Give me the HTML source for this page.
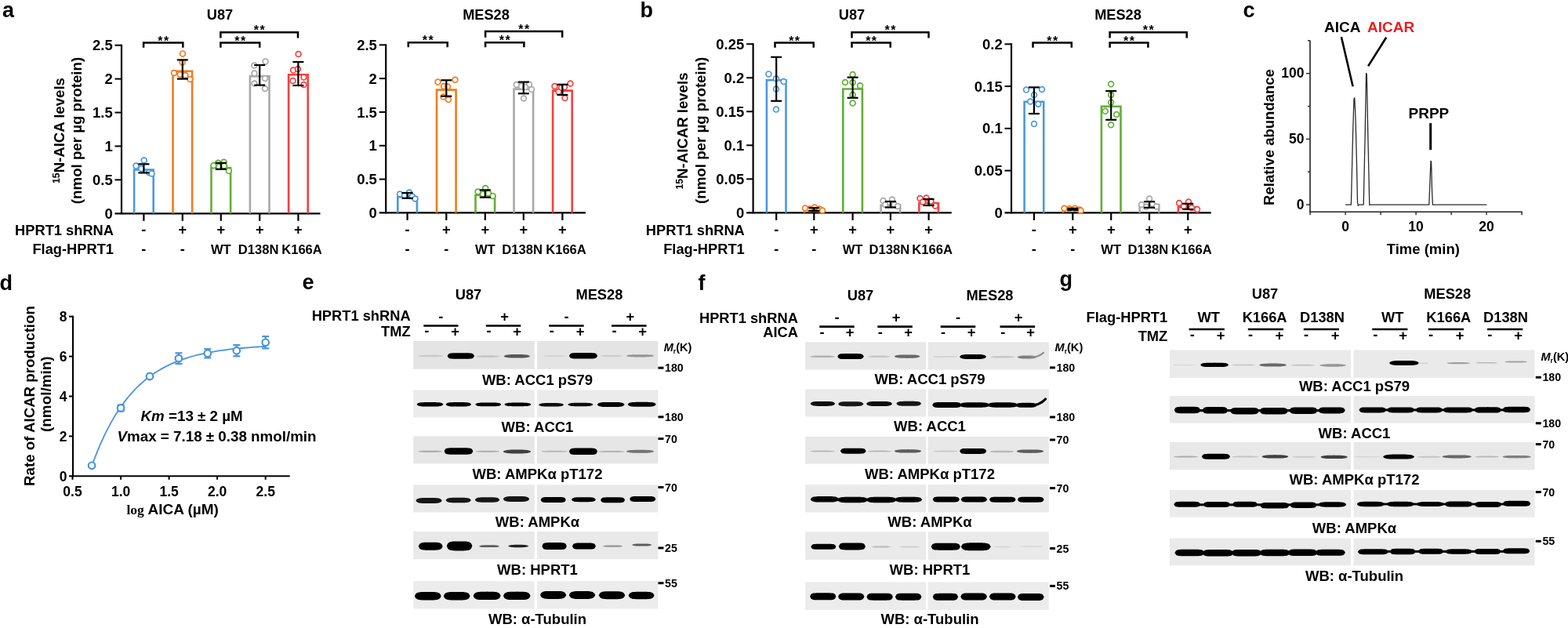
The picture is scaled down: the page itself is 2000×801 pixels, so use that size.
<!DOCTYPE html>
<html><head><meta charset="utf-8"><title>Figure</title>
<style>
html,body{margin:0;padding:0;background:#fff;width:2000px;height:801px;overflow:hidden}
svg{display:block}
text{font-family:"Liberation Sans", Arial, sans-serif;}
</style></head>
<body><svg width="2000" height="801" viewBox="0 0 2000 801">
<rect width="2000" height="801" fill="#fff"/>
<text x="3.0" y="22.0" font-size="27" text-anchor="start" font-weight="bold" fill="#000" >a</text>
<text x="816.5" y="22.3" font-size="27" text-anchor="start" font-weight="bold" fill="#000" >b</text>
<text x="1585.5" y="22.0" font-size="27" text-anchor="start" font-weight="bold" fill="#000" >c</text>
<text x="-0.5" y="370.3" font-size="27" text-anchor="start" font-weight="bold" fill="#000" >d</text>
<text x="385.5" y="368.9" font-size="27" text-anchor="start" font-weight="bold" fill="#000" >e</text>
<text x="890.5" y="369.5" font-size="27" text-anchor="start" font-weight="bold" fill="#000" >f</text>
<text x="1351.5" y="364.6" font-size="27" text-anchor="start" font-weight="bold" fill="#000" >g</text>
<line x1="155.00" y1="56.70" x2="155.00" y2="273.30" stroke="#000" stroke-width="2.2" stroke-linecap="butt"/>
<line x1="146.50" y1="272.30" x2="408.50" y2="272.30" stroke="#000" stroke-width="2.2" stroke-linecap="butt"/>
<text x="143.7" y="278.9" font-size="18.5" text-anchor="end" font-weight="bold" fill="#000" >0</text>
<line x1="146.50" y1="229.38" x2="155.00" y2="229.38" stroke="#000" stroke-width="2.0" stroke-linecap="butt"/>
<text x="143.7" y="236.0" font-size="18.5" text-anchor="end" font-weight="bold" fill="#000" >0.5</text>
<line x1="146.50" y1="186.46" x2="155.00" y2="186.46" stroke="#000" stroke-width="2.0" stroke-linecap="butt"/>
<text x="143.7" y="193.1" font-size="18.5" text-anchor="end" font-weight="bold" fill="#000" >1</text>
<line x1="146.50" y1="143.54" x2="155.00" y2="143.54" stroke="#000" stroke-width="2.0" stroke-linecap="butt"/>
<text x="143.7" y="150.1" font-size="18.5" text-anchor="end" font-weight="bold" fill="#000" >1.5</text>
<line x1="146.50" y1="100.62" x2="155.00" y2="100.62" stroke="#000" stroke-width="2.0" stroke-linecap="butt"/>
<text x="143.7" y="107.2" font-size="18.5" text-anchor="end" font-weight="bold" fill="#000" >2</text>
<line x1="146.50" y1="57.70" x2="155.00" y2="57.70" stroke="#000" stroke-width="2.0" stroke-linecap="butt"/>
<text x="143.7" y="64.3" font-size="18.5" text-anchor="end" font-weight="bold" fill="#000" >2.5</text>
<line x1="183.40" y1="272.30" x2="183.40" y2="281.80" stroke="#000" stroke-width="2.2" stroke-linecap="butt"/>
<line x1="232.80" y1="272.30" x2="232.80" y2="281.80" stroke="#000" stroke-width="2.2" stroke-linecap="butt"/>
<line x1="281.80" y1="272.30" x2="281.80" y2="281.80" stroke="#000" stroke-width="2.2" stroke-linecap="butt"/>
<line x1="331.20" y1="272.30" x2="331.20" y2="281.80" stroke="#000" stroke-width="2.2" stroke-linecap="butt"/>
<line x1="380.40" y1="272.30" x2="380.40" y2="281.80" stroke="#000" stroke-width="2.2" stroke-linecap="butt"/>
<path d="M171.10,272.30 V216.50 H195.70 V272.30" fill="none" stroke="#4c98dd" stroke-width="2.6"/>
<path d="M220.50,272.30 V90.80 H245.10 V272.30" fill="none" stroke="#f27b21" stroke-width="2.6"/>
<path d="M269.50,272.30 V214.00 H294.10 V272.30" fill="none" stroke="#62ae38" stroke-width="2.6"/>
<path d="M318.90,272.30 V97.30 H343.50 V272.30" fill="none" stroke="#a8a8a8" stroke-width="2.6"/>
<path d="M368.10,272.30 V95.20 H392.70 V272.30" fill="none" stroke="#f6403f" stroke-width="2.6"/>
<circle cx="173.5" cy="211.6" r="3.4" fill="#fff" stroke="#4c98dd" stroke-width="1.7"/>
<circle cx="183.7" cy="204.6" r="3.4" fill="#fff" stroke="#4c98dd" stroke-width="1.7"/>
<circle cx="180.2" cy="215.1" r="3.4" fill="#fff" stroke="#4c98dd" stroke-width="1.7"/>
<circle cx="190.0" cy="220.0" r="3.4" fill="#fff" stroke="#4c98dd" stroke-width="1.7"/>
<circle cx="193.6" cy="221.4" r="3.4" fill="#fff" stroke="#4c98dd" stroke-width="1.7"/>
<circle cx="233.0" cy="68.4" r="3.4" fill="#fff" stroke="#f27b21" stroke-width="1.7"/>
<circle cx="232.6" cy="79.6" r="3.4" fill="#fff" stroke="#f27b21" stroke-width="1.7"/>
<circle cx="222.0" cy="93.0" r="3.4" fill="#fff" stroke="#f27b21" stroke-width="1.7"/>
<circle cx="229.6" cy="95.0" r="3.4" fill="#fff" stroke="#f27b21" stroke-width="1.7"/>
<circle cx="236.4" cy="96.0" r="3.4" fill="#fff" stroke="#f27b21" stroke-width="1.7"/>
<circle cx="242.4" cy="101.0" r="3.4" fill="#fff" stroke="#f27b21" stroke-width="1.7"/>
<circle cx="272.4" cy="211.0" r="3.4" fill="#fff" stroke="#62ae38" stroke-width="1.7"/>
<circle cx="278.2" cy="207.8" r="3.4" fill="#fff" stroke="#62ae38" stroke-width="1.7"/>
<circle cx="285.6" cy="206.7" r="3.4" fill="#fff" stroke="#62ae38" stroke-width="1.7"/>
<circle cx="291.9" cy="217.9" r="3.4" fill="#fff" stroke="#62ae38" stroke-width="1.7"/>
<circle cx="279.3" cy="212.6" r="3.4" fill="#fff" stroke="#62ae38" stroke-width="1.7"/>
<circle cx="286.0" cy="211.5" r="3.4" fill="#fff" stroke="#62ae38" stroke-width="1.7"/>
<circle cx="324.4" cy="83.6" r="3.4" fill="#fff" stroke="#a8a8a8" stroke-width="1.7"/>
<circle cx="338.6" cy="78.6" r="3.4" fill="#fff" stroke="#a8a8a8" stroke-width="1.7"/>
<circle cx="324.6" cy="93.6" r="3.4" fill="#fff" stroke="#a8a8a8" stroke-width="1.7"/>
<circle cx="338.0" cy="100.0" r="3.4" fill="#fff" stroke="#a8a8a8" stroke-width="1.7"/>
<circle cx="324.6" cy="106.6" r="3.4" fill="#fff" stroke="#a8a8a8" stroke-width="1.7"/>
<circle cx="338.0" cy="113.0" r="3.4" fill="#fff" stroke="#a8a8a8" stroke-width="1.7"/>
<circle cx="380.6" cy="69.0" r="3.4" fill="#fff" stroke="#f6403f" stroke-width="1.7"/>
<circle cx="374.0" cy="89.6" r="3.4" fill="#fff" stroke="#f6403f" stroke-width="1.7"/>
<circle cx="380.0" cy="88.0" r="3.4" fill="#fff" stroke="#f6403f" stroke-width="1.7"/>
<circle cx="373.6" cy="103.0" r="3.4" fill="#fff" stroke="#f6403f" stroke-width="1.7"/>
<circle cx="387.4" cy="98.6" r="3.4" fill="#fff" stroke="#f6403f" stroke-width="1.7"/>
<circle cx="387.4" cy="108.0" r="3.4" fill="#fff" stroke="#f6403f" stroke-width="1.7"/>
<line x1="183.40" y1="209.30" x2="183.40" y2="220.40" stroke="#000" stroke-width="2.2" stroke-linecap="butt"/>
<line x1="176.40" y1="209.30" x2="190.40" y2="209.30" stroke="#000" stroke-width="2.2" stroke-linecap="butt"/>
<line x1="176.40" y1="220.40" x2="190.40" y2="220.40" stroke="#000" stroke-width="2.2" stroke-linecap="butt"/>
<line x1="232.80" y1="76.40" x2="232.80" y2="100.60" stroke="#000" stroke-width="2.2" stroke-linecap="butt"/>
<line x1="225.80" y1="76.40" x2="239.80" y2="76.40" stroke="#000" stroke-width="2.2" stroke-linecap="butt"/>
<line x1="225.80" y1="100.60" x2="239.80" y2="100.60" stroke="#000" stroke-width="2.2" stroke-linecap="butt"/>
<line x1="281.80" y1="207.80" x2="281.80" y2="215.80" stroke="#000" stroke-width="2.2" stroke-linecap="butt"/>
<line x1="274.80" y1="207.80" x2="288.80" y2="207.80" stroke="#000" stroke-width="2.2" stroke-linecap="butt"/>
<line x1="274.80" y1="215.80" x2="288.80" y2="215.80" stroke="#000" stroke-width="2.2" stroke-linecap="butt"/>
<line x1="331.20" y1="83.00" x2="331.20" y2="108.60" stroke="#000" stroke-width="2.2" stroke-linecap="butt"/>
<line x1="324.20" y1="83.00" x2="338.20" y2="83.00" stroke="#000" stroke-width="2.2" stroke-linecap="butt"/>
<line x1="324.20" y1="108.60" x2="338.20" y2="108.60" stroke="#000" stroke-width="2.2" stroke-linecap="butt"/>
<line x1="380.40" y1="79.00" x2="380.40" y2="109.00" stroke="#000" stroke-width="2.2" stroke-linecap="butt"/>
<line x1="373.40" y1="79.00" x2="387.40" y2="79.00" stroke="#000" stroke-width="2.2" stroke-linecap="butt"/>
<line x1="373.40" y1="109.00" x2="387.40" y2="109.00" stroke="#000" stroke-width="2.2" stroke-linecap="butt"/>
<path d="M183.1,60.8 V54.6 H233.3 V60.8" fill="none" stroke="#000" stroke-width="2.5"/>
<text x="208.9" y="57.6" font-size="16" text-anchor="middle" font-weight="bold" fill="#000" letter-spacing="1.4">**</text>
<path d="M281.4,48.4 V41.2 H380.0 V48.4" fill="none" stroke="#000" stroke-width="2.5"/>
<text x="331.4" y="44.2" font-size="16" text-anchor="middle" font-weight="bold" fill="#000" letter-spacing="1.4">**</text>
<path d="M281.4,60.8 V54.6 H331.2 V60.8" fill="none" stroke="#000" stroke-width="2.5"/>
<text x="307.0" y="57.6" font-size="16" text-anchor="middle" font-weight="bold" fill="#000" letter-spacing="1.4">**</text>
<text x="280.5" y="24.7" font-size="18.2" text-anchor="middle" font-weight="bold" fill="#000" >U87</text>
<text x="183.4" y="298.8" font-size="18.2" text-anchor="middle" font-weight="bold" fill="#000" >-</text>
<text x="232.8" y="298.8" font-size="18.2" text-anchor="middle" font-weight="bold" fill="#000" >+</text>
<text x="281.8" y="298.8" font-size="18.2" text-anchor="middle" font-weight="bold" fill="#000" >+</text>
<text x="331.2" y="298.8" font-size="18.2" text-anchor="middle" font-weight="bold" fill="#000" >+</text>
<text x="380.4" y="298.8" font-size="18.2" text-anchor="middle" font-weight="bold" fill="#000" >+</text>
<text x="183.4" y="324.0" font-size="18.2" text-anchor="middle" font-weight="bold" fill="#000" >-</text>
<text x="232.8" y="324.0" font-size="18.2" text-anchor="middle" font-weight="bold" fill="#000" >-</text>
<text x="281.8" y="324.0" font-size="16.6" text-anchor="middle" font-weight="bold" fill="#000" >WT</text>
<text x="329.6" y="324.0" font-size="16.6" text-anchor="middle" font-weight="bold" fill="#000" >D138N</text>
<text x="385.0" y="324.0" font-size="16.6" text-anchor="middle" font-weight="bold" fill="#000" >K166A</text>
<text x="145.0" y="299.6" font-size="18.3" text-anchor="end" font-weight="bold" fill="#000" >HPRT1 shRNA</text>
<text x="145.0" y="324.2" font-size="18.3" text-anchor="end" font-weight="bold" fill="#000" >Flag-HPRT1</text>
<line x1="492.20" y1="56.30" x2="492.20" y2="272.40" stroke="#000" stroke-width="2.2" stroke-linecap="butt"/>
<line x1="483.70" y1="271.40" x2="747.00" y2="271.40" stroke="#000" stroke-width="2.2" stroke-linecap="butt"/>
<text x="480.9" y="278.0" font-size="18.5" text-anchor="end" font-weight="bold" fill="#000" >0</text>
<line x1="483.70" y1="228.58" x2="492.20" y2="228.58" stroke="#000" stroke-width="2.0" stroke-linecap="butt"/>
<text x="480.9" y="235.2" font-size="18.5" text-anchor="end" font-weight="bold" fill="#000" >0.5</text>
<line x1="483.70" y1="185.76" x2="492.20" y2="185.76" stroke="#000" stroke-width="2.0" stroke-linecap="butt"/>
<text x="480.9" y="192.4" font-size="18.5" text-anchor="end" font-weight="bold" fill="#000" >1</text>
<line x1="483.70" y1="142.94" x2="492.20" y2="142.94" stroke="#000" stroke-width="2.0" stroke-linecap="butt"/>
<text x="480.9" y="149.5" font-size="18.5" text-anchor="end" font-weight="bold" fill="#000" >1.5</text>
<line x1="483.70" y1="100.12" x2="492.20" y2="100.12" stroke="#000" stroke-width="2.0" stroke-linecap="butt"/>
<text x="480.9" y="106.7" font-size="18.5" text-anchor="end" font-weight="bold" fill="#000" >2</text>
<line x1="483.70" y1="57.30" x2="492.20" y2="57.30" stroke="#000" stroke-width="2.0" stroke-linecap="butt"/>
<text x="480.9" y="63.9" font-size="18.5" text-anchor="end" font-weight="bold" fill="#000" >2.5</text>
<line x1="519.60" y1="271.40" x2="519.60" y2="280.90" stroke="#000" stroke-width="2.2" stroke-linecap="butt"/>
<line x1="569.30" y1="271.40" x2="569.30" y2="280.90" stroke="#000" stroke-width="2.2" stroke-linecap="butt"/>
<line x1="618.80" y1="271.40" x2="618.80" y2="280.90" stroke="#000" stroke-width="2.2" stroke-linecap="butt"/>
<line x1="667.80" y1="271.40" x2="667.80" y2="280.90" stroke="#000" stroke-width="2.2" stroke-linecap="butt"/>
<line x1="717.40" y1="271.40" x2="717.40" y2="280.90" stroke="#000" stroke-width="2.2" stroke-linecap="butt"/>
<path d="M507.30,271.40 V251.20 H531.90 V271.40" fill="none" stroke="#4c98dd" stroke-width="2.6"/>
<path d="M557.00,271.40 V114.60 H581.60 V271.40" fill="none" stroke="#f27b21" stroke-width="2.6"/>
<path d="M606.50,271.40 V249.00 H631.10 V271.40" fill="none" stroke="#62ae38" stroke-width="2.6"/>
<path d="M655.50,271.40 V113.60 H680.10 V271.40" fill="none" stroke="#a8a8a8" stroke-width="2.6"/>
<path d="M705.10,271.40 V115.60 H729.70 V271.40" fill="none" stroke="#f6403f" stroke-width="2.6"/>
<circle cx="510.0" cy="247.5" r="3.4" fill="#fff" stroke="#4c98dd" stroke-width="1.7"/>
<circle cx="522.0" cy="245.5" r="3.4" fill="#fff" stroke="#4c98dd" stroke-width="1.7"/>
<circle cx="516.0" cy="249.5" r="3.4" fill="#fff" stroke="#4c98dd" stroke-width="1.7"/>
<circle cx="526.0" cy="250.5" r="3.4" fill="#fff" stroke="#4c98dd" stroke-width="1.7"/>
<circle cx="529.5" cy="253.5" r="3.4" fill="#fff" stroke="#4c98dd" stroke-width="1.7"/>
<circle cx="558.5" cy="104.5" r="3.4" fill="#fff" stroke="#f27b21" stroke-width="1.7"/>
<circle cx="580.5" cy="101.8" r="3.4" fill="#fff" stroke="#f27b21" stroke-width="1.7"/>
<circle cx="566.0" cy="110.0" r="3.4" fill="#fff" stroke="#f27b21" stroke-width="1.7"/>
<circle cx="571.0" cy="110.5" r="3.4" fill="#fff" stroke="#f27b21" stroke-width="1.7"/>
<circle cx="565.5" cy="123.5" r="3.4" fill="#fff" stroke="#f27b21" stroke-width="1.7"/>
<circle cx="572.0" cy="127.0" r="3.4" fill="#fff" stroke="#f27b21" stroke-width="1.7"/>
<circle cx="609.5" cy="244.5" r="3.4" fill="#fff" stroke="#62ae38" stroke-width="1.7"/>
<circle cx="619.2" cy="240.0" r="3.4" fill="#fff" stroke="#62ae38" stroke-width="1.7"/>
<circle cx="616.0" cy="247.5" r="3.4" fill="#fff" stroke="#62ae38" stroke-width="1.7"/>
<circle cx="623.0" cy="246.5" r="3.4" fill="#fff" stroke="#62ae38" stroke-width="1.7"/>
<circle cx="628.5" cy="250.0" r="3.4" fill="#fff" stroke="#62ae38" stroke-width="1.7"/>
<circle cx="658.8" cy="108.0" r="3.4" fill="#fff" stroke="#a8a8a8" stroke-width="1.7"/>
<circle cx="675.0" cy="107.8" r="3.4" fill="#fff" stroke="#a8a8a8" stroke-width="1.7"/>
<circle cx="665.0" cy="110.0" r="3.4" fill="#fff" stroke="#a8a8a8" stroke-width="1.7"/>
<circle cx="670.0" cy="111.0" r="3.4" fill="#fff" stroke="#a8a8a8" stroke-width="1.7"/>
<circle cx="678.0" cy="114.0" r="3.4" fill="#fff" stroke="#a8a8a8" stroke-width="1.7"/>
<circle cx="668.0" cy="125.5" r="3.4" fill="#fff" stroke="#a8a8a8" stroke-width="1.7"/>
<circle cx="707.5" cy="110.0" r="3.4" fill="#fff" stroke="#f6403f" stroke-width="1.7"/>
<circle cx="727.5" cy="106.5" r="3.4" fill="#fff" stroke="#f6403f" stroke-width="1.7"/>
<circle cx="716.0" cy="112.0" r="3.4" fill="#fff" stroke="#f6403f" stroke-width="1.7"/>
<circle cx="720.0" cy="111.0" r="3.4" fill="#fff" stroke="#f6403f" stroke-width="1.7"/>
<circle cx="712.5" cy="117.0" r="3.4" fill="#fff" stroke="#f6403f" stroke-width="1.7"/>
<circle cx="720.5" cy="125.0" r="3.4" fill="#fff" stroke="#f6403f" stroke-width="1.7"/>
<line x1="519.60" y1="246.00" x2="519.60" y2="252.80" stroke="#000" stroke-width="2.2" stroke-linecap="butt"/>
<line x1="512.60" y1="246.00" x2="526.60" y2="246.00" stroke="#000" stroke-width="2.2" stroke-linecap="butt"/>
<line x1="512.60" y1="252.80" x2="526.60" y2="252.80" stroke="#000" stroke-width="2.2" stroke-linecap="butt"/>
<line x1="569.30" y1="102.30" x2="569.30" y2="122.70" stroke="#000" stroke-width="2.2" stroke-linecap="butt"/>
<line x1="562.30" y1="102.30" x2="576.30" y2="102.30" stroke="#000" stroke-width="2.2" stroke-linecap="butt"/>
<line x1="562.30" y1="122.70" x2="576.30" y2="122.70" stroke="#000" stroke-width="2.2" stroke-linecap="butt"/>
<line x1="618.80" y1="242.40" x2="618.80" y2="251.70" stroke="#000" stroke-width="2.2" stroke-linecap="butt"/>
<line x1="611.80" y1="242.40" x2="625.80" y2="242.40" stroke="#000" stroke-width="2.2" stroke-linecap="butt"/>
<line x1="611.80" y1="251.70" x2="625.80" y2="251.70" stroke="#000" stroke-width="2.2" stroke-linecap="butt"/>
<line x1="667.80" y1="104.60" x2="667.80" y2="119.30" stroke="#000" stroke-width="2.2" stroke-linecap="butt"/>
<line x1="660.80" y1="104.60" x2="674.80" y2="104.60" stroke="#000" stroke-width="2.2" stroke-linecap="butt"/>
<line x1="660.80" y1="119.30" x2="674.80" y2="119.30" stroke="#000" stroke-width="2.2" stroke-linecap="butt"/>
<line x1="717.40" y1="107.80" x2="717.40" y2="121.00" stroke="#000" stroke-width="2.2" stroke-linecap="butt"/>
<line x1="710.40" y1="107.80" x2="724.40" y2="107.80" stroke="#000" stroke-width="2.2" stroke-linecap="butt"/>
<line x1="710.40" y1="121.00" x2="724.40" y2="121.00" stroke="#000" stroke-width="2.2" stroke-linecap="butt"/>
<path d="M520.8,60.2 V54.2 H570.7 V60.2" fill="none" stroke="#000" stroke-width="2.5"/>
<text x="546.5" y="57.2" font-size="16" text-anchor="middle" font-weight="bold" fill="#000" letter-spacing="1.4">**</text>
<path d="M619.1,47.8 V40.0 H717.2 V47.8" fill="none" stroke="#000" stroke-width="2.5"/>
<text x="668.9" y="43.0" font-size="16" text-anchor="middle" font-weight="bold" fill="#000" letter-spacing="1.4">**</text>
<path d="M619.1,60.2 V54.2 H668.4 V60.2" fill="none" stroke="#000" stroke-width="2.5"/>
<text x="644.5" y="57.2" font-size="16" text-anchor="middle" font-weight="bold" fill="#000" letter-spacing="1.4">**</text>
<text x="620.0" y="24.7" font-size="18.2" text-anchor="middle" font-weight="bold" fill="#000" >MES28</text>
<text x="519.6" y="298.8" font-size="18.2" text-anchor="middle" font-weight="bold" fill="#000" >-</text>
<text x="569.3" y="298.8" font-size="18.2" text-anchor="middle" font-weight="bold" fill="#000" >+</text>
<text x="618.8" y="298.8" font-size="18.2" text-anchor="middle" font-weight="bold" fill="#000" >+</text>
<text x="667.8" y="298.8" font-size="18.2" text-anchor="middle" font-weight="bold" fill="#000" >+</text>
<text x="717.4" y="298.8" font-size="18.2" text-anchor="middle" font-weight="bold" fill="#000" >+</text>
<text x="519.6" y="324.0" font-size="18.2" text-anchor="middle" font-weight="bold" fill="#000" >-</text>
<text x="569.3" y="324.0" font-size="18.2" text-anchor="middle" font-weight="bold" fill="#000" >-</text>
<text x="618.8" y="324.0" font-size="16.6" text-anchor="middle" font-weight="bold" fill="#000" >WT</text>
<text x="666.2" y="324.0" font-size="16.6" text-anchor="middle" font-weight="bold" fill="#000" >D138N</text>
<text x="722.0" y="324.0" font-size="16.6" text-anchor="middle" font-weight="bold" fill="#000" >K166A</text>
<line x1="960.60" y1="55.20" x2="960.60" y2="272.40" stroke="#000" stroke-width="2.2" stroke-linecap="butt"/>
<line x1="952.10" y1="271.40" x2="1213.80" y2="271.40" stroke="#000" stroke-width="2.2" stroke-linecap="butt"/>
<text x="949.3" y="278.0" font-size="18.5" text-anchor="end" font-weight="bold" fill="#000" >0</text>
<line x1="952.10" y1="228.36" x2="960.60" y2="228.36" stroke="#000" stroke-width="2.0" stroke-linecap="butt"/>
<text x="949.3" y="235.0" font-size="18.5" text-anchor="end" font-weight="bold" fill="#000" >0.05</text>
<line x1="952.10" y1="185.32" x2="960.60" y2="185.32" stroke="#000" stroke-width="2.0" stroke-linecap="butt"/>
<text x="949.3" y="191.9" font-size="18.5" text-anchor="end" font-weight="bold" fill="#000" >0.1</text>
<line x1="952.10" y1="142.28" x2="960.60" y2="142.28" stroke="#000" stroke-width="2.0" stroke-linecap="butt"/>
<text x="949.3" y="148.9" font-size="18.5" text-anchor="end" font-weight="bold" fill="#000" >0.15</text>
<line x1="952.10" y1="99.24" x2="960.60" y2="99.24" stroke="#000" stroke-width="2.0" stroke-linecap="butt"/>
<text x="949.3" y="105.8" font-size="18.5" text-anchor="end" font-weight="bold" fill="#000" >0.2</text>
<line x1="952.10" y1="56.20" x2="960.60" y2="56.20" stroke="#000" stroke-width="2.0" stroke-linecap="butt"/>
<text x="949.3" y="62.8" font-size="18.5" text-anchor="end" font-weight="bold" fill="#000" >0.25</text>
<line x1="990.20" y1="271.40" x2="990.20" y2="280.90" stroke="#000" stroke-width="2.2" stroke-linecap="butt"/>
<line x1="1038.30" y1="271.40" x2="1038.30" y2="280.90" stroke="#000" stroke-width="2.2" stroke-linecap="butt"/>
<line x1="1087.60" y1="271.40" x2="1087.60" y2="280.90" stroke="#000" stroke-width="2.2" stroke-linecap="butt"/>
<line x1="1135.90" y1="271.40" x2="1135.90" y2="280.90" stroke="#000" stroke-width="2.2" stroke-linecap="butt"/>
<line x1="1184.60" y1="271.40" x2="1184.60" y2="280.90" stroke="#000" stroke-width="2.2" stroke-linecap="butt"/>
<path d="M977.90,271.40 V102.20 H1002.50 V271.40" fill="none" stroke="#4c98dd" stroke-width="2.6"/>
<path d="M1026.00,271.40 V267.20 H1050.60 V271.40" fill="none" stroke="#f27b21" stroke-width="2.6"/>
<path d="M1075.30,271.40 V113.50 H1099.90 V271.40" fill="none" stroke="#62ae38" stroke-width="2.6"/>
<path d="M1123.60,271.40 V261.80 H1148.20 V271.40" fill="none" stroke="#a8a8a8" stroke-width="2.6"/>
<path d="M1172.30,271.40 V259.00 H1196.90 V271.40" fill="none" stroke="#f6403f" stroke-width="2.6"/>
<circle cx="980.4" cy="94.4" r="3.4" fill="#fff" stroke="#4c98dd" stroke-width="1.7"/>
<circle cx="990.0" cy="100.2" r="3.4" fill="#fff" stroke="#4c98dd" stroke-width="1.7"/>
<circle cx="999.5" cy="104.0" r="3.4" fill="#fff" stroke="#4c98dd" stroke-width="1.7"/>
<circle cx="990.0" cy="113.5" r="3.4" fill="#fff" stroke="#4c98dd" stroke-width="1.7"/>
<circle cx="990.0" cy="139.6" r="3.4" fill="#fff" stroke="#4c98dd" stroke-width="1.7"/>
<circle cx="1027.0" cy="265.5" r="3.4" fill="#fff" stroke="#f27b21" stroke-width="1.7"/>
<circle cx="1033.0" cy="266.5" r="3.4" fill="#fff" stroke="#f27b21" stroke-width="1.7"/>
<circle cx="1039.0" cy="264.5" r="3.4" fill="#fff" stroke="#f27b21" stroke-width="1.7"/>
<circle cx="1045.0" cy="266.5" r="3.4" fill="#fff" stroke="#f27b21" stroke-width="1.7"/>
<circle cx="1049.0" cy="268.5" r="3.4" fill="#fff" stroke="#f27b21" stroke-width="1.7"/>
<circle cx="1087.6" cy="95.0" r="3.4" fill="#fff" stroke="#62ae38" stroke-width="1.7"/>
<circle cx="1078.0" cy="105.0" r="3.4" fill="#fff" stroke="#62ae38" stroke-width="1.7"/>
<circle cx="1087.6" cy="105.0" r="3.4" fill="#fff" stroke="#62ae38" stroke-width="1.7"/>
<circle cx="1097.1" cy="109.3" r="3.4" fill="#fff" stroke="#62ae38" stroke-width="1.7"/>
<circle cx="1087.6" cy="121.0" r="3.4" fill="#fff" stroke="#62ae38" stroke-width="1.7"/>
<circle cx="1087.6" cy="131.6" r="3.4" fill="#fff" stroke="#62ae38" stroke-width="1.7"/>
<circle cx="1126.5" cy="256.0" r="3.4" fill="#fff" stroke="#a8a8a8" stroke-width="1.7"/>
<circle cx="1138.0" cy="254.5" r="3.4" fill="#fff" stroke="#a8a8a8" stroke-width="1.7"/>
<circle cx="1129.0" cy="261.0" r="3.4" fill="#fff" stroke="#a8a8a8" stroke-width="1.7"/>
<circle cx="1141.0" cy="261.0" r="3.4" fill="#fff" stroke="#a8a8a8" stroke-width="1.7"/>
<circle cx="1145.0" cy="263.0" r="3.4" fill="#fff" stroke="#a8a8a8" stroke-width="1.7"/>
<circle cx="1173.5" cy="253.0" r="3.4" fill="#fff" stroke="#f6403f" stroke-width="1.7"/>
<circle cx="1181.5" cy="252.5" r="3.4" fill="#fff" stroke="#f6403f" stroke-width="1.7"/>
<circle cx="1187.5" cy="256.5" r="3.4" fill="#fff" stroke="#f6403f" stroke-width="1.7"/>
<circle cx="1193.0" cy="262.5" r="3.4" fill="#fff" stroke="#f6403f" stroke-width="1.7"/>
<circle cx="1177.0" cy="257.5" r="3.4" fill="#fff" stroke="#f6403f" stroke-width="1.7"/>
<line x1="990.20" y1="72.80" x2="990.20" y2="128.80" stroke="#000" stroke-width="2.2" stroke-linecap="butt"/>
<line x1="983.20" y1="72.80" x2="997.20" y2="72.80" stroke="#000" stroke-width="2.2" stroke-linecap="butt"/>
<line x1="983.20" y1="128.80" x2="997.20" y2="128.80" stroke="#000" stroke-width="2.2" stroke-linecap="butt"/>
<line x1="1038.30" y1="265.20" x2="1038.30" y2="268.80" stroke="#000" stroke-width="2.2" stroke-linecap="butt"/>
<line x1="1031.30" y1="265.20" x2="1045.30" y2="265.20" stroke="#000" stroke-width="2.2" stroke-linecap="butt"/>
<line x1="1031.30" y1="268.80" x2="1045.30" y2="268.80" stroke="#000" stroke-width="2.2" stroke-linecap="butt"/>
<line x1="1087.60" y1="98.70" x2="1087.60" y2="124.80" stroke="#000" stroke-width="2.2" stroke-linecap="butt"/>
<line x1="1080.60" y1="98.70" x2="1094.60" y2="98.70" stroke="#000" stroke-width="2.2" stroke-linecap="butt"/>
<line x1="1080.60" y1="124.80" x2="1094.60" y2="124.80" stroke="#000" stroke-width="2.2" stroke-linecap="butt"/>
<line x1="1135.90" y1="257.00" x2="1135.90" y2="264.50" stroke="#000" stroke-width="2.2" stroke-linecap="butt"/>
<line x1="1128.90" y1="257.00" x2="1142.90" y2="257.00" stroke="#000" stroke-width="2.2" stroke-linecap="butt"/>
<line x1="1128.90" y1="264.50" x2="1142.90" y2="264.50" stroke="#000" stroke-width="2.2" stroke-linecap="butt"/>
<line x1="1184.60" y1="254.00" x2="1184.60" y2="262.00" stroke="#000" stroke-width="2.2" stroke-linecap="butt"/>
<line x1="1177.60" y1="254.00" x2="1191.60" y2="254.00" stroke="#000" stroke-width="2.2" stroke-linecap="butt"/>
<line x1="1177.60" y1="262.00" x2="1191.60" y2="262.00" stroke="#000" stroke-width="2.2" stroke-linecap="butt"/>
<path d="M988.5,60.8 V54.6 H1037.7 V60.8" fill="none" stroke="#000" stroke-width="2.5"/>
<text x="1013.8" y="57.6" font-size="16" text-anchor="middle" font-weight="bold" fill="#000" letter-spacing="1.4">**</text>
<path d="M1086.5,48.4 V41.2 H1184.5 V48.4" fill="none" stroke="#000" stroke-width="2.5"/>
<text x="1136.2" y="44.2" font-size="16" text-anchor="middle" font-weight="bold" fill="#000" letter-spacing="1.4">**</text>
<path d="M1086.5,60.8 V54.6 H1135.7 V60.8" fill="none" stroke="#000" stroke-width="2.5"/>
<text x="1111.8" y="57.6" font-size="16" text-anchor="middle" font-weight="bold" fill="#000" letter-spacing="1.4">**</text>
<text x="1086.5" y="24.7" font-size="18.2" text-anchor="middle" font-weight="bold" fill="#000" >U87</text>
<text x="990.2" y="298.8" font-size="18.2" text-anchor="middle" font-weight="bold" fill="#000" >-</text>
<text x="1038.3" y="298.8" font-size="18.2" text-anchor="middle" font-weight="bold" fill="#000" >+</text>
<text x="1087.6" y="298.8" font-size="18.2" text-anchor="middle" font-weight="bold" fill="#000" >+</text>
<text x="1135.9" y="298.8" font-size="18.2" text-anchor="middle" font-weight="bold" fill="#000" >+</text>
<text x="1184.6" y="298.8" font-size="18.2" text-anchor="middle" font-weight="bold" fill="#000" >+</text>
<text x="990.2" y="324.0" font-size="18.2" text-anchor="middle" font-weight="bold" fill="#000" >-</text>
<text x="1038.3" y="324.0" font-size="18.2" text-anchor="middle" font-weight="bold" fill="#000" >-</text>
<text x="1087.6" y="324.0" font-size="16.6" text-anchor="middle" font-weight="bold" fill="#000" >WT</text>
<text x="1134.3" y="324.0" font-size="16.6" text-anchor="middle" font-weight="bold" fill="#000" >D138N</text>
<text x="1189.2" y="324.0" font-size="16.6" text-anchor="middle" font-weight="bold" fill="#000" >K166A</text>
<text x="949.8" y="299.6" font-size="18.3" text-anchor="end" font-weight="bold" fill="#000" >HPRT1 shRNA</text>
<text x="949.8" y="324.2" font-size="18.3" text-anchor="end" font-weight="bold" fill="#000" >Flag-HPRT1</text>
<line x1="1290.00" y1="55.30" x2="1290.00" y2="272.40" stroke="#000" stroke-width="2.2" stroke-linecap="butt"/>
<line x1="1281.50" y1="271.40" x2="1544.70" y2="271.40" stroke="#000" stroke-width="2.2" stroke-linecap="butt"/>
<text x="1278.7" y="278.0" font-size="18.5" text-anchor="end" font-weight="bold" fill="#000" >0</text>
<line x1="1281.50" y1="217.62" x2="1290.00" y2="217.62" stroke="#000" stroke-width="2.0" stroke-linecap="butt"/>
<text x="1278.7" y="224.2" font-size="18.5" text-anchor="end" font-weight="bold" fill="#000" >0.05</text>
<line x1="1281.50" y1="163.85" x2="1290.00" y2="163.85" stroke="#000" stroke-width="2.0" stroke-linecap="butt"/>
<text x="1278.7" y="170.4" font-size="18.5" text-anchor="end" font-weight="bold" fill="#000" >0.1</text>
<line x1="1281.50" y1="110.08" x2="1290.00" y2="110.08" stroke="#000" stroke-width="2.0" stroke-linecap="butt"/>
<text x="1278.7" y="116.7" font-size="18.5" text-anchor="end" font-weight="bold" fill="#000" >0.15</text>
<line x1="1281.50" y1="56.30" x2="1290.00" y2="56.30" stroke="#000" stroke-width="2.0" stroke-linecap="butt"/>
<text x="1278.7" y="62.9" font-size="18.5" text-anchor="end" font-weight="bold" fill="#000" >0.2</text>
<line x1="1318.90" y1="271.40" x2="1318.90" y2="280.90" stroke="#000" stroke-width="2.2" stroke-linecap="butt"/>
<line x1="1368.30" y1="271.40" x2="1368.30" y2="280.90" stroke="#000" stroke-width="2.2" stroke-linecap="butt"/>
<line x1="1417.20" y1="271.40" x2="1417.20" y2="280.90" stroke="#000" stroke-width="2.2" stroke-linecap="butt"/>
<line x1="1466.00" y1="271.40" x2="1466.00" y2="280.90" stroke="#000" stroke-width="2.2" stroke-linecap="butt"/>
<line x1="1515.20" y1="271.40" x2="1515.20" y2="280.90" stroke="#000" stroke-width="2.2" stroke-linecap="butt"/>
<path d="M1306.60,271.40 V129.80 H1331.20 V271.40" fill="none" stroke="#4c98dd" stroke-width="2.6"/>
<path d="M1356.00,271.40 V267.40 H1380.60 V271.40" fill="none" stroke="#f27b21" stroke-width="2.6"/>
<path d="M1404.90,271.40 V135.80 H1429.50 V271.40" fill="none" stroke="#62ae38" stroke-width="2.6"/>
<path d="M1453.70,271.40 V261.00 H1478.30 V271.40" fill="none" stroke="#a8a8a8" stroke-width="2.6"/>
<path d="M1502.90,271.40 V264.40 H1527.50 V271.40" fill="none" stroke="#f6403f" stroke-width="2.6"/>
<circle cx="1309.0" cy="114.6" r="3.4" fill="#fff" stroke="#4c98dd" stroke-width="1.7"/>
<circle cx="1329.0" cy="114.0" r="3.4" fill="#fff" stroke="#4c98dd" stroke-width="1.7"/>
<circle cx="1319.0" cy="121.0" r="3.4" fill="#fff" stroke="#4c98dd" stroke-width="1.7"/>
<circle cx="1314.2" cy="129.5" r="3.4" fill="#fff" stroke="#4c98dd" stroke-width="1.7"/>
<circle cx="1324.3" cy="132.7" r="3.4" fill="#fff" stroke="#4c98dd" stroke-width="1.7"/>
<circle cx="1319.0" cy="158.0" r="3.4" fill="#fff" stroke="#4c98dd" stroke-width="1.7"/>
<circle cx="1357.5" cy="265.8" r="3.4" fill="#fff" stroke="#f27b21" stroke-width="1.7"/>
<circle cx="1364.0" cy="266.3" r="3.4" fill="#fff" stroke="#f27b21" stroke-width="1.7"/>
<circle cx="1371.0" cy="265.7" r="3.4" fill="#fff" stroke="#f27b21" stroke-width="1.7"/>
<circle cx="1377.0" cy="267.5" r="3.4" fill="#fff" stroke="#f27b21" stroke-width="1.7"/>
<circle cx="1378.5" cy="268.5" r="3.4" fill="#fff" stroke="#f27b21" stroke-width="1.7"/>
<circle cx="1417.1" cy="107.2" r="3.4" fill="#fff" stroke="#62ae38" stroke-width="1.7"/>
<circle cx="1417.1" cy="121.0" r="3.4" fill="#fff" stroke="#62ae38" stroke-width="1.7"/>
<circle cx="1417.1" cy="130.5" r="3.4" fill="#fff" stroke="#62ae38" stroke-width="1.7"/>
<circle cx="1409.7" cy="141.8" r="3.4" fill="#fff" stroke="#62ae38" stroke-width="1.7"/>
<circle cx="1424.1" cy="146.0" r="3.4" fill="#fff" stroke="#62ae38" stroke-width="1.7"/>
<circle cx="1417.1" cy="159.2" r="3.4" fill="#fff" stroke="#62ae38" stroke-width="1.7"/>
<circle cx="1456.0" cy="261.0" r="3.4" fill="#fff" stroke="#a8a8a8" stroke-width="1.7"/>
<circle cx="1466.0" cy="253.5" r="3.4" fill="#fff" stroke="#a8a8a8" stroke-width="1.7"/>
<circle cx="1470.0" cy="260.0" r="3.4" fill="#fff" stroke="#a8a8a8" stroke-width="1.7"/>
<circle cx="1475.0" cy="263.5" r="3.4" fill="#fff" stroke="#a8a8a8" stroke-width="1.7"/>
<circle cx="1462.0" cy="264.0" r="3.4" fill="#fff" stroke="#a8a8a8" stroke-width="1.7"/>
<circle cx="1504.0" cy="259.0" r="3.4" fill="#fff" stroke="#f6403f" stroke-width="1.7"/>
<circle cx="1516.0" cy="257.5" r="3.4" fill="#fff" stroke="#f6403f" stroke-width="1.7"/>
<circle cx="1510.0" cy="263.0" r="3.4" fill="#fff" stroke="#f6403f" stroke-width="1.7"/>
<circle cx="1520.0" cy="265.0" r="3.4" fill="#fff" stroke="#f6403f" stroke-width="1.7"/>
<circle cx="1527.0" cy="267.0" r="3.4" fill="#fff" stroke="#f6403f" stroke-width="1.7"/>
<line x1="1318.90" y1="111.40" x2="1318.90" y2="145.00" stroke="#000" stroke-width="2.2" stroke-linecap="butt"/>
<line x1="1311.90" y1="111.40" x2="1325.90" y2="111.40" stroke="#000" stroke-width="2.2" stroke-linecap="butt"/>
<line x1="1311.90" y1="145.00" x2="1325.90" y2="145.00" stroke="#000" stroke-width="2.2" stroke-linecap="butt"/>
<line x1="1368.30" y1="265.80" x2="1368.30" y2="267.80" stroke="#000" stroke-width="2.2" stroke-linecap="butt"/>
<line x1="1361.30" y1="265.80" x2="1375.30" y2="265.80" stroke="#000" stroke-width="2.2" stroke-linecap="butt"/>
<line x1="1361.30" y1="267.80" x2="1375.30" y2="267.80" stroke="#000" stroke-width="2.2" stroke-linecap="butt"/>
<line x1="1417.20" y1="116.10" x2="1417.20" y2="152.80" stroke="#000" stroke-width="2.2" stroke-linecap="butt"/>
<line x1="1410.20" y1="116.10" x2="1424.20" y2="116.10" stroke="#000" stroke-width="2.2" stroke-linecap="butt"/>
<line x1="1410.20" y1="152.80" x2="1424.20" y2="152.80" stroke="#000" stroke-width="2.2" stroke-linecap="butt"/>
<line x1="1466.00" y1="257.20" x2="1466.00" y2="264.80" stroke="#000" stroke-width="2.2" stroke-linecap="butt"/>
<line x1="1459.00" y1="257.20" x2="1473.00" y2="257.20" stroke="#000" stroke-width="2.2" stroke-linecap="butt"/>
<line x1="1459.00" y1="264.80" x2="1473.00" y2="264.80" stroke="#000" stroke-width="2.2" stroke-linecap="butt"/>
<line x1="1515.20" y1="259.80" x2="1515.20" y2="267.00" stroke="#000" stroke-width="2.2" stroke-linecap="butt"/>
<line x1="1508.20" y1="259.80" x2="1522.20" y2="259.80" stroke="#000" stroke-width="2.2" stroke-linecap="butt"/>
<line x1="1508.20" y1="267.00" x2="1522.20" y2="267.00" stroke="#000" stroke-width="2.2" stroke-linecap="butt"/>
<path d="M1317.5,60.8 V54.6 H1366.8 V60.8" fill="none" stroke="#000" stroke-width="2.5"/>
<text x="1342.9" y="57.6" font-size="16" text-anchor="middle" font-weight="bold" fill="#000" letter-spacing="1.4">**</text>
<path d="M1415.6,48.4 V41.2 H1513.7 V48.4" fill="none" stroke="#000" stroke-width="2.5"/>
<text x="1465.4" y="44.2" font-size="16" text-anchor="middle" font-weight="bold" fill="#000" letter-spacing="1.4">**</text>
<path d="M1415.6,60.8 V54.6 H1464.4 V60.8" fill="none" stroke="#000" stroke-width="2.5"/>
<text x="1440.7" y="57.6" font-size="16" text-anchor="middle" font-weight="bold" fill="#000" letter-spacing="1.4">**</text>
<text x="1426.0" y="24.7" font-size="18.2" text-anchor="middle" font-weight="bold" fill="#000" >MES28</text>
<text x="1318.9" y="298.8" font-size="18.2" text-anchor="middle" font-weight="bold" fill="#000" >-</text>
<text x="1368.3" y="298.8" font-size="18.2" text-anchor="middle" font-weight="bold" fill="#000" >+</text>
<text x="1417.2" y="298.8" font-size="18.2" text-anchor="middle" font-weight="bold" fill="#000" >+</text>
<text x="1466.0" y="298.8" font-size="18.2" text-anchor="middle" font-weight="bold" fill="#000" >+</text>
<text x="1515.2" y="298.8" font-size="18.2" text-anchor="middle" font-weight="bold" fill="#000" >+</text>
<text x="1318.9" y="324.0" font-size="18.2" text-anchor="middle" font-weight="bold" fill="#000" >-</text>
<text x="1368.3" y="324.0" font-size="18.2" text-anchor="middle" font-weight="bold" fill="#000" >-</text>
<text x="1417.2" y="324.0" font-size="16.6" text-anchor="middle" font-weight="bold" fill="#000" >WT</text>
<text x="1464.4" y="324.0" font-size="16.6" text-anchor="middle" font-weight="bold" fill="#000" >D138N</text>
<text x="1519.8" y="324.0" font-size="16.6" text-anchor="middle" font-weight="bold" fill="#000" >K166A</text>
<text transform="translate(82.0,166.5) rotate(-90)" font-size="18.6" text-anchor="middle" font-weight="bold"><tspan font-size="12.2" dy="-6">15</tspan><tspan dy="6">N-AICA levels</tspan></text>
<text transform="translate(104.0,166.5) rotate(-90)" font-size="18.7" text-anchor="middle" font-weight="bold">(nmol per µg protein)</text>
<text transform="translate(877.0,167.0) rotate(-90)" font-size="18.6" text-anchor="middle" font-weight="bold"><tspan font-size="12.2" dy="-6">15</tspan><tspan dy="6">N-AICAR levels</tspan></text>
<text transform="translate(899.5,166.3) rotate(-90)" font-size="18.7" text-anchor="middle" font-weight="bold">(nmol per µg protein)</text>
<line x1="1671.0" y1="51.5" x2="1671.0" y2="271.0" stroke="#222" stroke-width="1.6"/>
<line x1="1670.3" y1="270.3" x2="1941.8" y2="270.3" stroke="#222" stroke-width="1.6"/>
<line x1="1666.0" y1="261.1" x2="1671.0" y2="261.1" stroke="#222" stroke-width="1.4"/>
<line x1="1668.0" y1="219.2" x2="1671.0" y2="219.2" stroke="#222" stroke-width="1.4"/>
<line x1="1666.0" y1="177.4" x2="1671.0" y2="177.4" stroke="#222" stroke-width="1.4"/>
<line x1="1668.0" y1="135.6" x2="1671.0" y2="135.6" stroke="#222" stroke-width="1.4"/>
<line x1="1666.0" y1="93.7" x2="1671.0" y2="93.7" stroke="#222" stroke-width="1.4"/>
<line x1="1668.0" y1="51.8" x2="1671.0" y2="51.8" stroke="#222" stroke-width="1.4"/>
<line x1="1671.1" y1="270.3" x2="1671.1" y2="274.3" stroke="#222" stroke-width="1.4"/>
<line x1="1716.1" y1="270.3" x2="1716.1" y2="274.3" stroke="#222" stroke-width="1.4"/>
<line x1="1761.1" y1="270.3" x2="1761.1" y2="274.3" stroke="#222" stroke-width="1.4"/>
<line x1="1806.1" y1="270.3" x2="1806.1" y2="274.3" stroke="#222" stroke-width="1.4"/>
<line x1="1851.1" y1="270.3" x2="1851.1" y2="274.3" stroke="#222" stroke-width="1.4"/>
<line x1="1896.1" y1="270.3" x2="1896.1" y2="274.3" stroke="#222" stroke-width="1.4"/>
<line x1="1941.1" y1="270.3" x2="1941.1" y2="274.3" stroke="#222" stroke-width="1.4"/>
<text x="1663.5" y="266.7" font-size="17.5" text-anchor="end" font-weight="bold">0</text>
<text x="1663.5" y="183.0" font-size="17.5" text-anchor="end" font-weight="bold">50</text>
<text x="1663.5" y="99.3" font-size="17.5" text-anchor="end" font-weight="bold">100</text>
<text x="1716.1" y="294.8" font-size="17.5" text-anchor="middle" font-weight="bold">0</text>
<text x="1806.1" y="294.8" font-size="17.5" text-anchor="middle" font-weight="bold">10</text>
<text x="1896.1" y="294.8" font-size="17.5" text-anchor="middle" font-weight="bold">20</text>
<text x="1815.3" y="324.2" font-size="18.5" text-anchor="middle" font-weight="bold">Time (min)</text>
<text transform="translate(1625,175) rotate(-90)" font-size="18.5" text-anchor="middle" font-weight="bold">Relative abundance</text>
<text x="1689" y="40.7" font-size="19" font-weight="bold">AICA</text>
<text x="1744" y="40.7" font-size="19" font-weight="bold" fill="#ec1c24">AICAR</text>
<text x="1796.5" y="151.2" font-size="19" font-weight="bold">PRPP</text>
<line x1="1710.9" y1="47" x2="1725.6" y2="110.3" stroke="#000" stroke-width="2.6"/>
<line x1="1768.2" y1="47.7" x2="1745.1" y2="84.4" stroke="#000" stroke-width="2.6"/>
<line x1="1824.7" y1="157" x2="1824.7" y2="191.2" stroke="#000" stroke-width="3"/>
<path d="M1716.0,261.1 L1723.4,261.1 L1725.6,170.0 L1727.0,126.0 L1727.8,125.0 L1729.0,150.0 L1730.3,200.0 L1731.5,258.0 L1732.3,262.3 L1733.5,261.1 L1739.2,261.1 L1741.0,180.0 L1742.6,93.3 L1743.3,95.0 L1745.0,180.0 L1746.8,261.5 L1747.5,261.1 L1822.8,261.1 L1824.2,225.0 L1825.0,205.5 L1825.6,206.0 L1826.6,245.0 L1827.4,261.1 L1896.3,261.1" fill="none" stroke="#2a2a2a" stroke-width="1.3" stroke-linejoin="round"/>
<line x1="93.0" y1="402.7" x2="93.0" y2="608.3" stroke="#000" stroke-width="2.1"/>
<line x1="88.0" y1="607.3" x2="369.7" y2="607.3" stroke="#000" stroke-width="2.1"/>
<line x1="88.0" y1="556.4" x2="93.0" y2="556.4" stroke="#000" stroke-width="2"/>
<line x1="88.0" y1="505.5" x2="93.0" y2="505.5" stroke="#000" stroke-width="2"/>
<line x1="88.0" y1="454.6" x2="93.0" y2="454.6" stroke="#000" stroke-width="2"/>
<line x1="88.0" y1="403.7" x2="93.0" y2="403.7" stroke="#000" stroke-width="2"/>
<text x="85.5" y="613.6" font-size="17.5" text-anchor="end" font-weight="bold">0</text>
<text x="85.5" y="562.7" font-size="17.5" text-anchor="end" font-weight="bold">2</text>
<text x="85.5" y="511.8" font-size="17.5" text-anchor="end" font-weight="bold">4</text>
<text x="85.5" y="460.9" font-size="17.5" text-anchor="end" font-weight="bold">6</text>
<text x="85.5" y="410.0" font-size="17.5" text-anchor="end" font-weight="bold">8</text>
<line x1="92.5" y1="607.3" x2="92.5" y2="611.8" stroke="#000" stroke-width="2"/>
<text x="92.5" y="632.9" font-size="17.5" text-anchor="middle" font-weight="bold">0.5</text>
<line x1="154.1" y1="607.3" x2="154.1" y2="611.8" stroke="#000" stroke-width="2"/>
<text x="154.1" y="632.9" font-size="17.5" text-anchor="middle" font-weight="bold">1.0</text>
<line x1="215.6" y1="607.3" x2="215.6" y2="611.8" stroke="#000" stroke-width="2"/>
<text x="215.6" y="632.9" font-size="17.5" text-anchor="middle" font-weight="bold">1.5</text>
<line x1="277.1" y1="607.3" x2="277.1" y2="611.8" stroke="#000" stroke-width="2"/>
<text x="277.1" y="632.9" font-size="17.5" text-anchor="middle" font-weight="bold">2.0</text>
<line x1="338.7" y1="607.3" x2="338.7" y2="611.8" stroke="#000" stroke-width="2"/>
<text x="338.7" y="632.9" font-size="17.5" text-anchor="middle" font-weight="bold">2.5</text>
<text x="161.5" y="656.2" font-size="19" font-weight="bold"><tspan font-family="Liberation Serif, serif" font-weight="bold" font-size="17.5">log</tspan> AICA (µM)</text>
<text transform="translate(44.3,505) rotate(-90)" font-size="18.7" text-anchor="middle" font-weight="bold">Rate of AICAR production</text>
<text transform="translate(65,502.7) rotate(-90)" font-size="18.9" text-anchor="middle" font-weight="bold">(nmol/min)</text>
<text x="179.5" y="537.1" font-size="18.8" font-weight="bold"><tspan font-style="italic">Km</tspan> =13 ± 2 µM</text>
<text x="149.5" y="562.7" font-size="18.8" font-weight="bold"><tspan font-style="italic">V</tspan>max = 7.18 ± 0.38 nmol/min</text>
<path d="M117.1,594.3 L119.9,586.7 L122.7,579.6 L125.4,572.7 L128.2,566.2 L131.0,560.1 L133.7,554.2 L136.5,548.6 L139.3,543.3 L142.0,538.2 L144.8,533.4 L147.6,528.8 L150.4,524.5 L153.1,520.3 L155.9,516.4 L158.7,512.6 L161.4,509.1 L164.2,505.7 L167.0,502.4 L169.7,499.3 L172.5,496.4 L175.3,493.6 L178.1,491.0 L180.8,488.5 L183.6,486.1 L186.4,483.8 L189.1,481.6 L191.9,479.5 L194.7,477.6 L197.4,475.7 L200.2,473.9 L203.0,472.2 L205.8,470.6 L208.5,469.1 L211.3,467.6 L214.1,466.2 L216.8,464.9 L219.6,463.6 L222.4,462.4 L225.1,461.3 L227.9,460.2 L230.7,459.2 L233.4,458.2 L236.2,457.3 L239.0,456.4 L241.8,455.5 L244.5,454.7 L247.3,454.0 L250.1,453.2 L252.8,452.6 L255.6,451.9 L258.4,451.3 L261.1,450.7 L263.9,450.1 L266.7,449.6 L269.5,449.1 L272.2,448.6 L275.0,448.1 L277.8,447.7 L280.5,447.2 L283.3,446.8 L286.1,446.5 L288.8,446.1 L291.6,445.7 L294.4,445.4 L297.2,445.1 L299.9,444.8 L302.7,444.5 L305.5,444.3 L308.2,444.0 L311.0,443.8 L313.8,443.5 L316.5,443.3 L319.3,443.1 L322.1,442.9 L324.9,442.7 L327.6,442.5 L330.4,442.3 L333.2,442.2 L335.9,442.0 L338.7,441.9" fill="none" stroke="#4a94db" stroke-width="1.8"/>
<circle cx="117.1" cy="593.8" r="4.3" fill="#fff" stroke="#4a94db" stroke-width="2.2"/>
<line x1="154.1" y1="516.7" x2="154.1" y2="524.3" stroke="#4a94db" stroke-width="2.2"/>
<line x1="149.6" y1="516.7" x2="158.6" y2="516.7" stroke="#4a94db" stroke-width="2.2"/>
<line x1="149.6" y1="524.3" x2="158.6" y2="524.3" stroke="#4a94db" stroke-width="2.2"/>
<circle cx="154.1" cy="520.5" r="4.3" fill="#fff" stroke="#4a94db" stroke-width="2.2"/>
<circle cx="191.0" cy="480.0" r="4.3" fill="#fff" stroke="#4a94db" stroke-width="2.2"/>
<line x1="227.9" y1="450.3" x2="227.9" y2="464.0" stroke="#4a94db" stroke-width="2.2"/>
<line x1="223.4" y1="450.3" x2="232.4" y2="450.3" stroke="#4a94db" stroke-width="2.2"/>
<line x1="223.4" y1="464.0" x2="232.4" y2="464.0" stroke="#4a94db" stroke-width="2.2"/>
<circle cx="227.9" cy="457.1" r="4.3" fill="#fff" stroke="#4a94db" stroke-width="2.2"/>
<line x1="264.8" y1="445.2" x2="264.8" y2="456.4" stroke="#4a94db" stroke-width="2.2"/>
<line x1="260.3" y1="445.2" x2="269.3" y2="445.2" stroke="#4a94db" stroke-width="2.2"/>
<line x1="260.3" y1="456.4" x2="269.3" y2="456.4" stroke="#4a94db" stroke-width="2.2"/>
<circle cx="264.8" cy="450.8" r="4.3" fill="#fff" stroke="#4a94db" stroke-width="2.2"/>
<line x1="301.8" y1="440.1" x2="301.8" y2="454.3" stroke="#4a94db" stroke-width="2.2"/>
<line x1="297.3" y1="440.1" x2="306.3" y2="440.1" stroke="#4a94db" stroke-width="2.2"/>
<line x1="297.3" y1="454.3" x2="306.3" y2="454.3" stroke="#4a94db" stroke-width="2.2"/>
<circle cx="301.8" cy="447.2" r="4.3" fill="#fff" stroke="#4a94db" stroke-width="2.2"/>
<line x1="338.7" y1="429.1" x2="338.7" y2="444.4" stroke="#4a94db" stroke-width="2.2"/>
<line x1="334.2" y1="429.1" x2="343.2" y2="429.1" stroke="#4a94db" stroke-width="2.2"/>
<line x1="334.2" y1="444.4" x2="343.2" y2="444.4" stroke="#4a94db" stroke-width="2.2"/>
<circle cx="338.7" cy="436.8" r="4.3" fill="#fff" stroke="#4a94db" stroke-width="2.2"/>
<defs><filter id="bl" x="-20%" y="-100%" width="140%" height="300%"><feGaussianBlur stdDeviation="0.75"/></filter><filter id="bl2" x="-20%" y="-100%" width="140%" height="300%"><feGaussianBlur stdDeviation="1.3"/></filter></defs>
<rect x="527.3" y="435.0" width="154.5" height="35.8" fill="rgb(228,228,228)"/>
<rect x="685.0" y="435.0" width="154.3" height="35.8" fill="rgb(228,228,228)"/>
<rect x="527.3" y="497.5" width="154.5" height="35.0" fill="rgb(235,235,235)"/>
<rect x="685.0" y="497.5" width="154.3" height="35.0" fill="rgb(235,235,235)"/>
<rect x="527.3" y="556.4" width="154.5" height="35.0" fill="rgb(230,230,230)"/>
<rect x="685.0" y="556.4" width="154.3" height="35.0" fill="rgb(230,230,230)"/>
<rect x="527.3" y="618.3" width="154.5" height="35.3" fill="rgb(233,233,233)"/>
<rect x="685.0" y="618.3" width="154.3" height="35.3" fill="rgb(233,233,233)"/>
<rect x="527.3" y="677.9" width="154.5" height="35.3" fill="rgb(233,233,233)"/>
<rect x="685.0" y="677.9" width="154.3" height="35.3" fill="rgb(233,233,233)"/>
<rect x="527.3" y="741.2" width="154.5" height="35.3" fill="rgb(236,236,236)"/>
<rect x="685.0" y="741.2" width="154.3" height="35.3" fill="rgb(236,236,236)"/>
<path d="M534.4,453.6 L535.7,453.3 L536.9,453.1 L538.2,453.0 L539.4,452.9 L540.7,452.8 L542.0,452.8 L543.2,452.8 L544.5,452.8 L545.7,452.8 L547.0,452.8 L548.2,452.8 L549.5,452.8 L550.8,452.8 L552.0,452.8 L553.3,452.8 L554.5,452.8 L555.8,452.8 L557.0,452.8 L558.3,452.8 L559.6,452.9 L560.8,453.0 L562.1,453.1 L563.3,453.3 L564.6,453.6 L564.6,454.4 L563.3,454.7 L562.1,454.9 L560.8,455.0 L559.6,455.1 L558.3,455.2 L557.0,455.2 L555.8,455.2 L554.5,455.2 L553.3,455.2 L552.0,455.2 L550.8,455.2 L549.5,455.2 L548.2,455.2 L547.0,455.2 L545.7,455.2 L544.5,455.2 L543.2,455.2 L542.0,455.2 L540.7,455.2 L539.4,455.1 L538.2,455.0 L536.9,454.9 L535.7,454.7 L534.4,454.4Z" fill="rgb(202,202,202)" filter="url(#bl)"/>
<path d="M570.8,453.6 L572.2,451.5 L573.6,450.8 L575.1,450.5 L576.5,450.4 L577.9,450.3 L579.3,450.3 L580.7,450.3 L582.2,450.3 L583.6,450.3 L585.0,450.3 L586.4,450.3 L587.8,450.2 L589.3,450.3 L590.7,450.3 L592.1,450.3 L593.5,450.3 L595.0,450.3 L596.4,450.3 L597.8,450.3 L599.2,450.4 L600.6,450.5 L602.1,450.8 L603.5,451.5 L604.9,453.6 L604.9,454.4 L603.5,456.5 L602.1,457.2 L600.6,457.5 L599.2,457.6 L597.8,457.7 L596.4,457.7 L595.0,457.7 L593.5,457.7 L592.1,457.7 L590.7,457.7 L589.3,457.7 L587.8,457.8 L586.4,457.7 L585.0,457.7 L583.6,457.7 L582.2,457.7 L580.7,457.7 L579.3,457.7 L577.9,457.7 L576.5,457.6 L575.1,457.5 L573.6,457.2 L572.2,456.5 L570.8,454.4Z" fill="rgb(0,0,0)" filter="url(#bl)"/>
<path d="M607.9,454.1 L609.1,453.8 L610.3,453.6 L611.5,453.5 L612.7,453.4 L613.9,453.3 L615.1,453.3 L616.3,453.3 L617.5,453.3 L618.7,453.3 L619.9,453.3 L621.1,453.3 L622.3,453.2 L623.5,453.3 L624.7,453.3 L625.9,453.3 L627.1,453.3 L628.3,453.3 L629.5,453.3 L630.7,453.3 L631.9,453.4 L633.1,453.5 L634.3,453.6 L635.5,453.8 L636.7,454.1 L636.7,454.9 L635.5,455.2 L634.3,455.4 L633.1,455.5 L631.9,455.6 L630.7,455.7 L629.5,455.7 L628.3,455.7 L627.1,455.7 L625.9,455.7 L624.7,455.7 L623.5,455.7 L622.3,455.8 L621.1,455.7 L619.9,455.7 L618.7,455.7 L617.5,455.7 L616.3,455.7 L615.1,455.7 L613.9,455.7 L612.7,455.6 L611.5,455.5 L610.3,455.4 L609.1,455.2 L607.9,454.9Z" fill="rgb(196,196,196)" filter="url(#bl)"/>
<path d="M642.9,453.9 L644.3,453.2 L645.6,452.8 L647.0,452.6 L648.4,452.4 L649.8,452.3 L651.1,452.2 L652.5,452.1 L653.9,452.1 L655.2,452.1 L656.6,452.1 L658.0,452.1 L659.3,452.1 L660.7,452.1 L662.1,452.1 L663.5,452.1 L664.8,452.1 L666.2,452.1 L667.6,452.2 L668.9,452.3 L670.3,452.4 L671.7,452.6 L673.1,452.8 L674.4,453.2 L675.8,453.9 L675.8,454.7 L674.4,455.4 L673.1,455.8 L671.7,456.0 L670.3,456.2 L668.9,456.3 L667.6,456.4 L666.2,456.5 L664.8,456.5 L663.5,456.5 L662.1,456.5 L660.7,456.5 L659.3,456.6 L658.0,456.5 L656.6,456.5 L655.2,456.5 L653.9,456.5 L652.5,456.5 L651.1,456.4 L649.8,456.3 L648.4,456.2 L647.0,456.0 L645.6,455.8 L644.3,455.4 L642.9,454.7Z" fill="rgb(87,87,87)" filter="url(#bl)"/>
<path d="M693.0,453.6 L694.2,453.5 L695.4,453.4 L696.6,453.3 L697.8,453.2 L699.0,453.2 L700.2,453.1 L701.4,453.1 L702.6,453.1 L703.8,453.1 L705.0,453.1 L706.2,453.1 L707.4,453.1 L708.6,453.1 L709.8,453.1 L711.0,453.1 L712.2,453.1 L713.4,453.1 L714.6,453.1 L715.8,453.2 L717.0,453.2 L718.2,453.3 L719.4,453.4 L720.6,453.5 L721.8,453.6 L721.8,454.4 L720.6,454.5 L719.4,454.6 L718.2,454.7 L717.0,454.8 L715.8,454.8 L714.6,454.9 L713.4,454.9 L712.2,454.9 L711.0,454.9 L709.8,454.9 L708.6,454.9 L707.4,454.9 L706.2,454.9 L705.0,454.9 L703.8,454.9 L702.6,454.9 L701.4,454.9 L700.2,454.9 L699.0,454.8 L697.8,454.8 L696.6,454.7 L695.4,454.6 L694.2,454.5 L693.0,454.4Z" fill="rgb(212,212,212)" filter="url(#bl)"/>
<path d="M726.0,453.4 L727.5,451.3 L729.0,450.6 L730.5,450.3 L732.0,450.2 L733.5,450.1 L735.0,450.1 L736.5,450.1 L738.0,450.1 L739.5,450.1 L741.0,450.1 L742.5,450.1 L744.0,450.1 L745.5,450.1 L747.0,450.1 L748.5,450.1 L750.0,450.1 L751.5,450.1 L753.0,450.1 L754.5,450.1 L756.0,450.2 L757.5,450.3 L759.0,450.6 L760.5,451.3 L762.0,453.4 L762.0,454.2 L760.5,456.3 L759.0,457.0 L757.5,457.3 L756.0,457.4 L754.5,457.5 L753.0,457.5 L751.5,457.5 L750.0,457.5 L748.5,457.5 L747.0,457.5 L745.5,457.5 L744.0,457.6 L742.5,457.5 L741.0,457.5 L739.5,457.5 L738.0,457.5 L736.5,457.5 L735.0,457.5 L733.5,457.5 L732.0,457.4 L730.5,457.3 L729.0,457.0 L727.5,456.3 L726.0,454.2Z" fill="rgb(0,0,0)" filter="url(#bl)"/>
<path d="M766.3,453.6 L767.4,453.5 L768.6,453.3 L769.7,453.2 L770.9,453.1 L772.0,453.1 L773.1,453.0 L774.3,453.0 L775.4,453.0 L776.5,453.0 L777.7,453.0 L778.8,453.0 L780.0,453.0 L781.1,453.0 L782.2,453.0 L783.4,453.0 L784.5,453.0 L785.6,453.0 L786.8,453.0 L787.9,453.1 L789.1,453.1 L790.2,453.2 L791.3,453.3 L792.5,453.5 L793.6,453.6 L793.6,454.4 L792.5,454.5 L791.3,454.7 L790.2,454.8 L789.1,454.9 L787.9,454.9 L786.8,455.0 L785.6,455.0 L784.5,455.0 L783.4,455.0 L782.2,455.0 L781.1,455.0 L780.0,455.0 L778.8,455.0 L777.7,455.0 L776.5,455.0 L775.4,455.0 L774.3,455.0 L773.1,455.0 L772.0,454.9 L770.9,454.9 L769.7,454.8 L768.6,454.7 L767.4,454.5 L766.3,454.4Z" fill="rgb(202,202,202)" filter="url(#bl)"/>
<path d="M799.3,453.4 L800.7,452.9 L802.2,452.6 L803.6,452.5 L805.0,452.4 L806.5,452.3 L807.9,452.3 L809.4,452.2 L810.8,452.2 L812.2,452.2 L813.7,452.2 L815.1,452.2 L816.5,452.2 L818.0,452.2 L819.4,452.2 L820.9,452.2 L822.3,452.2 L823.7,452.2 L825.2,452.3 L826.6,452.3 L828.0,452.4 L829.5,452.5 L830.9,452.6 L832.4,452.9 L833.8,453.4 L833.8,454.2 L832.4,454.7 L830.9,455.0 L829.5,455.1 L828.0,455.2 L826.6,455.3 L825.2,455.3 L823.7,455.4 L822.3,455.4 L820.9,455.4 L819.4,455.4 L818.0,455.4 L816.5,455.4 L815.1,455.4 L813.7,455.4 L812.2,455.4 L810.8,455.4 L809.4,455.4 L807.9,455.3 L806.5,455.3 L805.0,455.2 L803.6,455.1 L802.2,455.0 L800.7,454.7 L799.3,454.2Z" fill="rgb(150,150,150)" filter="url(#bl)"/>
<path d="M531.7,515.4 L533.1,514.3 L534.5,513.8 L535.9,513.5 L537.3,513.3 L538.7,513.2 L540.1,513.2 L541.5,513.1 L542.9,513.1 L544.3,513.1 L545.7,513.1 L547.1,513.1 L548.5,513.1 L549.9,513.1 L551.3,513.1 L552.7,513.1 L554.1,513.1 L555.5,513.1 L556.9,513.2 L558.3,513.2 L559.7,513.3 L561.1,513.5 L562.5,513.8 L563.9,514.3 L565.3,515.4 L565.3,516.1 L563.9,517.3 L562.5,517.8 L561.1,518.1 L559.7,518.3 L558.3,518.4 L556.9,518.4 L555.5,518.5 L554.1,518.5 L552.7,518.5 L551.3,518.5 L549.9,518.5 L548.5,518.5 L547.1,518.5 L545.7,518.5 L544.3,518.5 L542.9,518.5 L541.5,518.5 L540.1,518.4 L538.7,518.4 L537.3,518.3 L535.9,518.1 L534.5,517.8 L533.1,517.3 L531.7,516.1Z" fill="rgb(0,0,0)" filter="url(#bl)"/>
<path d="M568.7,515.4 L570.0,514.3 L571.4,513.8 L572.7,513.5 L574.1,513.3 L575.4,513.2 L576.8,513.2 L578.1,513.1 L579.5,513.1 L580.8,513.1 L582.2,513.1 L583.5,513.1 L584.9,513.1 L586.2,513.1 L587.5,513.1 L588.9,513.1 L590.2,513.1 L591.6,513.1 L592.9,513.2 L594.3,513.2 L595.6,513.3 L597.0,513.5 L598.3,513.8 L599.7,514.3 L601.0,515.4 L601.0,516.1 L599.7,517.3 L598.3,517.8 L597.0,518.1 L595.6,518.3 L594.3,518.4 L592.9,518.4 L591.6,518.5 L590.2,518.5 L588.9,518.5 L587.5,518.5 L586.2,518.5 L584.9,518.5 L583.5,518.5 L582.2,518.5 L580.8,518.5 L579.5,518.5 L578.1,518.5 L576.8,518.4 L575.4,518.4 L574.1,518.3 L572.7,518.1 L571.4,517.8 L570.0,517.3 L568.7,516.1Z" fill="rgb(0,0,0)" filter="url(#bl)"/>
<path d="M606.5,515.5 L607.9,514.5 L609.2,514.1 L610.6,513.9 L612.0,513.7 L613.3,513.6 L614.7,513.6 L616.0,513.5 L617.4,513.5 L618.8,513.5 L620.1,513.5 L621.5,513.5 L622.9,513.5 L624.2,513.5 L625.6,513.5 L626.9,513.5 L628.3,513.5 L629.7,513.5 L631.0,513.6 L632.4,513.6 L633.8,513.7 L635.1,513.9 L636.5,514.1 L637.8,514.5 L639.2,515.5 L639.2,516.2 L637.8,517.3 L636.5,517.7 L635.1,517.9 L633.8,518.1 L632.4,518.2 L631.0,518.2 L629.7,518.3 L628.3,518.3 L626.9,518.3 L625.6,518.3 L624.2,518.3 L622.9,518.3 L621.5,518.3 L620.1,518.3 L618.8,518.3 L617.4,518.3 L616.0,518.3 L614.7,518.2 L613.3,518.2 L612.0,518.1 L610.6,517.9 L609.2,517.7 L607.9,517.3 L606.5,516.2Z" fill="rgb(0,0,0)" filter="url(#bl)"/>
<path d="M643.6,515.5 L645.0,514.6 L646.4,514.2 L647.8,513.9 L649.2,513.8 L650.6,513.7 L652.0,513.7 L653.4,513.6 L654.8,513.6 L656.2,513.6 L657.6,513.6 L659.0,513.6 L660.4,513.6 L661.8,513.6 L663.2,513.6 L664.6,513.6 L666.0,513.6 L667.4,513.6 L668.8,513.7 L670.2,513.7 L671.6,513.8 L673.0,513.9 L674.4,514.2 L675.8,514.6 L677.2,515.5 L677.2,516.2 L675.8,517.2 L674.4,517.6 L673.0,517.9 L671.6,518.0 L670.2,518.1 L668.8,518.1 L667.4,518.2 L666.0,518.2 L664.6,518.2 L663.2,518.2 L661.8,518.2 L660.4,518.2 L659.0,518.2 L657.6,518.2 L656.2,518.2 L654.8,518.2 L653.4,518.2 L652.0,518.1 L650.6,518.1 L649.2,518.0 L647.8,517.9 L646.4,517.6 L645.0,517.2 L643.6,516.2Z" fill="rgb(0,0,0)" filter="url(#bl)"/>
<path d="M687.3,515.9 L688.6,515.0 L689.9,514.7 L691.2,514.4 L692.6,514.3 L693.9,514.2 L695.2,514.1 L696.5,514.1 L697.8,514.1 L699.1,514.1 L700.5,514.1 L701.8,514.1 L703.1,514.1 L704.4,514.1 L705.7,514.1 L707.0,514.1 L708.4,514.1 L709.7,514.1 L711.0,514.1 L712.3,514.2 L713.6,514.3 L714.9,514.4 L716.3,514.7 L717.6,515.0 L718.9,515.9 L718.9,516.6 L717.6,517.6 L716.3,517.9 L714.9,518.2 L713.6,518.3 L712.3,518.4 L711.0,518.5 L709.7,518.5 L708.4,518.5 L707.0,518.5 L705.7,518.5 L704.4,518.5 L703.1,518.5 L701.8,518.5 L700.5,518.5 L699.1,518.5 L697.8,518.5 L696.5,518.5 L695.2,518.5 L693.9,518.4 L692.6,518.3 L691.2,518.2 L689.9,517.9 L688.6,517.6 L687.3,516.6Z" fill="rgb(12,12,12)" filter="url(#bl)"/>
<path d="M724.6,515.6 L725.9,514.7 L727.2,514.4 L728.6,514.1 L729.9,514.0 L731.2,513.9 L732.5,513.8 L733.8,513.8 L735.1,513.8 L736.5,513.8 L737.8,513.8 L739.1,513.8 L740.4,513.8 L741.7,513.8 L743.0,513.8 L744.4,513.8 L745.7,513.8 L747.0,513.8 L748.3,513.8 L749.6,513.9 L750.9,514.0 L752.3,514.1 L753.6,514.4 L754.9,514.7 L756.2,515.6 L756.2,516.4 L754.9,517.3 L753.6,517.6 L752.3,517.9 L750.9,518.0 L749.6,518.1 L748.3,518.2 L747.0,518.2 L745.7,518.2 L744.4,518.2 L743.0,518.2 L741.7,518.2 L740.4,518.2 L739.1,518.2 L737.8,518.2 L736.5,518.2 L735.1,518.2 L733.8,518.2 L732.5,518.2 L731.2,518.1 L729.9,518.0 L728.6,517.9 L727.2,517.6 L725.9,517.3 L724.6,516.4Z" fill="rgb(12,12,12)" filter="url(#bl)"/>
<path d="M762.0,515.6 L763.4,514.3 L764.9,513.8 L766.3,513.4 L767.7,513.3 L769.2,513.1 L770.6,513.1 L772.0,513.0 L773.5,513.0 L774.9,513.0 L776.3,513.0 L777.8,513.0 L779.2,513.0 L780.6,513.0 L782.1,513.0 L783.5,513.0 L784.9,513.0 L786.4,513.0 L787.8,513.1 L789.2,513.1 L790.7,513.3 L792.1,513.4 L793.5,513.8 L795.0,514.3 L796.4,515.6 L796.4,516.4 L795.0,517.7 L793.5,518.2 L792.1,518.6 L790.7,518.7 L789.2,518.9 L787.8,518.9 L786.4,519.0 L784.9,519.0 L783.5,519.0 L782.1,519.0 L780.6,519.0 L779.2,519.0 L777.8,519.0 L776.3,519.0 L774.9,519.0 L773.5,519.0 L772.0,519.0 L770.6,518.9 L769.2,518.9 L767.7,518.7 L766.3,518.6 L764.9,518.2 L763.4,517.7 L762.0,516.4Z" fill="rgb(0,0,0)" filter="url(#bl)"/>
<path d="M800.7,515.4 L802.2,514.1 L803.7,513.6 L805.2,513.2 L806.7,513.1 L808.2,512.9 L809.7,512.9 L811.2,512.8 L812.7,512.8 L814.2,512.8 L815.7,512.8 L817.2,512.8 L818.7,512.8 L820.1,512.8 L821.6,512.8 L823.1,512.8 L824.6,512.8 L826.1,512.8 L827.6,512.9 L829.1,512.9 L830.6,513.1 L832.1,513.2 L833.6,513.6 L835.1,514.1 L836.6,515.4 L836.6,516.1 L835.1,517.5 L833.6,518.0 L832.1,518.4 L830.6,518.5 L829.1,518.7 L827.6,518.7 L826.1,518.8 L824.6,518.8 L823.1,518.8 L821.6,518.8 L820.1,518.8 L818.7,518.8 L817.2,518.8 L815.7,518.8 L814.2,518.8 L812.7,518.8 L811.2,518.8 L809.7,518.7 L808.2,518.7 L806.7,518.5 L805.2,518.4 L803.7,518.0 L802.2,517.5 L800.7,516.1Z" fill="rgb(0,0,0)" filter="url(#bl)"/>
<path d="M533.8,575.4 L535.0,575.2 L536.3,575.0 L537.5,574.9 L538.8,574.8 L540.0,574.8 L541.2,574.7 L542.5,574.7 L543.7,574.7 L544.9,574.7 L546.2,574.7 L547.4,574.7 L548.6,574.7 L549.9,574.7 L551.1,574.7 L552.4,574.7 L553.6,574.7 L554.8,574.7 L556.1,574.7 L557.3,574.8 L558.5,574.8 L559.8,574.9 L561.0,575.0 L562.3,575.2 L563.5,575.4 L563.5,576.1 L562.3,576.4 L561.0,576.6 L559.8,576.7 L558.5,576.8 L557.3,576.8 L556.1,576.9 L554.8,576.9 L553.6,576.9 L552.4,576.9 L551.1,576.9 L549.9,576.9 L548.6,576.9 L547.4,576.9 L546.2,576.9 L544.9,576.9 L543.7,576.9 L542.5,576.9 L541.2,576.9 L540.0,576.8 L538.8,576.8 L537.5,576.7 L536.3,576.6 L535.0,576.4 L533.8,576.1Z" fill="rgb(172,172,172)" filter="url(#bl)"/>
<path d="M566.7,575.1 L568.2,572.6 L569.7,571.9 L571.3,571.5 L572.8,571.4 L574.3,571.3 L575.8,571.3 L577.3,571.3 L578.9,571.3 L580.4,571.3 L581.9,571.3 L583.4,571.3 L585.0,571.2 L586.5,571.3 L588.0,571.3 L589.5,571.3 L591.0,571.3 L592.6,571.3 L594.1,571.3 L595.6,571.3 L597.1,571.4 L598.6,571.5 L600.2,571.9 L601.7,572.6 L603.2,575.1 L603.2,575.9 L601.7,578.4 L600.2,579.1 L598.6,579.5 L597.1,579.6 L595.6,579.7 L594.1,579.7 L592.6,579.7 L591.0,579.7 L589.5,579.7 L588.0,579.7 L586.5,579.7 L585.0,579.8 L583.4,579.7 L581.9,579.7 L580.4,579.7 L578.9,579.7 L577.3,579.7 L575.8,579.7 L574.3,579.7 L572.8,579.6 L571.3,579.5 L569.7,579.1 L568.2,578.4 L566.7,575.9Z" fill="rgb(0,0,0)" filter="url(#bl)"/>
<path d="M607.0,575.4 L608.2,575.2 L609.5,575.0 L610.7,574.9 L612.0,574.8 L613.2,574.8 L614.4,574.7 L615.7,574.7 L616.9,574.7 L618.1,574.7 L619.4,574.7 L620.6,574.7 L621.9,574.7 L623.1,574.7 L624.3,574.7 L625.6,574.7 L626.8,574.7 L628.0,574.7 L629.3,574.7 L630.5,574.8 L631.8,574.8 L633.0,574.9 L634.2,575.0 L635.5,575.2 L636.7,575.4 L636.7,576.1 L635.5,576.4 L634.2,576.6 L633.0,576.7 L631.8,576.8 L630.5,576.8 L629.3,576.9 L628.0,576.9 L626.8,576.9 L625.6,576.9 L624.3,576.9 L623.1,576.9 L621.9,576.9 L620.6,576.9 L619.4,576.9 L618.1,576.9 L616.9,576.9 L615.7,576.9 L614.4,576.9 L613.2,576.8 L612.0,576.8 L610.7,576.7 L609.5,576.6 L608.2,576.4 L607.0,576.1Z" fill="rgb(179,179,179)" filter="url(#bl)"/>
<path d="M642.0,575.6 L643.5,574.8 L644.9,574.4 L646.4,574.1 L647.8,573.9 L649.3,573.8 L650.8,573.7 L652.2,573.6 L653.7,573.5 L655.1,573.5 L656.6,573.5 L658.0,573.5 L659.5,573.5 L661.0,573.5 L662.4,573.5 L663.9,573.5 L665.3,573.5 L666.8,573.6 L668.2,573.7 L669.7,573.8 L671.2,573.9 L672.6,574.1 L674.1,574.4 L675.5,574.8 L677.0,575.6 L677.0,576.4 L675.5,577.2 L674.1,577.6 L672.6,577.9 L671.2,578.1 L669.7,578.2 L668.2,578.3 L666.8,578.4 L665.3,578.5 L663.9,578.5 L662.4,578.5 L661.0,578.5 L659.5,578.5 L658.0,578.5 L656.6,578.5 L655.1,578.5 L653.7,578.5 L652.2,578.4 L650.8,578.3 L649.3,578.2 L647.8,578.1 L646.4,577.9 L644.9,577.6 L643.5,577.2 L642.0,576.4Z" fill="rgb(64,64,64)" filter="url(#bl)"/>
<path d="M690.8,575.4 L692.2,575.3 L693.5,575.1 L694.9,575.0 L696.3,574.9 L697.7,574.9 L699.0,574.8 L700.4,574.8 L701.8,574.8 L703.1,574.8 L704.5,574.8 L705.9,574.8 L707.2,574.8 L708.6,574.8 L710.0,574.8 L711.4,574.8 L712.7,574.8 L714.1,574.8 L715.5,574.8 L716.8,574.9 L718.2,574.9 L719.6,575.0 L721.0,575.1 L722.3,575.3 L723.7,575.4 L723.7,576.1 L722.3,576.3 L721.0,576.5 L719.6,576.6 L718.2,576.7 L716.8,576.7 L715.5,576.8 L714.1,576.8 L712.7,576.8 L711.4,576.8 L710.0,576.8 L708.6,576.8 L707.2,576.8 L705.9,576.8 L704.5,576.8 L703.1,576.8 L701.8,576.8 L700.4,576.8 L699.0,576.8 L697.7,576.7 L696.3,576.7 L694.9,576.6 L693.5,576.5 L692.2,576.3 L690.8,576.1Z" fill="rgb(184,184,184)" filter="url(#bl)"/>
<path d="M725.9,575.4 L727.4,572.9 L728.9,572.2 L730.4,571.8 L731.9,571.7 L733.4,571.6 L734.9,571.6 L736.4,571.6 L737.9,571.6 L739.4,571.6 L740.9,571.6 L742.4,571.6 L744.0,571.5 L745.5,571.6 L747.0,571.6 L748.5,571.6 L750.0,571.6 L751.5,571.6 L753.0,571.6 L754.5,571.6 L756.0,571.7 L757.5,571.8 L759.0,572.2 L760.5,572.9 L762.0,575.4 L762.0,576.1 L760.5,578.7 L759.0,579.4 L757.5,579.8 L756.0,579.9 L754.5,580.0 L753.0,580.0 L751.5,580.0 L750.0,580.0 L748.5,580.0 L747.0,580.0 L745.5,580.0 L744.0,580.0 L742.4,580.0 L740.9,580.0 L739.4,580.0 L737.9,580.0 L736.4,580.0 L734.9,580.0 L733.4,580.0 L731.9,579.9 L730.4,579.8 L728.9,579.4 L727.4,578.7 L725.9,576.1Z" fill="rgb(0,0,0)" filter="url(#bl)"/>
<path d="M764.0,575.6 L765.3,575.5 L766.7,575.3 L768.0,575.2 L769.3,575.1 L770.6,575.1 L772.0,575.0 L773.3,575.0 L774.6,575.0 L776.0,575.0 L777.3,575.0 L778.6,575.0 L780.0,575.0 L781.3,575.0 L782.6,575.0 L783.9,575.0 L785.3,575.0 L786.6,575.0 L787.9,575.0 L789.3,575.1 L790.6,575.1 L791.9,575.2 L793.2,575.3 L794.6,575.5 L795.9,575.6 L795.9,576.4 L794.6,576.5 L793.2,576.7 L791.9,576.8 L790.6,576.9 L789.3,576.9 L787.9,577.0 L786.6,577.0 L785.3,577.0 L783.9,577.0 L782.6,577.0 L781.3,577.0 L780.0,577.0 L778.6,577.0 L777.3,577.0 L776.0,577.0 L774.6,577.0 L773.3,577.0 L772.0,577.0 L770.6,576.9 L769.3,576.9 L768.0,576.8 L766.7,576.7 L765.3,576.5 L764.0,576.4Z" fill="rgb(179,179,179)" filter="url(#bl)"/>
<path d="M799.0,575.4 L800.5,574.8 L801.9,574.5 L803.4,574.3 L804.8,574.1 L806.3,574.0 L807.8,573.9 L809.2,573.9 L810.7,573.8 L812.1,573.8 L813.6,573.8 L815.0,573.8 L816.5,573.8 L818.0,573.8 L819.4,573.8 L820.9,573.8 L822.3,573.8 L823.8,573.9 L825.2,573.9 L826.7,574.0 L828.2,574.1 L829.6,574.3 L831.1,574.5 L832.5,574.8 L834.0,575.4 L834.0,576.1 L832.5,576.8 L831.1,577.1 L829.6,577.3 L828.2,577.5 L826.7,577.6 L825.2,577.7 L823.8,577.7 L822.3,577.8 L820.9,577.8 L819.4,577.8 L818.0,577.8 L816.5,577.8 L815.0,577.8 L813.6,577.8 L812.1,577.8 L810.7,577.8 L809.2,577.7 L807.8,577.7 L806.3,577.6 L804.8,577.5 L803.4,577.3 L801.9,577.1 L800.5,576.8 L799.0,576.1Z" fill="rgb(115,115,115)" filter="url(#bl)"/>
<path d="M530.6,638.1 L532.0,636.5 L533.3,635.9 L534.7,635.5 L536.1,635.3 L537.5,635.2 L538.8,635.1 L540.2,635.0 L541.6,635.0 L542.9,635.0 L544.3,635.0 L545.7,635.0 L547.0,635.0 L548.4,635.0 L549.8,635.0 L551.2,635.0 L552.5,635.0 L553.9,635.0 L555.3,635.1 L556.6,635.2 L558.0,635.3 L559.4,635.5 L560.8,635.9 L562.1,636.5 L563.5,638.1 L563.5,638.9 L562.1,640.5 L560.8,641.1 L559.4,641.5 L558.0,641.7 L556.6,641.8 L555.3,641.9 L553.9,642.0 L552.5,642.0 L551.2,642.0 L549.8,642.0 L548.4,642.0 L547.0,642.0 L545.7,642.0 L544.3,642.0 L542.9,642.0 L541.6,642.0 L540.2,642.0 L538.8,641.9 L537.5,641.8 L536.1,641.7 L534.7,641.5 L533.3,641.1 L532.0,640.5 L530.6,638.9Z" fill="rgb(23,23,23)" filter="url(#bl)"/>
<path d="M568.8,637.6 L570.1,636.2 L571.5,635.6 L572.8,635.2 L574.1,635.0 L575.4,634.9 L576.8,634.8 L578.1,634.8 L579.4,634.8 L580.7,634.8 L582.1,634.8 L583.4,634.8 L584.7,634.8 L586.0,634.8 L587.4,634.8 L588.7,634.8 L590.0,634.8 L591.3,634.8 L592.7,634.8 L594.0,634.9 L595.3,635.0 L596.6,635.2 L598.0,635.6 L599.3,636.2 L600.6,637.6 L600.6,638.4 L599.3,639.8 L598.0,640.4 L596.6,640.8 L595.3,641.0 L594.0,641.1 L592.7,641.2 L591.3,641.2 L590.0,641.2 L588.7,641.2 L587.4,641.2 L586.0,641.2 L584.7,641.2 L583.4,641.2 L582.1,641.2 L580.7,641.2 L579.4,641.2 L578.1,641.2 L576.8,641.2 L575.4,641.1 L574.1,641.0 L572.8,640.8 L571.5,640.4 L570.1,639.8 L568.8,638.4Z" fill="rgb(23,23,23)" filter="url(#bl)"/>
<path d="M606.0,637.1 L607.3,635.7 L608.6,635.1 L609.9,634.7 L611.2,634.5 L612.5,634.4 L613.8,634.3 L615.1,634.3 L616.4,634.3 L617.7,634.3 L619.0,634.3 L620.3,634.3 L621.5,634.2 L622.8,634.3 L624.1,634.3 L625.4,634.3 L626.7,634.3 L628.0,634.3 L629.3,634.3 L630.6,634.4 L631.9,634.5 L633.2,634.7 L634.5,635.1 L635.8,635.7 L637.1,637.1 L637.1,637.9 L635.8,639.3 L634.5,639.9 L633.2,640.3 L631.9,640.5 L630.6,640.6 L629.3,640.7 L628.0,640.7 L626.7,640.7 L625.4,640.7 L624.1,640.7 L622.8,640.7 L621.5,640.8 L620.3,640.7 L619.0,640.7 L617.7,640.7 L616.4,640.7 L615.1,640.7 L613.8,640.7 L612.5,640.6 L611.2,640.5 L609.9,640.3 L608.6,639.9 L607.3,639.3 L606.0,637.9Z" fill="rgb(23,23,23)" filter="url(#bl)"/>
<path d="M642.0,636.1 L643.4,634.5 L644.8,633.9 L646.1,633.5 L647.5,633.3 L648.9,633.2 L650.2,633.1 L651.6,633.0 L653.0,633.0 L654.4,633.0 L655.8,633.0 L657.1,633.0 L658.5,633.0 L659.9,633.0 L661.2,633.0 L662.6,633.0 L664.0,633.0 L665.4,633.0 L666.8,633.1 L668.1,633.2 L669.5,633.3 L670.9,633.5 L672.2,633.9 L673.6,634.5 L675.0,636.1 L675.0,636.9 L673.6,638.5 L672.2,639.1 L670.9,639.5 L669.5,639.7 L668.1,639.8 L666.8,639.9 L665.4,640.0 L664.0,640.0 L662.6,640.0 L661.2,640.0 L659.9,640.0 L658.5,640.0 L657.1,640.0 L655.8,640.0 L654.4,640.0 L653.0,640.0 L651.6,640.0 L650.2,639.9 L648.9,639.8 L647.5,639.7 L646.1,639.5 L644.8,639.1 L643.4,638.5 L642.0,636.9Z" fill="rgb(18,18,18)" filter="url(#bl)"/>
<path d="M689.8,637.1 L691.1,635.1 L692.5,634.5 L693.8,634.2 L695.1,634.1 L696.4,634.0 L697.8,634.0 L699.1,634.0 L700.4,634.0 L701.7,634.0 L703.1,634.0 L704.4,634.0 L705.7,634.0 L707.0,634.0 L708.4,634.0 L709.7,634.0 L711.0,634.0 L712.3,634.0 L713.7,634.0 L715.0,634.0 L716.3,634.1 L717.6,634.2 L719.0,634.5 L720.3,635.1 L721.6,637.1 L721.6,637.9 L720.3,639.9 L719.0,640.5 L717.6,640.8 L716.3,640.9 L715.0,641.0 L713.7,641.0 L712.3,641.0 L711.0,641.0 L709.7,641.0 L708.4,641.0 L707.0,641.0 L705.7,641.0 L704.4,641.0 L703.1,641.0 L701.7,641.0 L700.4,641.0 L699.1,641.0 L697.8,641.0 L696.4,641.0 L695.1,640.9 L693.8,640.8 L692.5,640.5 L691.1,639.9 L689.8,637.9Z" fill="rgb(0,0,0)" filter="url(#bl)"/>
<path d="M729.0,636.9 L730.3,635.5 L731.6,635.0 L732.9,634.6 L734.1,634.5 L735.4,634.3 L736.7,634.3 L738.0,634.2 L739.3,634.2 L740.5,634.2 L741.8,634.2 L743.1,634.2 L744.4,634.2 L745.7,634.2 L747.0,634.2 L748.2,634.2 L749.5,634.2 L750.8,634.2 L752.1,634.3 L753.4,634.3 L754.7,634.5 L755.9,634.6 L757.2,635.0 L758.5,635.5 L759.8,636.9 L759.8,637.6 L758.5,638.9 L757.2,639.4 L755.9,639.8 L754.7,639.9 L753.4,640.1 L752.1,640.1 L750.8,640.2 L749.5,640.2 L748.2,640.2 L747.0,640.2 L745.7,640.2 L744.4,640.2 L743.1,640.2 L741.8,640.2 L740.5,640.2 L739.3,640.2 L738.0,640.2 L736.7,640.1 L735.4,640.1 L734.1,639.9 L732.9,639.8 L731.6,639.4 L730.3,638.9 L729.0,637.6Z" fill="rgb(0,0,0)" filter="url(#bl)"/>
<path d="M766.2,637.4 L767.5,635.4 L768.8,634.8 L770.1,634.5 L771.3,634.4 L772.6,634.3 L773.9,634.3 L775.2,634.3 L776.5,634.3 L777.8,634.3 L779.0,634.3 L780.3,634.3 L781.6,634.3 L782.9,634.3 L784.2,634.3 L785.5,634.3 L786.7,634.3 L788.0,634.3 L789.3,634.3 L790.6,634.3 L791.9,634.4 L793.1,634.5 L794.4,634.8 L795.7,635.4 L797.0,637.4 L797.0,638.1 L795.7,640.2 L794.4,640.8 L793.1,641.1 L791.9,641.2 L790.6,641.3 L789.3,641.3 L788.0,641.3 L786.7,641.3 L785.5,641.3 L784.2,641.3 L782.9,641.3 L781.6,641.3 L780.3,641.3 L779.0,641.3 L777.8,641.3 L776.5,641.3 L775.2,641.3 L773.9,641.3 L772.6,641.3 L771.3,641.2 L770.1,641.1 L768.8,640.8 L767.5,640.2 L766.2,638.1Z" fill="rgb(0,0,0)" filter="url(#bl)"/>
<path d="M803.3,636.1 L804.7,634.1 L806.0,633.5 L807.4,633.2 L808.8,633.1 L810.2,633.0 L811.5,633.0 L812.9,633.0 L814.3,633.0 L815.6,633.0 L817.0,633.0 L818.4,633.0 L819.8,633.0 L821.1,633.0 L822.5,633.0 L823.9,633.0 L825.2,633.0 L826.6,633.0 L828.0,633.0 L829.3,633.0 L830.7,633.1 L832.1,633.2 L833.5,633.5 L834.8,634.1 L836.2,636.1 L836.2,636.9 L834.8,638.9 L833.5,639.5 L832.1,639.8 L830.7,639.9 L829.3,640.0 L828.0,640.0 L826.6,640.0 L825.2,640.0 L823.9,640.0 L822.5,640.0 L821.1,640.0 L819.8,640.0 L818.4,640.0 L817.0,640.0 L815.6,640.0 L814.3,640.0 L812.9,640.0 L811.5,640.0 L810.2,640.0 L808.8,639.9 L807.4,639.8 L806.0,639.5 L804.7,638.9 L803.3,636.9Z" fill="rgb(0,0,0)" filter="url(#bl)"/>
<path d="M533.8,696.4 L535.1,693.9 L536.4,693.0 L537.6,692.4 L538.9,692.1 L540.2,691.9 L541.5,691.8 L542.8,691.7 L544.1,691.7 L545.4,691.7 L546.6,691.7 L547.9,691.7 L549.2,691.7 L550.5,691.7 L551.8,691.7 L553.1,691.7 L554.3,691.7 L555.6,691.7 L556.9,691.8 L558.2,691.9 L559.5,692.1 L560.8,692.4 L562.0,693.0 L563.3,693.9 L564.6,696.4 L564.6,697.1 L563.3,699.5 L562.0,700.4 L560.8,701.0 L559.5,701.3 L558.2,701.5 L556.9,701.6 L555.6,701.7 L554.3,701.7 L553.1,701.7 L551.8,701.7 L550.5,701.7 L549.2,701.7 L547.9,701.7 L546.6,701.7 L545.4,701.7 L544.1,701.7 L542.8,701.7 L541.5,701.6 L540.2,701.5 L538.9,701.3 L537.6,701.0 L536.4,700.4 L535.1,699.5 L533.8,697.1Z" fill="rgb(0,0,0)" filter="url(#bl)"/>
<path d="M569.9,696.0 L571.2,693.0 L572.6,691.9 L573.9,691.3 L575.3,690.9 L576.6,690.7 L578.0,690.5 L579.3,690.5 L580.7,690.4 L582.0,690.4 L583.4,690.4 L584.7,690.4 L586.1,690.4 L587.4,690.4 L588.8,690.4 L590.1,690.4 L591.5,690.4 L592.8,690.5 L594.2,690.5 L595.5,690.7 L596.9,690.9 L598.2,691.3 L599.6,691.9 L600.9,693.0 L602.3,696.0 L602.3,696.8 L600.9,699.8 L599.6,700.9 L598.2,701.5 L596.9,701.9 L595.5,702.1 L594.2,702.3 L592.8,702.3 L591.5,702.4 L590.1,702.4 L588.8,702.4 L587.4,702.4 L586.1,702.4 L584.7,702.4 L583.4,702.4 L582.0,702.4 L580.7,702.4 L579.3,702.3 L578.0,702.3 L576.6,702.1 L575.3,701.9 L573.9,701.5 L572.6,700.9 L571.2,699.8 L569.9,696.8Z" fill="rgb(0,0,0)" filter="url(#bl)"/>
<path d="M611.3,696.4 L612.4,695.9 L613.4,695.7 L614.5,695.5 L615.5,695.4 L616.6,695.4 L617.6,695.3 L618.7,695.3 L619.8,695.3 L620.8,695.3 L621.9,695.3 L622.9,695.3 L624.0,695.3 L625.1,695.3 L626.1,695.3 L627.2,695.3 L628.2,695.3 L629.3,695.3 L630.4,695.3 L631.4,695.4 L632.5,695.4 L633.5,695.5 L634.6,695.7 L635.6,695.9 L636.7,696.4 L636.7,697.1 L635.6,697.5 L634.6,697.7 L633.5,697.9 L632.5,698.0 L631.4,698.0 L630.4,698.1 L629.3,698.1 L628.2,698.1 L627.2,698.1 L626.1,698.1 L625.1,698.1 L624.0,698.1 L622.9,698.1 L621.9,698.1 L620.8,698.1 L619.8,698.1 L618.7,698.1 L617.6,698.1 L616.6,698.0 L615.5,698.0 L614.5,697.9 L613.4,697.7 L612.4,697.5 L611.3,697.1Z" fill="rgb(92,92,92)" filter="url(#bl)"/>
<path d="M648.4,696.1 L649.5,695.7 L650.5,695.4 L651.6,695.2 L652.6,695.0 L653.7,694.9 L654.8,694.9 L655.8,694.8 L656.9,694.8 L658.0,694.8 L659.0,694.8 L660.1,694.8 L661.1,694.8 L662.2,694.8 L663.3,694.8 L664.3,694.8 L665.4,694.8 L666.5,694.8 L667.5,694.9 L668.6,694.9 L669.6,695.0 L670.7,695.2 L671.8,695.4 L672.8,695.7 L673.9,696.1 L673.9,696.9 L672.8,697.3 L671.8,697.6 L670.7,697.8 L669.6,698.0 L668.6,698.1 L667.5,698.1 L666.5,698.2 L665.4,698.2 L664.3,698.2 L663.3,698.2 L662.2,698.2 L661.1,698.2 L660.1,698.2 L659.0,698.2 L658.0,698.2 L656.9,698.2 L655.8,698.2 L654.8,698.1 L653.7,698.1 L652.6,698.0 L651.6,697.8 L650.5,697.6 L649.5,697.3 L648.4,696.9Z" fill="rgb(35,35,35)" filter="url(#bl)"/>
<path d="M691.5,696.2 L692.8,693.6 L694.1,692.8 L695.4,692.4 L696.7,692.2 L698.0,692.2 L699.3,692.1 L700.6,692.1 L701.9,692.1 L703.2,692.1 L704.5,692.1 L705.8,692.1 L707.1,692.1 L708.4,692.1 L709.7,692.1 L711.0,692.1 L712.3,692.1 L713.6,692.1 L714.9,692.1 L716.2,692.2 L717.5,692.2 L718.8,692.4 L720.1,692.8 L721.4,693.6 L722.7,696.2 L722.7,697.0 L721.4,699.6 L720.1,700.4 L718.8,700.8 L717.5,701.0 L716.2,701.0 L714.9,701.1 L713.6,701.1 L712.3,701.1 L711.0,701.1 L709.7,701.1 L708.4,701.1 L707.1,701.1 L705.8,701.1 L704.5,701.1 L703.2,701.1 L701.9,701.1 L700.6,701.1 L699.3,701.1 L698.0,701.0 L696.7,701.0 L695.4,700.8 L694.1,700.4 L692.8,699.6 L691.5,697.0Z" fill="rgb(0,0,0)" filter="url(#bl)"/>
<path d="M730.1,696.2 L731.3,693.9 L732.6,693.2 L733.8,692.9 L735.1,692.7 L736.3,692.6 L737.5,692.6 L738.8,692.6 L740.0,692.6 L741.2,692.6 L742.5,692.6 L743.7,692.6 L745.0,692.6 L746.2,692.6 L747.4,692.6 L748.7,692.6 L749.9,692.6 L751.1,692.6 L752.4,692.6 L753.6,692.6 L754.9,692.7 L756.1,692.9 L757.3,693.2 L758.6,693.9 L759.8,696.2 L759.8,697.0 L758.6,699.3 L757.3,700.0 L756.1,700.3 L754.9,700.5 L753.6,700.6 L752.4,700.6 L751.1,700.6 L749.9,700.6 L748.7,700.6 L747.4,700.6 L746.2,700.6 L745.0,700.6 L743.7,700.6 L742.5,700.6 L741.2,700.6 L740.0,700.6 L738.8,700.6 L737.5,700.6 L736.3,700.6 L735.1,700.5 L733.8,700.3 L732.6,700.0 L731.3,699.3 L730.1,697.0Z" fill="rgb(0,0,0)" filter="url(#bl)"/>
<path d="M769.4,696.2 L770.4,695.9 L771.4,695.7 L772.4,695.6 L773.5,695.5 L774.5,695.4 L775.5,695.4 L776.5,695.4 L777.5,695.4 L778.5,695.4 L779.6,695.4 L780.6,695.4 L781.6,695.4 L782.6,695.4 L783.6,695.4 L784.6,695.4 L785.7,695.4 L786.7,695.4 L787.7,695.4 L788.7,695.4 L789.7,695.5 L790.7,695.6 L791.8,695.7 L792.8,695.9 L793.8,696.2 L793.8,697.0 L792.8,697.3 L791.8,697.5 L790.7,697.6 L789.7,697.7 L788.7,697.8 L787.7,697.8 L786.7,697.8 L785.7,697.8 L784.6,697.8 L783.6,697.8 L782.6,697.8 L781.6,697.9 L780.6,697.8 L779.6,697.8 L778.5,697.8 L777.5,697.8 L776.5,697.8 L775.5,697.8 L774.5,697.8 L773.5,697.7 L772.4,697.6 L771.4,697.5 L770.4,697.3 L769.4,697.0Z" fill="rgb(150,150,150)" filter="url(#bl)"/>
<path d="M806.5,694.6 L807.5,694.2 L808.5,693.9 L809.6,693.8 L810.6,693.7 L811.6,693.6 L812.6,693.5 L813.6,693.5 L814.6,693.5 L815.7,693.5 L816.7,693.5 L817.7,693.5 L818.7,693.5 L819.7,693.5 L820.7,693.5 L821.8,693.5 L822.8,693.5 L823.8,693.5 L824.8,693.5 L825.8,693.6 L826.8,693.7 L827.9,693.8 L828.9,693.9 L829.9,694.2 L830.9,694.6 L830.9,695.4 L829.9,695.8 L828.9,696.1 L827.9,696.2 L826.8,696.3 L825.8,696.4 L824.8,696.5 L823.8,696.5 L822.8,696.5 L821.8,696.5 L820.7,696.5 L819.7,696.5 L818.7,696.5 L817.7,696.5 L816.7,696.5 L815.7,696.5 L814.6,696.5 L813.6,696.5 L812.6,696.5 L811.6,696.4 L810.6,696.3 L809.6,696.2 L808.5,696.1 L807.5,695.8 L806.5,695.4Z" fill="rgb(92,92,92)" filter="url(#bl)"/>
<path d="M529.0,759.9 L530.4,757.2 L531.8,756.3 L533.2,755.7 L534.6,755.4 L536.0,755.2 L537.4,755.1 L538.8,755.0 L540.2,755.0 L541.6,755.0 L543.0,755.0 L544.4,755.0 L545.8,755.0 L547.2,755.0 L548.6,755.0 L550.0,755.0 L551.4,755.0 L552.8,755.0 L554.2,755.1 L555.6,755.2 L557.0,755.4 L558.4,755.7 L559.8,756.3 L561.2,757.2 L562.6,759.9 L562.6,760.6 L561.2,763.2 L559.8,764.1 L558.4,764.7 L557.0,765.0 L555.6,765.2 L554.2,765.3 L552.8,765.4 L551.4,765.4 L550.0,765.4 L548.6,765.4 L547.2,765.4 L545.8,765.5 L544.4,765.4 L543.0,765.4 L541.6,765.4 L540.2,765.4 L538.8,765.4 L537.4,765.3 L536.0,765.2 L534.6,765.0 L533.2,764.7 L531.8,764.1 L530.4,763.2 L529.0,760.6Z" fill="rgb(0,0,0)" filter="url(#bl)"/>
<path d="M565.9,759.9 L567.3,757.2 L568.7,756.3 L570.1,755.7 L571.5,755.4 L572.9,755.2 L574.3,755.1 L575.7,755.0 L577.1,755.0 L578.5,755.0 L579.9,755.0 L581.3,755.0 L582.7,755.0 L584.1,755.0 L585.5,755.0 L586.9,755.0 L588.3,755.0 L589.7,755.0 L591.1,755.1 L592.5,755.2 L593.9,755.4 L595.3,755.7 L596.7,756.3 L598.1,757.2 L599.5,759.9 L599.5,760.6 L598.1,763.2 L596.7,764.1 L595.3,764.7 L593.9,765.0 L592.5,765.2 L591.1,765.3 L589.7,765.4 L588.3,765.4 L586.9,765.4 L585.5,765.4 L584.1,765.4 L582.7,765.5 L581.3,765.4 L579.9,765.4 L578.5,765.4 L577.1,765.4 L575.7,765.4 L574.3,765.3 L572.9,765.2 L571.5,765.0 L570.1,764.7 L568.7,764.1 L567.3,763.2 L565.9,760.6Z" fill="rgb(0,0,0)" filter="url(#bl)"/>
<path d="M603.8,759.5 L605.2,756.9 L606.7,756.0 L608.1,755.4 L609.6,755.1 L611.0,754.9 L612.5,754.8 L613.9,754.7 L615.4,754.7 L616.8,754.7 L618.3,754.7 L619.7,754.7 L621.1,754.6 L622.6,754.7 L624.0,754.7 L625.5,754.7 L626.9,754.7 L628.4,754.7 L629.8,754.8 L631.3,754.9 L632.7,755.1 L634.2,755.4 L635.6,756.0 L637.1,756.9 L638.5,759.5 L638.5,760.2 L637.1,762.9 L635.6,763.8 L634.2,764.4 L632.7,764.7 L631.3,764.9 L629.8,765.0 L628.4,765.1 L626.9,765.1 L625.5,765.1 L624.0,765.1 L622.6,765.1 L621.1,765.1 L619.7,765.1 L618.3,765.1 L616.8,765.1 L615.4,765.1 L613.9,765.1 L612.5,765.0 L611.0,764.9 L609.6,764.7 L608.1,764.4 L606.7,763.8 L605.2,762.9 L603.8,760.2Z" fill="rgb(0,0,0)" filter="url(#bl)"/>
<path d="M642.1,759.5 L643.5,756.9 L645.0,756.0 L646.4,755.4 L647.8,755.1 L649.2,754.9 L650.7,754.8 L652.1,754.7 L653.5,754.7 L655.0,754.7 L656.4,754.7 L657.8,754.7 L659.2,754.6 L660.7,754.7 L662.1,754.7 L663.5,754.7 L665.0,754.7 L666.4,754.7 L667.8,754.8 L669.3,754.9 L670.7,755.1 L672.1,755.4 L673.5,756.0 L675.0,756.9 L676.4,759.5 L676.4,760.2 L675.0,762.9 L673.5,763.8 L672.1,764.4 L670.7,764.7 L669.3,764.9 L667.8,765.0 L666.4,765.1 L665.0,765.1 L663.5,765.1 L662.1,765.1 L660.7,765.1 L659.2,765.1 L657.8,765.1 L656.4,765.1 L655.0,765.1 L653.5,765.1 L652.1,765.1 L650.7,765.0 L649.2,764.9 L647.8,764.7 L646.4,764.4 L645.0,763.8 L643.5,762.9 L642.1,760.2Z" fill="rgb(0,0,0)" filter="url(#bl)"/>
<path d="M689.1,758.5 L690.5,756.1 L691.9,755.2 L693.2,754.6 L694.6,754.3 L696.0,754.1 L697.4,754.0 L698.7,753.9 L700.1,753.9 L701.5,753.9 L702.9,753.9 L704.2,753.9 L705.6,753.9 L707.0,753.9 L708.4,753.9 L709.7,753.9 L711.1,753.9 L712.5,753.9 L713.9,754.0 L715.2,754.1 L716.6,754.3 L718.0,754.6 L719.4,755.2 L720.7,756.1 L722.1,758.5 L722.1,759.2 L720.7,761.7 L719.4,762.6 L718.0,763.2 L716.6,763.5 L715.2,763.7 L713.9,763.8 L712.5,763.9 L711.1,763.9 L709.7,763.9 L708.4,763.9 L707.0,763.9 L705.6,763.9 L704.2,763.9 L702.9,763.9 L701.5,763.9 L700.1,763.9 L698.7,763.9 L697.4,763.8 L696.0,763.7 L694.6,763.5 L693.2,763.2 L691.9,762.6 L690.5,761.7 L689.1,759.2Z" fill="rgb(0,0,0)" filter="url(#bl)"/>
<path d="M726.0,758.6 L727.4,756.2 L728.8,755.3 L730.1,754.7 L731.5,754.4 L732.9,754.2 L734.2,754.1 L735.6,754.0 L737.0,754.0 L738.4,754.0 L739.8,754.0 L741.1,754.0 L742.5,754.0 L743.9,754.0 L745.2,754.0 L746.6,754.0 L748.0,754.0 L749.4,754.0 L750.8,754.1 L752.1,754.2 L753.5,754.4 L754.9,754.7 L756.2,755.3 L757.6,756.2 L759.0,758.6 L759.0,759.4 L757.6,761.8 L756.2,762.7 L754.9,763.3 L753.5,763.6 L752.1,763.8 L750.8,763.9 L749.4,764.0 L748.0,764.0 L746.6,764.0 L745.2,764.0 L743.9,764.0 L742.5,764.0 L741.1,764.0 L739.8,764.0 L738.4,764.0 L737.0,764.0 L735.6,764.0 L734.2,763.9 L732.9,763.8 L731.5,763.6 L730.1,763.3 L728.8,762.7 L727.4,761.8 L726.0,759.4Z" fill="rgb(0,0,0)" filter="url(#bl)"/>
<path d="M763.9,758.9 L765.3,756.4 L766.7,755.5 L768.1,754.9 L769.4,754.6 L770.8,754.4 L772.2,754.3 L773.6,754.2 L775.0,754.2 L776.4,754.2 L777.8,754.2 L779.2,754.2 L780.5,754.2 L781.9,754.2 L783.3,754.2 L784.7,754.2 L786.1,754.2 L787.5,754.2 L788.9,754.3 L790.3,754.4 L791.6,754.6 L793.0,754.9 L794.4,755.5 L795.8,756.4 L797.2,758.9 L797.2,759.6 L795.8,762.0 L794.4,762.9 L793.0,763.5 L791.6,763.8 L790.3,764.0 L788.9,764.1 L787.5,764.2 L786.1,764.2 L784.7,764.2 L783.3,764.2 L781.9,764.2 L780.5,764.2 L779.2,764.2 L777.8,764.2 L776.4,764.2 L775.0,764.2 L773.6,764.2 L772.2,764.1 L770.8,764.0 L769.4,763.8 L768.1,763.5 L766.7,762.9 L765.3,762.0 L763.9,759.6Z" fill="rgb(0,0,0)" filter="url(#bl)"/>
<path d="M801.8,759.1 L803.2,756.8 L804.5,755.9 L805.9,755.5 L807.2,755.1 L808.6,755.0 L809.9,754.9 L811.3,754.8 L812.7,754.8 L814.0,754.8 L815.4,754.8 L816.7,754.8 L818.1,754.8 L819.5,754.8 L820.8,754.8 L822.2,754.8 L823.5,754.8 L824.9,754.8 L826.2,754.9 L827.6,755.0 L829.0,755.1 L830.3,755.5 L831.7,755.9 L833.0,756.8 L834.4,759.1 L834.4,759.9 L833.0,762.2 L831.7,763.1 L830.3,763.5 L829.0,763.9 L827.6,764.0 L826.2,764.1 L824.9,764.2 L823.5,764.2 L822.2,764.2 L820.8,764.2 L819.5,764.2 L818.1,764.2 L816.7,764.2 L815.4,764.2 L814.0,764.2 L812.7,764.2 L811.3,764.2 L809.9,764.1 L808.6,764.0 L807.2,763.9 L805.9,763.5 L804.5,763.1 L803.2,762.2 L801.8,759.9Z" fill="rgb(0,0,0)" filter="url(#bl)"/>
<text x="597.5" y="381.6" font-size="18.3" text-anchor="middle" font-weight="bold" >U87</text>
<text x="764.4" y="381.6" font-size="18.3" text-anchor="middle" font-weight="bold" >MES28</text>
<text x="523.6" y="409.4" font-size="18.3" text-anchor="end" font-weight="bold" >HPRT1 shRNA</text>
<text x="523.6" y="429.0" font-size="18.3" text-anchor="end" font-weight="bold" >TMZ</text>
<line x1="540.3" y1="415.5" x2="584.5" y2="415.5" stroke="#000" stroke-width="2.6"/>
<text x="562.4" y="409.6" font-size="18.3" text-anchor="middle" font-weight="bold" >-</text>
<line x1="619.8" y1="415.5" x2="664.3" y2="415.5" stroke="#000" stroke-width="2.6"/>
<text x="643.5" y="409.6" font-size="18.3" text-anchor="middle" font-weight="bold" >+</text>
<line x1="700.2" y1="415.5" x2="744.7" y2="415.5" stroke="#000" stroke-width="2.6"/>
<text x="722.5" y="409.6" font-size="18.3" text-anchor="middle" font-weight="bold" >-</text>
<line x1="780.0" y1="415.5" x2="824.6" y2="415.5" stroke="#000" stroke-width="2.6"/>
<text x="803.8" y="409.6" font-size="18.3" text-anchor="middle" font-weight="bold" >+</text>
<text x="544.3" y="428.2" font-size="18.3" text-anchor="middle" font-weight="bold" >-</text>
<text x="580.6" y="428.8" font-size="18.3" text-anchor="middle" font-weight="bold" >+</text>
<text x="623.5" y="428.2" font-size="18.3" text-anchor="middle" font-weight="bold" >-</text>
<text x="659.6" y="428.8" font-size="18.3" text-anchor="middle" font-weight="bold" >+</text>
<text x="703.7" y="428.2" font-size="18.3" text-anchor="middle" font-weight="bold" >-</text>
<text x="740.0" y="428.8" font-size="18.3" text-anchor="middle" font-weight="bold" >+</text>
<text x="783.5" y="428.2" font-size="18.3" text-anchor="middle" font-weight="bold" >-</text>
<text x="819.5" y="428.8" font-size="18.3" text-anchor="middle" font-weight="bold" >+</text>
<text x="685.5" y="490.7" font-size="18.5" text-anchor="middle" font-weight="bold" >WB: ACC1 pS79</text>
<text x="685.5" y="551.0" font-size="18.5" text-anchor="middle" font-weight="bold" >WB: ACC1</text>
<text x="685.5" y="611.1" font-size="18.5" text-anchor="middle" font-weight="bold" >WB: AMPKα pT172</text>
<text x="685.5" y="672.3" font-size="18.5" text-anchor="middle" font-weight="bold" >WB: AMPKα</text>
<text x="685.5" y="732.8" font-size="18.5" text-anchor="middle" font-weight="bold" >WB: HPRT1</text>
<text x="685.5" y="796.0" font-size="18.5" text-anchor="middle" font-weight="bold" >WB: α-Tubulin</text>
<text x="846.7" y="447.6" font-size="14.6" font-weight="bold"><tspan font-style="italic">M</tspan><tspan font-size="8.5" dy="3">r</tspan><tspan dy="-3">(K)</tspan></text>
<line x1="839.5" y1="469.2" x2="846.5" y2="469.2" stroke="#000" stroke-width="3"/>
<text x="848.1" y="474.2" font-size="14.2" font-weight="bold">180</text>
<line x1="839.5" y1="531.8" x2="846.5" y2="531.8" stroke="#000" stroke-width="3"/>
<text x="848.1" y="536.8" font-size="14.2" font-weight="bold">180</text>
<line x1="839.5" y1="559.6" x2="846.5" y2="559.6" stroke="#000" stroke-width="3"/>
<text x="848.1" y="564.6" font-size="14.2" font-weight="bold">70</text>
<line x1="839.5" y1="621.5" x2="846.5" y2="621.5" stroke="#000" stroke-width="3"/>
<text x="848.1" y="626.5" font-size="14.2" font-weight="bold">70</text>
<line x1="839.5" y1="698.9" x2="846.5" y2="698.9" stroke="#000" stroke-width="3"/>
<text x="848.1" y="703.9" font-size="14.2" font-weight="bold">25</text>
<line x1="839.5" y1="743.7" x2="846.5" y2="743.7" stroke="#000" stroke-width="3"/>
<text x="848.1" y="748.7" font-size="14.2" font-weight="bold">55</text>
<rect x="1027.1" y="436.3" width="154.1" height="35.3" fill="rgb(232,232,232)"/>
<rect x="1183.6" y="436.3" width="154.3" height="35.3" fill="rgb(232,232,232)"/>
<rect x="1027.1" y="496.5" width="154.1" height="35.0" fill="rgb(234,234,234)"/>
<rect x="1183.6" y="496.5" width="154.3" height="35.0" fill="rgb(234,234,234)"/>
<rect x="1027.1" y="556.8" width="154.1" height="34.9" fill="rgb(232,232,232)"/>
<rect x="1183.6" y="556.8" width="154.3" height="34.9" fill="rgb(232,232,232)"/>
<rect x="1027.1" y="618.1" width="154.1" height="35.4" fill="rgb(234,234,234)"/>
<rect x="1183.6" y="618.1" width="154.3" height="35.4" fill="rgb(234,234,234)"/>
<rect x="1027.1" y="678.3" width="154.1" height="35.7" fill="rgb(234,234,234)"/>
<rect x="1183.6" y="678.3" width="154.3" height="35.7" fill="rgb(234,234,234)"/>
<rect x="1027.1" y="742.4" width="154.1" height="35.6" fill="rgb(236,236,236)"/>
<rect x="1183.6" y="742.4" width="154.3" height="35.6" fill="rgb(236,236,236)"/>
<path d="M1033.8,454.4 L1035.1,454.1 L1036.4,453.9 L1037.6,453.8 L1038.9,453.7 L1040.2,453.6 L1041.5,453.6 L1042.8,453.6 L1044.1,453.6 L1045.3,453.6 L1046.6,453.6 L1047.9,453.6 L1049.2,453.6 L1050.5,453.6 L1051.8,453.6 L1053.0,453.6 L1054.3,453.6 L1055.6,453.6 L1056.9,453.6 L1058.2,453.6 L1059.5,453.7 L1060.7,453.8 L1062.0,453.9 L1063.3,454.1 L1064.6,454.4 L1064.6,455.2 L1063.3,455.5 L1062.0,455.7 L1060.7,455.8 L1059.5,455.9 L1058.2,456.0 L1056.9,456.0 L1055.6,456.0 L1054.3,456.0 L1053.0,456.0 L1051.8,456.0 L1050.5,456.0 L1049.2,456.1 L1047.9,456.0 L1046.6,456.0 L1045.3,456.0 L1044.1,456.0 L1042.8,456.0 L1041.5,456.0 L1040.2,456.0 L1038.9,455.9 L1037.6,455.8 L1036.4,455.7 L1035.1,455.5 L1033.8,455.2Z" fill="rgb(179,179,179)" filter="url(#bl)"/>
<path d="M1068.4,454.2 L1069.8,452.2 L1071.2,451.6 L1072.6,451.3 L1074.0,451.2 L1075.3,451.1 L1076.7,451.1 L1078.1,451.1 L1079.5,451.1 L1080.9,451.1 L1082.3,451.1 L1083.7,451.1 L1085.1,451.1 L1086.4,451.1 L1087.8,451.1 L1089.2,451.1 L1090.6,451.1 L1092.0,451.1 L1093.4,451.1 L1094.8,451.1 L1096.2,451.2 L1097.5,451.3 L1098.9,451.6 L1100.3,452.2 L1101.7,454.2 L1101.7,455.0 L1100.3,457.0 L1098.9,457.6 L1097.5,457.9 L1096.2,458.0 L1094.8,458.1 L1093.4,458.1 L1092.0,458.1 L1090.6,458.1 L1089.2,458.1 L1087.8,458.1 L1086.4,458.1 L1085.1,458.1 L1083.7,458.1 L1082.3,458.1 L1080.9,458.1 L1079.5,458.1 L1078.1,458.1 L1076.7,458.1 L1075.3,458.1 L1074.0,458.0 L1072.6,457.9 L1071.2,457.6 L1069.8,457.0 L1068.4,455.0Z" fill="rgb(0,0,0)" filter="url(#bl)"/>
<path d="M1107.0,454.4 L1108.2,454.1 L1109.3,453.9 L1110.5,453.8 L1111.6,453.7 L1112.8,453.6 L1113.9,453.6 L1115.0,453.6 L1116.2,453.6 L1117.3,453.6 L1118.5,453.6 L1119.6,453.6 L1120.8,453.6 L1122.0,453.6 L1123.1,453.6 L1124.2,453.6 L1125.4,453.6 L1126.5,453.6 L1127.7,453.6 L1128.8,453.6 L1130.0,453.7 L1131.1,453.8 L1132.3,453.9 L1133.4,454.1 L1134.6,454.4 L1134.6,455.2 L1133.4,455.5 L1132.3,455.7 L1131.1,455.8 L1130.0,455.9 L1128.8,456.0 L1127.7,456.0 L1126.5,456.0 L1125.4,456.0 L1124.2,456.0 L1123.1,456.0 L1122.0,456.0 L1120.8,456.1 L1119.6,456.0 L1118.5,456.0 L1117.3,456.0 L1116.2,456.0 L1115.0,456.0 L1113.9,456.0 L1112.8,456.0 L1111.6,455.9 L1110.5,455.8 L1109.3,455.7 L1108.2,455.5 L1107.0,455.2Z" fill="rgb(200,200,200)" filter="url(#bl)"/>
<path d="M1141.0,454.2 L1142.3,453.5 L1143.7,453.1 L1145.0,452.9 L1146.4,452.7 L1147.7,452.6 L1149.0,452.5 L1150.4,452.4 L1151.7,452.4 L1153.1,452.4 L1154.4,452.4 L1155.8,452.4 L1157.1,452.4 L1158.4,452.4 L1159.8,452.4 L1161.1,452.4 L1162.5,452.4 L1163.8,452.4 L1165.1,452.5 L1166.5,452.6 L1167.8,452.7 L1169.2,452.9 L1170.5,453.1 L1171.9,453.5 L1173.2,454.2 L1173.2,455.0 L1171.9,455.7 L1170.5,456.1 L1169.2,456.3 L1167.8,456.5 L1166.5,456.6 L1165.1,456.7 L1163.8,456.8 L1162.5,456.8 L1161.1,456.8 L1159.8,456.8 L1158.4,456.8 L1157.1,456.9 L1155.8,456.8 L1154.4,456.8 L1153.1,456.8 L1151.7,456.8 L1150.4,456.8 L1149.0,456.7 L1147.7,456.6 L1146.4,456.5 L1145.0,456.3 L1143.7,456.1 L1142.3,455.7 L1141.0,455.0Z" fill="rgb(103,103,103)" filter="url(#bl)"/>
<path d="M1189.8,454.6 L1191.1,454.5 L1192.4,454.3 L1193.8,454.2 L1195.1,454.1 L1196.4,454.1 L1197.7,454.0 L1199.1,454.0 L1200.4,454.0 L1201.7,454.0 L1203.0,454.0 L1204.4,454.0 L1205.7,454.0 L1207.0,454.0 L1208.3,454.0 L1209.7,454.0 L1211.0,454.0 L1212.3,454.0 L1213.6,454.0 L1215.0,454.1 L1216.3,454.1 L1217.6,454.2 L1218.9,454.3 L1220.3,454.5 L1221.6,454.6 L1221.6,455.4 L1220.3,455.5 L1218.9,455.7 L1217.6,455.8 L1216.3,455.9 L1215.0,455.9 L1213.6,456.0 L1212.3,456.0 L1211.0,456.0 L1209.7,456.0 L1208.3,456.0 L1207.0,456.0 L1205.7,456.0 L1204.4,456.0 L1203.0,456.0 L1201.7,456.0 L1200.4,456.0 L1199.1,456.0 L1197.7,456.0 L1196.4,455.9 L1195.1,455.9 L1193.8,455.8 L1192.4,455.7 L1191.1,455.5 L1189.8,455.4Z" fill="rgb(212,212,212)" filter="url(#bl)"/>
<path d="M1224.2,454.6 L1225.6,453.3 L1227.0,452.8 L1228.4,452.4 L1229.8,452.3 L1231.2,452.1 L1232.6,452.1 L1234.0,452.0 L1235.4,452.0 L1236.8,452.0 L1238.2,452.0 L1239.6,452.0 L1241.0,452.0 L1242.3,452.0 L1243.7,452.0 L1245.1,452.0 L1246.5,452.0 L1247.9,452.0 L1249.3,452.1 L1250.7,452.1 L1252.1,452.3 L1253.5,452.4 L1254.9,452.8 L1256.3,453.3 L1257.7,454.6 L1257.7,455.4 L1256.3,456.7 L1254.9,457.2 L1253.5,457.6 L1252.1,457.7 L1250.7,457.9 L1249.3,457.9 L1247.9,458.0 L1246.5,458.0 L1245.1,458.0 L1243.7,458.0 L1242.3,458.0 L1241.0,458.0 L1239.6,458.0 L1238.2,458.0 L1236.8,458.0 L1235.4,458.0 L1234.0,458.0 L1232.6,457.9 L1231.2,457.9 L1229.8,457.7 L1228.4,457.6 L1227.0,457.2 L1225.6,456.7 L1224.2,455.4Z" fill="rgb(0,0,0)" filter="url(#bl)"/>
<path d="M1264.0,454.9 L1265.2,454.6 L1266.5,454.4 L1267.7,454.3 L1269.0,454.2 L1270.2,454.1 L1271.5,454.1 L1272.7,454.1 L1273.9,454.1 L1275.2,454.1 L1276.4,454.1 L1277.7,454.1 L1278.9,454.1 L1280.1,454.1 L1281.4,454.1 L1282.6,454.1 L1283.9,454.1 L1285.1,454.1 L1286.4,454.1 L1287.6,454.1 L1288.8,454.2 L1290.1,454.3 L1291.3,454.4 L1292.6,454.6 L1293.8,454.9 L1293.8,455.7 L1292.6,456.0 L1291.3,456.2 L1290.1,456.3 L1288.8,456.4 L1287.6,456.5 L1286.4,456.5 L1285.1,456.5 L1283.9,456.5 L1282.6,456.5 L1281.4,456.5 L1280.1,456.5 L1278.9,456.6 L1277.7,456.5 L1276.4,456.5 L1275.2,456.5 L1273.9,456.5 L1272.7,456.5 L1271.5,456.5 L1270.2,456.5 L1269.0,456.4 L1267.7,456.3 L1266.5,456.2 L1265.2,456.0 L1264.0,455.7Z" fill="rgb(200,200,200)" filter="url(#bl)"/>
<path d="M1298.0,455.1 L1299.0,454.5 L1300.0,454.2 L1301.0,454.0 L1302.0,453.8 L1303.0,453.7 L1304.0,453.6 L1305.0,453.6 L1306.0,453.5 L1307.0,453.5 L1308.0,453.5 L1309.0,453.5 L1310.0,453.5 L1311.0,453.5 L1312.0,453.5 L1313.0,453.5 L1314.0,453.5 L1315.0,453.6 L1316.0,453.6 L1317.0,453.7 L1318.0,453.8 L1319.0,454.0 L1320.0,454.2 L1321.0,454.5 L1322.0,455.1 L1322.0,455.9 L1321.0,456.5 L1320.0,456.8 L1319.0,457.0 L1318.0,457.2 L1317.0,457.3 L1316.0,457.4 L1315.0,457.4 L1314.0,457.5 L1313.0,457.5 L1312.0,457.5 L1311.0,457.5 L1310.0,457.5 L1309.0,457.5 L1308.0,457.5 L1307.0,457.5 L1306.0,457.5 L1305.0,457.4 L1304.0,457.4 L1303.0,457.3 L1302.0,457.2 L1301.0,457.0 L1300.0,456.8 L1299.0,456.5 L1298.0,455.9Z" fill="rgb(127,127,127)" filter="url(#bl)"/>
<path d="M1033.8,514.5 L1035.1,513.2 L1036.4,512.7 L1037.7,512.3 L1039.0,512.2 L1040.3,512.0 L1041.6,512.0 L1042.9,511.9 L1044.2,511.9 L1045.5,511.9 L1046.8,511.9 L1048.1,511.9 L1049.4,511.9 L1050.7,511.9 L1052.0,511.9 L1053.3,511.9 L1054.6,511.9 L1055.9,511.9 L1057.2,512.0 L1058.5,512.0 L1059.8,512.2 L1061.1,512.3 L1062.4,512.7 L1063.7,513.2 L1065.0,514.5 L1065.0,515.2 L1063.7,516.6 L1062.4,517.1 L1061.1,517.5 L1059.8,517.6 L1058.5,517.8 L1057.2,517.8 L1055.9,517.9 L1054.6,517.9 L1053.3,517.9 L1052.0,517.9 L1050.7,517.9 L1049.4,517.9 L1048.1,517.9 L1046.8,517.9 L1045.5,517.9 L1044.2,517.9 L1042.9,517.9 L1041.6,517.8 L1040.3,517.8 L1039.0,517.6 L1037.7,517.5 L1036.4,517.1 L1035.1,516.6 L1033.8,515.2Z" fill="rgb(12,12,12)" filter="url(#bl)"/>
<path d="M1069.2,514.9 L1070.5,513.5 L1071.9,513.0 L1073.2,512.6 L1074.5,512.5 L1075.9,512.3 L1077.2,512.3 L1078.6,512.2 L1079.9,512.2 L1081.2,512.2 L1082.6,512.2 L1083.9,512.2 L1085.2,512.2 L1086.6,512.2 L1087.9,512.2 L1089.3,512.2 L1090.6,512.2 L1091.9,512.2 L1093.3,512.3 L1094.6,512.3 L1096.0,512.5 L1097.3,512.6 L1098.6,513.0 L1100.0,513.5 L1101.3,514.9 L1101.3,515.6 L1100.0,516.9 L1098.6,517.4 L1097.3,517.8 L1096.0,517.9 L1094.6,518.1 L1093.3,518.1 L1091.9,518.2 L1090.6,518.2 L1089.3,518.2 L1087.9,518.2 L1086.6,518.2 L1085.2,518.2 L1083.9,518.2 L1082.6,518.2 L1081.2,518.2 L1079.9,518.2 L1078.6,518.2 L1077.2,518.1 L1075.9,518.1 L1074.5,517.9 L1073.2,517.8 L1071.9,517.4 L1070.5,516.9 L1069.2,515.6Z" fill="rgb(23,23,23)" filter="url(#bl)"/>
<path d="M1105.3,514.6 L1106.7,513.3 L1108.0,512.8 L1109.4,512.4 L1110.7,512.3 L1112.1,512.1 L1113.4,512.1 L1114.8,512.0 L1116.1,512.0 L1117.5,512.0 L1118.8,512.0 L1120.2,512.0 L1121.5,512.0 L1122.9,512.0 L1124.3,512.0 L1125.6,512.0 L1127.0,512.0 L1128.3,512.0 L1129.7,512.1 L1131.0,512.1 L1132.4,512.3 L1133.7,512.4 L1135.1,512.8 L1136.4,513.3 L1137.8,514.6 L1137.8,515.4 L1136.4,516.7 L1135.1,517.2 L1133.7,517.6 L1132.4,517.7 L1131.0,517.9 L1129.7,517.9 L1128.3,518.0 L1127.0,518.0 L1125.6,518.0 L1124.3,518.0 L1122.9,518.0 L1121.5,518.0 L1120.2,518.0 L1118.8,518.0 L1117.5,518.0 L1116.1,518.0 L1114.8,518.0 L1113.4,517.9 L1112.1,517.9 L1110.7,517.7 L1109.4,517.6 L1108.0,517.2 L1106.7,516.7 L1105.3,515.4Z" fill="rgb(12,12,12)" filter="url(#bl)"/>
<path d="M1143.5,514.4 L1144.8,513.1 L1146.1,512.6 L1147.4,512.2 L1148.7,512.1 L1150.0,511.9 L1151.3,511.9 L1152.7,511.8 L1154.0,511.8 L1155.3,511.8 L1156.6,511.8 L1157.9,511.8 L1159.2,511.8 L1160.5,511.8 L1161.8,511.8 L1163.1,511.8 L1164.4,511.8 L1165.7,511.8 L1167.1,511.9 L1168.4,511.9 L1169.7,512.1 L1171.0,512.2 L1172.3,512.6 L1173.6,513.1 L1174.9,514.4 L1174.9,515.1 L1173.6,516.5 L1172.3,517.0 L1171.0,517.4 L1169.7,517.5 L1168.4,517.7 L1167.1,517.7 L1165.7,517.8 L1164.4,517.8 L1163.1,517.8 L1161.8,517.8 L1160.5,517.8 L1159.2,517.8 L1157.9,517.8 L1156.6,517.8 L1155.3,517.8 L1154.0,517.8 L1152.7,517.8 L1151.3,517.7 L1150.0,517.7 L1148.7,517.5 L1147.4,517.4 L1146.1,517.0 L1144.8,516.5 L1143.5,515.1Z" fill="rgb(18,18,18)" filter="url(#bl)"/>
<path d="M1189.4,516.1 L1190.9,514.1 L1192.5,513.5 L1194.0,513.2 L1195.5,513.1 L1197.0,513.0 L1198.6,513.0 L1200.1,513.0 L1201.6,513.0 L1203.1,513.0 L1204.7,513.0 L1206.2,513.0 L1207.7,513.0 L1209.2,513.0 L1210.8,513.0 L1212.3,513.0 L1213.8,513.0 L1215.3,513.0 L1216.8,513.0 L1218.4,513.0 L1219.9,513.1 L1221.4,513.2 L1223.0,513.5 L1224.5,514.1 L1226.0,516.1 L1226.0,516.9 L1224.5,518.9 L1223.0,519.5 L1221.4,519.8 L1219.9,519.9 L1218.4,520.0 L1216.8,520.0 L1215.3,520.0 L1213.8,520.0 L1212.3,520.0 L1210.8,520.0 L1209.2,520.0 L1207.7,520.0 L1206.2,520.0 L1204.7,520.0 L1203.1,520.0 L1201.6,520.0 L1200.1,520.0 L1198.6,520.0 L1197.0,520.0 L1195.5,519.9 L1194.0,519.8 L1192.5,519.5 L1190.9,518.9 L1189.4,516.9Z" fill="rgb(0,0,0)" filter="url(#bl)"/>
<path d="M1224.0,516.1 L1225.6,514.7 L1227.2,514.1 L1228.8,513.7 L1230.3,513.5 L1231.9,513.4 L1233.5,513.3 L1235.1,513.3 L1236.7,513.3 L1238.2,513.3 L1239.8,513.3 L1241.4,513.3 L1243.0,513.2 L1244.6,513.3 L1246.2,513.3 L1247.8,513.3 L1249.3,513.3 L1250.9,513.3 L1252.5,513.3 L1254.1,513.4 L1255.7,513.5 L1257.2,513.7 L1258.8,514.1 L1260.4,514.7 L1262.0,516.1 L1262.0,516.9 L1260.4,518.3 L1258.8,518.9 L1257.2,519.3 L1255.7,519.5 L1254.1,519.6 L1252.5,519.7 L1250.9,519.7 L1249.3,519.7 L1247.8,519.7 L1246.2,519.7 L1244.6,519.7 L1243.0,519.8 L1241.4,519.7 L1239.8,519.7 L1238.2,519.7 L1236.7,519.7 L1235.1,519.7 L1233.5,519.7 L1231.9,519.6 L1230.3,519.5 L1228.8,519.3 L1227.2,518.9 L1225.6,518.3 L1224.0,516.9Z" fill="rgb(0,0,0)" filter="url(#bl)"/>
<path d="M1260.0,516.1 L1261.6,514.7 L1263.2,514.1 L1264.8,513.7 L1266.3,513.5 L1267.9,513.4 L1269.5,513.3 L1271.1,513.3 L1272.7,513.3 L1274.2,513.3 L1275.8,513.3 L1277.4,513.3 L1279.0,513.2 L1280.6,513.3 L1282.2,513.3 L1283.8,513.3 L1285.3,513.3 L1286.9,513.3 L1288.5,513.3 L1290.1,513.4 L1291.7,513.5 L1293.2,513.7 L1294.8,514.1 L1296.4,514.7 L1298.0,516.1 L1298.0,516.9 L1296.4,518.3 L1294.8,518.9 L1293.2,519.3 L1291.7,519.5 L1290.1,519.6 L1288.5,519.7 L1286.9,519.7 L1285.3,519.7 L1283.8,519.7 L1282.2,519.7 L1280.6,519.7 L1279.0,519.8 L1277.4,519.7 L1275.8,519.7 L1274.2,519.7 L1272.7,519.7 L1271.1,519.7 L1269.5,519.7 L1267.9,519.6 L1266.3,519.5 L1264.8,519.3 L1263.2,518.9 L1261.6,518.3 L1260.0,516.9Z" fill="rgb(0,0,0)" filter="url(#bl)"/>
<path d="M1296.0,516.4 L1297.1,515.1 L1298.2,514.6 L1299.2,514.2 L1300.3,514.1 L1301.4,513.9 L1302.5,513.9 L1303.6,513.8 L1304.7,513.8 L1305.8,513.8 L1306.8,513.8 L1307.9,513.8 L1309.0,513.8 L1310.1,513.8 L1311.2,513.8 L1312.2,513.8 L1313.3,513.8 L1314.4,513.8 L1315.5,513.9 L1316.6,513.9 L1317.7,514.1 L1318.8,514.2 L1319.8,514.6 L1320.9,515.1 L1322.0,516.4 L1322.0,517.1 L1320.9,518.5 L1319.8,519.0 L1318.8,519.4 L1317.7,519.5 L1316.6,519.7 L1315.5,519.7 L1314.4,519.8 L1313.3,519.8 L1312.2,519.8 L1311.2,519.8 L1310.1,519.8 L1309.0,519.8 L1307.9,519.8 L1306.8,519.8 L1305.8,519.8 L1304.7,519.8 L1303.6,519.8 L1302.5,519.7 L1301.4,519.7 L1300.3,519.5 L1299.2,519.4 L1298.2,519.0 L1297.1,518.5 L1296.0,517.1Z" fill="rgb(0,0,0)" filter="url(#bl)"/>
<path d="M1033.8,575.2 L1035.1,575.1 L1036.4,574.9 L1037.6,574.8 L1038.9,574.7 L1040.2,574.7 L1041.5,574.6 L1042.8,574.6 L1044.1,574.6 L1045.3,574.6 L1046.6,574.6 L1047.9,574.6 L1049.2,574.6 L1050.5,574.6 L1051.8,574.6 L1053.0,574.6 L1054.3,574.6 L1055.6,574.6 L1056.9,574.6 L1058.2,574.7 L1059.5,574.7 L1060.7,574.8 L1062.0,574.9 L1063.3,575.1 L1064.6,575.2 L1064.6,576.0 L1063.3,576.1 L1062.0,576.3 L1060.7,576.4 L1059.5,576.5 L1058.2,576.5 L1056.9,576.6 L1055.6,576.6 L1054.3,576.6 L1053.0,576.6 L1051.8,576.6 L1050.5,576.6 L1049.2,576.6 L1047.9,576.6 L1046.6,576.6 L1045.3,576.6 L1044.1,576.6 L1042.8,576.6 L1041.5,576.6 L1040.2,576.5 L1038.9,576.5 L1037.6,576.4 L1036.4,576.3 L1035.1,576.1 L1033.8,576.0Z" fill="rgb(184,184,184)" filter="url(#bl)"/>
<path d="M1072.0,574.9 L1073.4,572.8 L1074.7,572.2 L1076.1,571.9 L1077.4,571.8 L1078.8,571.7 L1080.1,571.7 L1081.5,571.7 L1082.8,571.7 L1084.2,571.7 L1085.5,571.7 L1086.9,571.7 L1088.2,571.7 L1089.6,571.7 L1091.0,571.7 L1092.3,571.7 L1093.7,571.7 L1095.0,571.7 L1096.4,571.7 L1097.7,571.7 L1099.1,571.8 L1100.4,571.9 L1101.8,572.2 L1103.1,572.8 L1104.5,574.9 L1104.5,575.6 L1103.1,577.6 L1101.8,578.2 L1100.4,578.5 L1099.1,578.6 L1097.7,578.7 L1096.4,578.7 L1095.0,578.7 L1093.7,578.7 L1092.3,578.7 L1091.0,578.7 L1089.6,578.7 L1088.2,578.7 L1086.9,578.7 L1085.5,578.7 L1084.2,578.7 L1082.8,578.7 L1081.5,578.7 L1080.1,578.7 L1078.8,578.7 L1077.4,578.6 L1076.1,578.5 L1074.7,578.2 L1073.4,577.6 L1072.0,575.6Z" fill="rgb(0,0,0)" filter="url(#bl)"/>
<path d="M1107.0,575.2 L1108.2,575.1 L1109.5,574.9 L1110.7,574.8 L1111.9,574.7 L1113.2,574.7 L1114.4,574.6 L1115.7,574.6 L1116.9,574.6 L1118.1,574.6 L1119.4,574.6 L1120.6,574.6 L1121.8,574.6 L1123.1,574.6 L1124.3,574.6 L1125.6,574.6 L1126.8,574.6 L1128.0,574.6 L1129.3,574.6 L1130.5,574.7 L1131.8,574.7 L1133.0,574.8 L1134.2,574.9 L1135.5,575.1 L1136.7,575.2 L1136.7,576.0 L1135.5,576.1 L1134.2,576.3 L1133.0,576.4 L1131.8,576.5 L1130.5,576.5 L1129.3,576.6 L1128.0,576.6 L1126.8,576.6 L1125.6,576.6 L1124.3,576.6 L1123.1,576.6 L1121.8,576.6 L1120.6,576.6 L1119.4,576.6 L1118.1,576.6 L1116.9,576.6 L1115.7,576.6 L1114.4,576.6 L1113.2,576.5 L1111.9,576.5 L1110.7,576.4 L1109.5,576.3 L1108.2,576.1 L1107.0,576.0Z" fill="rgb(184,184,184)" filter="url(#bl)"/>
<path d="M1141.0,575.0 L1142.4,574.3 L1143.8,573.9 L1145.2,573.7 L1146.7,573.5 L1148.1,573.4 L1149.5,573.3 L1150.9,573.2 L1152.3,573.2 L1153.8,573.2 L1155.2,573.2 L1156.6,573.2 L1158.0,573.1 L1159.4,573.2 L1160.8,573.2 L1162.2,573.2 L1163.7,573.2 L1165.1,573.2 L1166.5,573.3 L1167.9,573.4 L1169.3,573.5 L1170.8,573.7 L1172.2,573.9 L1173.6,574.3 L1175.0,575.0 L1175.0,575.8 L1173.6,576.5 L1172.2,576.9 L1170.8,577.1 L1169.3,577.3 L1167.9,577.4 L1166.5,577.5 L1165.1,577.6 L1163.7,577.6 L1162.2,577.6 L1160.8,577.6 L1159.4,577.6 L1158.0,577.6 L1156.6,577.6 L1155.2,577.6 L1153.8,577.6 L1152.3,577.6 L1150.9,577.6 L1149.5,577.5 L1148.1,577.4 L1146.7,577.3 L1145.2,577.1 L1143.8,576.9 L1142.4,576.5 L1141.0,575.8Z" fill="rgb(92,92,92)" filter="url(#bl)"/>
<path d="M1190.8,575.2 L1192.1,575.1 L1193.4,574.9 L1194.6,574.8 L1195.9,574.7 L1197.2,574.7 L1198.5,574.6 L1199.8,574.6 L1201.1,574.6 L1202.3,574.6 L1203.6,574.6 L1204.9,574.6 L1206.2,574.6 L1207.5,574.6 L1208.8,574.6 L1210.0,574.6 L1211.3,574.6 L1212.6,574.6 L1213.9,574.6 L1215.2,574.7 L1216.5,574.7 L1217.7,574.8 L1219.0,574.9 L1220.3,575.1 L1221.6,575.2 L1221.6,576.0 L1220.3,576.1 L1219.0,576.3 L1217.7,576.4 L1216.5,576.5 L1215.2,576.5 L1213.9,576.6 L1212.6,576.6 L1211.3,576.6 L1210.0,576.6 L1208.8,576.6 L1207.5,576.6 L1206.2,576.6 L1204.9,576.6 L1203.6,576.6 L1202.3,576.6 L1201.1,576.6 L1199.8,576.6 L1198.5,576.6 L1197.2,576.5 L1195.9,576.5 L1194.6,576.4 L1193.4,576.3 L1192.1,576.1 L1190.8,576.0Z" fill="rgb(202,202,202)" filter="url(#bl)"/>
<path d="M1224.2,575.0 L1225.6,573.0 L1227.0,572.4 L1228.4,572.1 L1229.9,572.0 L1231.3,571.9 L1232.7,571.9 L1234.1,571.9 L1235.5,571.9 L1236.9,571.9 L1238.3,571.9 L1239.7,571.9 L1241.2,571.9 L1242.6,571.9 L1244.0,571.9 L1245.4,571.9 L1246.8,571.9 L1248.2,571.9 L1249.6,571.9 L1251.0,571.9 L1252.5,572.0 L1253.9,572.1 L1255.3,572.4 L1256.7,573.0 L1258.1,575.0 L1258.1,575.8 L1256.7,577.8 L1255.3,578.4 L1253.9,578.7 L1252.5,578.8 L1251.0,578.9 L1249.6,578.9 L1248.2,578.9 L1246.8,578.9 L1245.4,578.9 L1244.0,578.9 L1242.6,578.9 L1241.2,578.9 L1239.7,578.9 L1238.3,578.9 L1236.9,578.9 L1235.5,578.9 L1234.1,578.9 L1232.7,578.9 L1231.3,578.9 L1229.9,578.8 L1228.4,578.7 L1227.0,578.4 L1225.6,577.8 L1224.2,575.8Z" fill="rgb(0,0,0)" filter="url(#bl)"/>
<path d="M1263.0,575.6 L1264.2,575.3 L1265.5,575.1 L1266.7,575.0 L1267.9,574.9 L1269.2,574.8 L1270.4,574.8 L1271.7,574.8 L1272.9,574.8 L1274.1,574.8 L1275.4,574.8 L1276.6,574.8 L1277.8,574.8 L1279.1,574.8 L1280.3,574.8 L1281.6,574.8 L1282.8,574.8 L1284.0,574.8 L1285.3,574.8 L1286.5,574.8 L1287.8,574.9 L1289.0,575.0 L1290.2,575.1 L1291.5,575.3 L1292.7,575.6 L1292.7,576.4 L1291.5,576.7 L1290.2,576.9 L1289.0,577.0 L1287.8,577.1 L1286.5,577.2 L1285.3,577.2 L1284.0,577.2 L1282.8,577.2 L1281.6,577.2 L1280.3,577.2 L1279.1,577.2 L1277.8,577.2 L1276.6,577.2 L1275.4,577.2 L1274.1,577.2 L1272.9,577.2 L1271.7,577.2 L1270.4,577.2 L1269.2,577.2 L1267.9,577.1 L1266.7,577.0 L1265.5,576.9 L1264.2,576.7 L1263.0,576.4Z" fill="rgb(184,184,184)" filter="url(#bl)"/>
<path d="M1297.0,575.2 L1298.4,574.5 L1299.8,574.1 L1301.2,573.9 L1302.7,573.7 L1304.1,573.6 L1305.5,573.5 L1306.9,573.4 L1308.3,573.4 L1309.8,573.4 L1311.2,573.4 L1312.6,573.4 L1314.0,573.4 L1315.4,573.4 L1316.8,573.4 L1318.2,573.4 L1319.7,573.4 L1321.1,573.4 L1322.5,573.5 L1323.9,573.6 L1325.3,573.7 L1326.8,573.9 L1328.2,574.1 L1329.6,574.5 L1331.0,575.2 L1331.0,576.0 L1329.6,576.7 L1328.2,577.1 L1326.8,577.3 L1325.3,577.5 L1323.9,577.6 L1322.5,577.7 L1321.1,577.8 L1319.7,577.8 L1318.2,577.8 L1316.8,577.8 L1315.4,577.8 L1314.0,577.9 L1312.6,577.8 L1311.2,577.8 L1309.8,577.8 L1308.3,577.8 L1306.9,577.8 L1305.5,577.7 L1304.1,577.6 L1302.7,577.5 L1301.2,577.3 L1299.8,577.1 L1298.4,576.7 L1297.0,576.0Z" fill="rgb(92,92,92)" filter="url(#bl)"/>
<path d="M1033.8,636.4 L1035.3,634.7 L1036.8,634.0 L1038.3,633.6 L1039.8,633.4 L1041.3,633.2 L1042.9,633.1 L1044.4,633.1 L1045.9,633.1 L1047.4,633.1 L1048.9,633.1 L1050.4,633.1 L1051.9,633.0 L1053.4,633.1 L1054.9,633.1 L1056.4,633.1 L1057.9,633.1 L1059.4,633.1 L1061.0,633.1 L1062.5,633.2 L1064.0,633.4 L1065.5,633.6 L1067.0,634.0 L1068.5,634.7 L1070.0,636.4 L1070.0,637.1 L1068.5,638.9 L1067.0,639.6 L1065.5,640.0 L1064.0,640.2 L1062.5,640.4 L1061.0,640.5 L1059.4,640.5 L1057.9,640.5 L1056.4,640.5 L1054.9,640.5 L1053.4,640.5 L1051.9,640.5 L1050.4,640.5 L1048.9,640.5 L1047.4,640.5 L1045.9,640.5 L1044.4,640.5 L1042.9,640.5 L1041.3,640.4 L1039.8,640.2 L1038.3,640.0 L1036.8,639.6 L1035.3,638.9 L1033.8,637.1Z" fill="rgb(12,12,12)" filter="url(#bl)"/>
<path d="M1068.0,637.1 L1069.6,635.4 L1071.2,634.7 L1072.9,634.3 L1074.5,634.1 L1076.1,633.9 L1077.8,633.8 L1079.4,633.8 L1081.0,633.8 L1082.6,633.8 L1084.2,633.8 L1085.9,633.8 L1087.5,633.8 L1089.1,633.8 L1090.8,633.8 L1092.4,633.8 L1094.0,633.8 L1095.6,633.8 L1097.2,633.8 L1098.9,633.9 L1100.5,634.1 L1102.1,634.3 L1103.8,634.7 L1105.4,635.4 L1107.0,637.1 L1107.0,637.9 L1105.4,639.6 L1103.8,640.3 L1102.1,640.7 L1100.5,640.9 L1098.9,641.1 L1097.2,641.2 L1095.6,641.2 L1094.0,641.2 L1092.4,641.2 L1090.8,641.2 L1089.1,641.2 L1087.5,641.2 L1085.9,641.2 L1084.2,641.2 L1082.6,641.2 L1081.0,641.2 L1079.4,641.2 L1077.8,641.2 L1076.1,641.1 L1074.5,640.9 L1072.9,640.7 L1071.2,640.3 L1069.6,639.6 L1068.0,637.9Z" fill="rgb(12,12,12)" filter="url(#bl)"/>
<path d="M1105.0,637.1 L1106.6,635.4 L1108.2,634.7 L1109.8,634.3 L1111.4,634.1 L1113.0,633.9 L1114.6,633.8 L1116.2,633.8 L1117.8,633.8 L1119.4,633.8 L1121.0,633.8 L1122.6,633.8 L1124.2,633.8 L1125.9,633.8 L1127.5,633.8 L1129.1,633.8 L1130.7,633.8 L1132.3,633.8 L1133.9,633.8 L1135.5,633.9 L1137.1,634.1 L1138.7,634.3 L1140.3,634.7 L1141.9,635.4 L1143.5,637.1 L1143.5,637.9 L1141.9,639.6 L1140.3,640.3 L1138.7,640.7 L1137.1,640.9 L1135.5,641.1 L1133.9,641.2 L1132.3,641.2 L1130.7,641.2 L1129.1,641.2 L1127.5,641.2 L1125.9,641.2 L1124.2,641.2 L1122.6,641.2 L1121.0,641.2 L1119.4,641.2 L1117.8,641.2 L1116.2,641.2 L1114.6,641.2 L1113.0,641.1 L1111.4,640.9 L1109.8,640.7 L1108.2,640.3 L1106.6,639.6 L1105.0,637.9Z" fill="rgb(12,12,12)" filter="url(#bl)"/>
<path d="M1141.7,636.9 L1143.1,635.2 L1144.6,634.6 L1146.0,634.2 L1147.4,634.0 L1148.8,633.9 L1150.3,633.8 L1151.7,633.7 L1153.1,633.7 L1154.6,633.7 L1156.0,633.7 L1157.4,633.7 L1158.8,633.7 L1160.3,633.7 L1161.7,633.7 L1163.1,633.7 L1164.6,633.7 L1166.0,633.7 L1167.4,633.8 L1168.9,633.9 L1170.3,634.0 L1171.7,634.2 L1173.1,634.6 L1174.6,635.2 L1176.0,636.9 L1176.0,637.6 L1174.6,639.2 L1173.1,639.8 L1171.7,640.2 L1170.3,640.4 L1168.9,640.5 L1167.4,640.6 L1166.0,640.7 L1164.6,640.7 L1163.1,640.7 L1161.7,640.7 L1160.3,640.7 L1158.8,640.7 L1157.4,640.7 L1156.0,640.7 L1154.6,640.7 L1153.1,640.7 L1151.7,640.7 L1150.3,640.6 L1148.8,640.5 L1147.4,640.4 L1146.0,640.2 L1144.6,639.8 L1143.1,639.2 L1141.7,637.6Z" fill="rgb(12,12,12)" filter="url(#bl)"/>
<path d="M1189.8,636.6 L1191.2,634.6 L1192.6,634.0 L1194.0,633.7 L1195.5,633.6 L1196.9,633.5 L1198.3,633.5 L1199.7,633.5 L1201.1,633.5 L1202.5,633.5 L1203.9,633.5 L1205.3,633.5 L1206.8,633.5 L1208.2,633.5 L1209.6,633.5 L1211.0,633.5 L1212.4,633.5 L1213.8,633.5 L1215.2,633.5 L1216.6,633.5 L1218.0,633.6 L1219.5,633.7 L1220.9,634.0 L1222.3,634.6 L1223.7,636.6 L1223.7,637.4 L1222.3,639.4 L1220.9,640.0 L1219.5,640.3 L1218.0,640.4 L1216.6,640.5 L1215.2,640.5 L1213.8,640.5 L1212.4,640.5 L1211.0,640.5 L1209.6,640.5 L1208.2,640.5 L1206.8,640.5 L1205.3,640.5 L1203.9,640.5 L1202.5,640.5 L1201.1,640.5 L1199.7,640.5 L1198.3,640.5 L1196.9,640.5 L1195.5,640.4 L1194.0,640.3 L1192.6,640.0 L1191.2,639.4 L1189.8,637.4Z" fill="rgb(0,0,0)" filter="url(#bl)"/>
<path d="M1225.9,636.6 L1227.3,634.6 L1228.6,634.0 L1230.0,633.7 L1231.4,633.6 L1232.8,633.5 L1234.1,633.5 L1235.5,633.5 L1236.9,633.5 L1238.2,633.5 L1239.6,633.5 L1241.0,633.5 L1242.3,633.5 L1243.7,633.5 L1245.1,633.5 L1246.5,633.5 L1247.8,633.5 L1249.2,633.5 L1250.6,633.5 L1251.9,633.5 L1253.3,633.6 L1254.7,633.7 L1256.1,634.0 L1257.4,634.6 L1258.8,636.6 L1258.8,637.4 L1257.4,639.4 L1256.1,640.0 L1254.7,640.3 L1253.3,640.4 L1251.9,640.5 L1250.6,640.5 L1249.2,640.5 L1247.8,640.5 L1246.5,640.5 L1245.1,640.5 L1243.7,640.5 L1242.3,640.5 L1241.0,640.5 L1239.6,640.5 L1238.2,640.5 L1236.9,640.5 L1235.5,640.5 L1234.1,640.5 L1232.8,640.5 L1231.4,640.4 L1230.0,640.3 L1228.6,640.0 L1227.3,639.4 L1225.9,637.4Z" fill="rgb(0,0,0)" filter="url(#bl)"/>
<path d="M1262.0,636.9 L1263.4,634.8 L1264.8,634.2 L1266.2,633.9 L1267.6,633.8 L1269.0,633.7 L1270.4,633.7 L1271.8,633.7 L1273.2,633.7 L1274.6,633.7 L1276.0,633.7 L1277.4,633.7 L1278.8,633.7 L1280.1,633.7 L1281.5,633.7 L1282.9,633.7 L1284.3,633.7 L1285.7,633.7 L1287.1,633.7 L1288.5,633.7 L1289.9,633.8 L1291.3,633.9 L1292.7,634.2 L1294.1,634.8 L1295.5,636.9 L1295.5,637.6 L1294.1,639.6 L1292.7,640.2 L1291.3,640.5 L1289.9,640.6 L1288.5,640.7 L1287.1,640.7 L1285.7,640.7 L1284.3,640.7 L1282.9,640.7 L1281.5,640.7 L1280.1,640.7 L1278.8,640.7 L1277.4,640.7 L1276.0,640.7 L1274.6,640.7 L1273.2,640.7 L1271.8,640.7 L1270.4,640.7 L1269.0,640.7 L1267.6,640.6 L1266.2,640.5 L1264.8,640.2 L1263.4,639.6 L1262.0,637.6Z" fill="rgb(0,0,0)" filter="url(#bl)"/>
<path d="M1298.0,636.9 L1299.4,634.8 L1300.8,634.2 L1302.2,633.9 L1303.6,633.8 L1305.0,633.7 L1306.4,633.7 L1307.8,633.7 L1309.2,633.7 L1310.6,633.7 L1312.0,633.7 L1313.4,633.7 L1314.8,633.7 L1316.1,633.7 L1317.5,633.7 L1318.9,633.7 L1320.3,633.7 L1321.7,633.7 L1323.1,633.7 L1324.5,633.7 L1325.9,633.8 L1327.3,633.9 L1328.7,634.2 L1330.1,634.8 L1331.5,636.9 L1331.5,637.6 L1330.1,639.6 L1328.7,640.2 L1327.3,640.5 L1325.9,640.6 L1324.5,640.7 L1323.1,640.7 L1321.7,640.7 L1320.3,640.7 L1318.9,640.7 L1317.5,640.7 L1316.1,640.7 L1314.8,640.7 L1313.4,640.7 L1312.0,640.7 L1310.6,640.7 L1309.2,640.7 L1307.8,640.7 L1306.4,640.7 L1305.0,640.7 L1303.6,640.6 L1302.2,640.5 L1300.8,640.2 L1299.4,639.6 L1298.0,637.6Z" fill="rgb(0,0,0)" filter="url(#bl)"/>
<path d="M1034.4,696.9 L1035.7,694.9 L1037.1,694.3 L1038.4,694.0 L1039.7,693.9 L1041.0,693.8 L1042.4,693.8 L1043.7,693.8 L1045.0,693.8 L1046.4,693.8 L1047.7,693.8 L1049.0,693.8 L1050.3,693.8 L1051.7,693.8 L1053.0,693.8 L1054.3,693.8 L1055.7,693.8 L1057.0,693.8 L1058.3,693.8 L1059.7,693.8 L1061.0,693.9 L1062.3,694.0 L1063.6,694.3 L1065.0,694.9 L1066.3,696.9 L1066.3,697.6 L1065.0,699.7 L1063.6,700.3 L1062.3,700.6 L1061.0,700.7 L1059.7,700.8 L1058.3,700.8 L1057.0,700.8 L1055.7,700.8 L1054.3,700.8 L1053.0,700.8 L1051.7,700.8 L1050.3,700.8 L1049.0,700.8 L1047.7,700.8 L1046.4,700.8 L1045.0,700.8 L1043.7,700.8 L1042.4,700.8 L1041.0,700.8 L1039.7,700.7 L1038.4,700.6 L1037.1,700.3 L1035.7,699.7 L1034.4,697.6Z" fill="rgb(0,0,0)" filter="url(#bl)"/>
<path d="M1069.9,696.5 L1071.3,693.9 L1072.7,693.1 L1074.1,692.7 L1075.5,692.5 L1077.0,692.5 L1078.4,692.4 L1079.8,692.4 L1081.2,692.4 L1082.6,692.4 L1084.0,692.4 L1085.4,692.4 L1086.8,692.4 L1088.3,692.4 L1089.7,692.4 L1091.1,692.4 L1092.5,692.4 L1093.9,692.4 L1095.3,692.4 L1096.7,692.5 L1098.1,692.5 L1099.6,692.7 L1101.0,693.1 L1102.4,693.9 L1103.8,696.5 L1103.8,697.2 L1102.4,699.9 L1101.0,700.7 L1099.6,701.1 L1098.1,701.3 L1096.7,701.3 L1095.3,701.4 L1093.9,701.4 L1092.5,701.4 L1091.1,701.4 L1089.7,701.4 L1088.3,701.4 L1086.8,701.4 L1085.4,701.4 L1084.0,701.4 L1082.6,701.4 L1081.2,701.4 L1079.8,701.4 L1078.4,701.4 L1077.0,701.3 L1075.5,701.3 L1074.1,701.1 L1072.7,700.7 L1071.3,699.9 L1069.9,697.2Z" fill="rgb(0,0,0)" filter="url(#bl)"/>
<path d="M1112.3,697.1 L1113.3,697.0 L1114.2,696.8 L1115.2,696.7 L1116.2,696.6 L1117.2,696.6 L1118.2,696.5 L1119.1,696.5 L1120.1,696.5 L1121.1,696.5 L1122.0,696.5 L1123.0,696.5 L1124.0,696.5 L1125.0,696.5 L1126.0,696.5 L1126.9,696.5 L1127.9,696.5 L1128.9,696.5 L1129.8,696.5 L1130.8,696.6 L1131.8,696.6 L1132.8,696.7 L1133.8,696.8 L1134.7,697.0 L1135.7,697.1 L1135.7,697.9 L1134.7,698.0 L1133.8,698.2 L1132.8,698.3 L1131.8,698.4 L1130.8,698.4 L1129.8,698.5 L1128.9,698.5 L1127.9,698.5 L1126.9,698.5 L1126.0,698.5 L1125.0,698.5 L1124.0,698.5 L1123.0,698.5 L1122.0,698.5 L1121.1,698.5 L1120.1,698.5 L1119.1,698.5 L1118.2,698.5 L1117.2,698.4 L1116.2,698.4 L1115.2,698.3 L1114.2,698.2 L1113.3,698.0 L1112.3,697.9Z" fill="rgb(184,184,184)" filter="url(#bl)"/>
<path d="M1147.3,697.1 L1148.4,697.0 L1149.4,696.8 L1150.5,696.7 L1151.5,696.6 L1152.6,696.6 L1153.7,696.5 L1154.7,696.5 L1155.8,696.5 L1156.9,696.5 L1157.9,696.5 L1159.0,696.5 L1160.0,696.5 L1161.1,696.5 L1162.2,696.5 L1163.2,696.5 L1164.3,696.5 L1165.4,696.5 L1166.4,696.5 L1167.5,696.6 L1168.5,696.6 L1169.6,696.7 L1170.7,696.8 L1171.7,697.0 L1172.8,697.1 L1172.8,697.9 L1171.7,698.0 L1170.7,698.2 L1169.6,698.3 L1168.5,698.4 L1167.5,698.4 L1166.4,698.5 L1165.4,698.5 L1164.3,698.5 L1163.2,698.5 L1162.2,698.5 L1161.1,698.5 L1160.0,698.5 L1159.0,698.5 L1157.9,698.5 L1156.9,698.5 L1155.8,698.5 L1154.7,698.5 L1153.7,698.5 L1152.6,698.4 L1151.5,698.4 L1150.5,698.3 L1149.4,698.2 L1148.4,698.0 L1147.3,697.9Z" fill="rgb(207,207,207)" filter="url(#bl)"/>
<path d="M1187.7,696.9 L1189.2,694.2 L1190.8,693.4 L1192.3,693.0 L1193.9,692.8 L1195.4,692.8 L1197.0,692.7 L1198.5,692.7 L1200.1,692.7 L1201.6,692.7 L1203.2,692.7 L1204.7,692.7 L1206.2,692.7 L1207.8,692.7 L1209.3,692.7 L1210.9,692.7 L1212.4,692.7 L1214.0,692.7 L1215.5,692.7 L1217.1,692.8 L1218.6,692.8 L1220.2,693.0 L1221.7,693.4 L1223.3,694.2 L1224.8,696.9 L1224.8,697.6 L1223.3,700.2 L1221.7,701.0 L1220.2,701.4 L1218.6,701.6 L1217.1,701.6 L1215.5,701.7 L1214.0,701.7 L1212.4,701.7 L1210.9,701.7 L1209.3,701.7 L1207.8,701.7 L1206.2,701.7 L1204.7,701.7 L1203.2,701.7 L1201.6,701.7 L1200.1,701.7 L1198.5,701.7 L1197.0,701.7 L1195.4,701.6 L1193.9,701.6 L1192.3,701.4 L1190.8,701.0 L1189.2,700.2 L1187.7,697.6Z" fill="rgb(0,0,0)" filter="url(#bl)"/>
<path d="M1225.9,696.9 L1227.5,694.5 L1229.0,693.6 L1230.6,693.0 L1232.2,692.7 L1233.8,692.5 L1235.3,692.4 L1236.9,692.3 L1238.5,692.3 L1240.0,692.3 L1241.6,692.3 L1243.2,692.3 L1244.8,692.3 L1246.3,692.3 L1247.9,692.3 L1249.5,692.3 L1251.0,692.3 L1252.6,692.3 L1254.2,692.4 L1255.7,692.5 L1257.3,692.7 L1258.9,693.0 L1260.5,693.6 L1262.0,694.5 L1263.6,696.9 L1263.6,697.6 L1262.0,700.1 L1260.5,701.0 L1258.9,701.6 L1257.3,701.9 L1255.7,702.1 L1254.2,702.2 L1252.6,702.3 L1251.0,702.3 L1249.5,702.3 L1247.9,702.3 L1246.3,702.3 L1244.8,702.3 L1243.2,702.3 L1241.6,702.3 L1240.0,702.3 L1238.5,702.3 L1236.9,702.3 L1235.3,702.2 L1233.8,702.1 L1232.2,701.9 L1230.6,701.6 L1229.0,701.0 L1227.5,700.1 L1225.9,697.6Z" fill="rgb(0,0,0)" filter="url(#bl)"/>
<path d="M1268.0,697.1 L1268.9,697.1 L1269.8,697.0 L1270.8,696.9 L1271.7,696.8 L1272.6,696.8 L1273.5,696.8 L1274.4,696.8 L1275.3,696.8 L1276.2,696.8 L1277.2,696.8 L1278.1,696.8 L1279.0,696.8 L1279.9,696.8 L1280.8,696.8 L1281.8,696.8 L1282.7,696.8 L1283.6,696.8 L1284.5,696.8 L1285.4,696.8 L1286.3,696.8 L1287.2,696.9 L1288.2,697.0 L1289.1,697.1 L1290.0,697.1 L1290.0,697.9 L1289.1,697.9 L1288.2,698.0 L1287.2,698.1 L1286.3,698.2 L1285.4,698.2 L1284.5,698.2 L1283.6,698.2 L1282.7,698.2 L1281.8,698.2 L1280.8,698.2 L1279.9,698.2 L1279.0,698.2 L1278.1,698.2 L1277.2,698.2 L1276.2,698.2 L1275.3,698.2 L1274.4,698.2 L1273.5,698.2 L1272.6,698.2 L1271.7,698.2 L1270.8,698.1 L1269.8,698.0 L1268.9,697.9 L1268.0,697.9Z" fill="rgb(212,212,212)" filter="url(#bl)"/>
<path d="M1300.0,696.6 L1301.2,696.6 L1302.5,696.5 L1303.8,696.4 L1305.0,696.3 L1306.2,696.3 L1307.5,696.3 L1308.8,696.3 L1310.0,696.3 L1311.2,696.3 L1312.5,696.3 L1313.8,696.3 L1315.0,696.2 L1316.2,696.3 L1317.5,696.3 L1318.8,696.3 L1320.0,696.3 L1321.2,696.3 L1322.5,696.3 L1323.8,696.3 L1325.0,696.3 L1326.2,696.4 L1327.5,696.5 L1328.8,696.6 L1330.0,696.6 L1330.0,697.4 L1328.8,697.4 L1327.5,697.5 L1326.2,697.6 L1325.0,697.7 L1323.8,697.7 L1322.5,697.7 L1321.2,697.7 L1320.0,697.7 L1318.8,697.7 L1317.5,697.7 L1316.2,697.7 L1315.0,697.8 L1313.8,697.7 L1312.5,697.7 L1311.2,697.7 L1310.0,697.7 L1308.8,697.7 L1307.5,697.7 L1306.2,697.7 L1305.0,697.7 L1303.8,697.6 L1302.5,697.5 L1301.2,697.4 L1300.0,697.4Z" fill="rgb(216,216,216)" filter="url(#bl)"/>
<path d="M1033.2,760.4 L1034.6,757.8 L1036.0,757.0 L1037.3,756.6 L1038.7,756.4 L1040.1,756.4 L1041.5,756.3 L1042.9,756.3 L1044.2,756.3 L1045.6,756.3 L1047.0,756.3 L1048.4,756.3 L1049.8,756.3 L1051.1,756.3 L1052.5,756.3 L1053.9,756.3 L1055.3,756.3 L1056.6,756.3 L1058.0,756.3 L1059.4,756.4 L1060.8,756.4 L1062.2,756.6 L1063.5,757.0 L1064.9,757.8 L1066.3,760.4 L1066.3,761.1 L1064.9,763.8 L1063.5,764.6 L1062.2,765.0 L1060.8,765.2 L1059.4,765.2 L1058.0,765.3 L1056.6,765.3 L1055.3,765.3 L1053.9,765.3 L1052.5,765.3 L1051.1,765.3 L1049.8,765.3 L1048.4,765.3 L1047.0,765.3 L1045.6,765.3 L1044.2,765.3 L1042.9,765.3 L1041.5,765.3 L1040.1,765.2 L1038.7,765.2 L1037.3,765.0 L1036.0,764.6 L1034.6,763.8 L1033.2,761.1Z" fill="rgb(0,0,0)" filter="url(#bl)"/>
<path d="M1069.2,760.6 L1070.6,758.0 L1072.0,757.2 L1073.3,756.8 L1074.7,756.6 L1076.1,756.6 L1077.5,756.5 L1078.9,756.5 L1080.2,756.5 L1081.6,756.5 L1083.0,756.5 L1084.4,756.5 L1085.8,756.5 L1087.1,756.5 L1088.5,756.5 L1089.9,756.5 L1091.3,756.5 L1092.6,756.5 L1094.0,756.5 L1095.4,756.6 L1096.8,756.6 L1098.2,756.8 L1099.5,757.2 L1100.9,758.0 L1102.3,760.6 L1102.3,761.4 L1100.9,764.0 L1099.5,764.8 L1098.2,765.2 L1096.8,765.4 L1095.4,765.4 L1094.0,765.5 L1092.6,765.5 L1091.3,765.5 L1089.9,765.5 L1088.5,765.5 L1087.1,765.5 L1085.8,765.5 L1084.4,765.5 L1083.0,765.5 L1081.6,765.5 L1080.2,765.5 L1078.9,765.5 L1077.5,765.5 L1076.1,765.4 L1074.7,765.4 L1073.3,765.2 L1072.0,764.8 L1070.6,764.0 L1069.2,761.4Z" fill="rgb(0,0,0)" filter="url(#bl)"/>
<path d="M1105.5,760.9 L1106.9,758.2 L1108.3,757.4 L1109.7,757.0 L1111.1,756.8 L1112.4,756.8 L1113.8,756.7 L1115.2,756.7 L1116.6,756.7 L1118.0,756.7 L1119.4,756.7 L1120.8,756.7 L1122.2,756.7 L1123.5,756.7 L1124.9,756.7 L1126.3,756.7 L1127.7,756.7 L1129.1,756.7 L1130.5,756.7 L1131.9,756.8 L1133.2,756.8 L1134.6,757.0 L1136.0,757.4 L1137.4,758.2 L1138.8,760.9 L1138.8,761.6 L1137.4,764.2 L1136.0,765.0 L1134.6,765.4 L1133.2,765.6 L1131.9,765.6 L1130.5,765.7 L1129.1,765.7 L1127.7,765.7 L1126.3,765.7 L1124.9,765.7 L1123.5,765.7 L1122.2,765.7 L1120.8,765.7 L1119.4,765.7 L1118.0,765.7 L1116.6,765.7 L1115.2,765.7 L1113.8,765.7 L1112.4,765.6 L1111.1,765.6 L1109.7,765.4 L1108.3,765.0 L1106.9,764.2 L1105.5,761.6Z" fill="rgb(0,0,0)" filter="url(#bl)"/>
<path d="M1142.0,760.9 L1143.4,758.2 L1144.8,757.4 L1146.2,757.0 L1147.6,756.8 L1148.9,756.8 L1150.3,756.7 L1151.7,756.7 L1153.1,756.7 L1154.5,756.7 L1155.9,756.7 L1157.3,756.7 L1158.7,756.7 L1160.0,756.7 L1161.4,756.7 L1162.8,756.7 L1164.2,756.7 L1165.6,756.7 L1167.0,756.7 L1168.4,756.8 L1169.8,756.8 L1171.1,757.0 L1172.5,757.4 L1173.9,758.2 L1175.3,760.9 L1175.3,761.6 L1173.9,764.2 L1172.5,765.0 L1171.1,765.4 L1169.8,765.6 L1168.4,765.6 L1167.0,765.7 L1165.6,765.7 L1164.2,765.7 L1162.8,765.7 L1161.4,765.7 L1160.0,765.7 L1158.7,765.7 L1157.3,765.7 L1155.9,765.7 L1154.5,765.7 L1153.1,765.7 L1151.7,765.7 L1150.3,765.7 L1148.9,765.6 L1147.6,765.6 L1146.2,765.4 L1144.8,765.0 L1143.4,764.2 L1142.0,761.6Z" fill="rgb(0,0,0)" filter="url(#bl)"/>
<path d="M1189.8,760.9 L1191.1,758.3 L1192.5,757.5 L1193.8,757.1 L1195.2,756.9 L1196.5,756.9 L1197.9,756.8 L1199.2,756.8 L1200.5,756.8 L1201.9,756.8 L1203.2,756.8 L1204.6,756.8 L1205.9,756.8 L1207.2,756.8 L1208.6,756.8 L1209.9,756.8 L1211.3,756.8 L1212.6,756.8 L1214.0,756.8 L1215.3,756.9 L1216.6,756.9 L1218.0,757.1 L1219.3,757.5 L1220.7,758.3 L1222.0,760.9 L1222.0,761.6 L1220.7,764.3 L1219.3,765.1 L1218.0,765.5 L1216.6,765.7 L1215.3,765.7 L1214.0,765.8 L1212.6,765.8 L1211.3,765.8 L1209.9,765.8 L1208.6,765.8 L1207.2,765.8 L1205.9,765.8 L1204.6,765.8 L1203.2,765.8 L1201.9,765.8 L1200.5,765.8 L1199.2,765.8 L1197.9,765.8 L1196.5,765.7 L1195.2,765.7 L1193.8,765.5 L1192.5,765.1 L1191.1,764.3 L1189.8,761.6Z" fill="rgb(0,0,0)" filter="url(#bl)"/>
<path d="M1225.4,760.6 L1226.8,758.0 L1228.2,757.2 L1229.6,756.8 L1231.0,756.6 L1232.4,756.6 L1233.8,756.5 L1235.1,756.5 L1236.5,756.5 L1237.9,756.5 L1239.3,756.5 L1240.7,756.5 L1242.1,756.5 L1243.5,756.5 L1244.9,756.5 L1246.3,756.5 L1247.7,756.5 L1249.1,756.5 L1250.4,756.5 L1251.8,756.6 L1253.2,756.6 L1254.6,756.8 L1256.0,757.2 L1257.4,758.0 L1258.8,760.6 L1258.8,761.4 L1257.4,764.0 L1256.0,764.8 L1254.6,765.2 L1253.2,765.4 L1251.8,765.4 L1250.4,765.5 L1249.1,765.5 L1247.7,765.5 L1246.3,765.5 L1244.9,765.5 L1243.5,765.5 L1242.1,765.5 L1240.7,765.5 L1239.3,765.5 L1237.9,765.5 L1236.5,765.5 L1235.1,765.5 L1233.8,765.5 L1232.4,765.4 L1231.0,765.4 L1229.6,765.2 L1228.2,764.8 L1226.8,764.0 L1225.4,761.4Z" fill="rgb(0,0,0)" filter="url(#bl)"/>
<path d="M1262.0,760.6 L1263.4,758.0 L1264.8,757.2 L1266.2,756.8 L1267.6,756.6 L1269.0,756.6 L1270.4,756.5 L1271.8,756.5 L1273.2,756.5 L1274.6,756.5 L1276.0,756.5 L1277.4,756.5 L1278.8,756.5 L1280.1,756.5 L1281.5,756.5 L1282.9,756.5 L1284.3,756.5 L1285.7,756.5 L1287.1,756.5 L1288.5,756.6 L1289.9,756.6 L1291.3,756.8 L1292.7,757.2 L1294.1,758.0 L1295.5,760.6 L1295.5,761.4 L1294.1,764.0 L1292.7,764.8 L1291.3,765.2 L1289.9,765.4 L1288.5,765.4 L1287.1,765.5 L1285.7,765.5 L1284.3,765.5 L1282.9,765.5 L1281.5,765.5 L1280.1,765.5 L1278.8,765.5 L1277.4,765.5 L1276.0,765.5 L1274.6,765.5 L1273.2,765.5 L1271.8,765.5 L1270.4,765.5 L1269.0,765.4 L1267.6,765.4 L1266.2,765.2 L1264.8,764.8 L1263.4,764.0 L1262.0,761.4Z" fill="rgb(0,0,0)" filter="url(#bl)"/>
<path d="M1298.0,761.1 L1299.4,758.5 L1300.8,757.7 L1302.2,757.3 L1303.6,757.1 L1305.0,757.1 L1306.4,757.0 L1307.8,757.0 L1309.2,757.0 L1310.6,757.0 L1312.0,757.0 L1313.4,757.0 L1314.8,757.0 L1316.1,757.0 L1317.5,757.0 L1318.9,757.0 L1320.3,757.0 L1321.7,757.0 L1323.1,757.0 L1324.5,757.1 L1325.9,757.1 L1327.3,757.3 L1328.7,757.7 L1330.1,758.5 L1331.5,761.1 L1331.5,761.9 L1330.1,764.5 L1328.7,765.3 L1327.3,765.7 L1325.9,765.9 L1324.5,765.9 L1323.1,766.0 L1321.7,766.0 L1320.3,766.0 L1318.9,766.0 L1317.5,766.0 L1316.1,766.0 L1314.8,766.0 L1313.4,766.0 L1312.0,766.0 L1310.6,766.0 L1309.2,766.0 L1307.8,766.0 L1306.4,766.0 L1305.0,765.9 L1303.6,765.9 L1302.2,765.7 L1300.8,765.3 L1299.4,764.5 L1298.0,761.9Z" fill="rgb(0,0,0)" filter="url(#bl)"/>
<path d="M1312,517.5 Q1326,517.5 1333.5,509" fill="none" stroke="#000" stroke-width="3.2" stroke-linecap="round" filter="url(#bl)"/>
<path d="M1316,455.6 Q1325,455.6 1331,449.8" fill="none" stroke="#8c8c8c" stroke-width="2.2" stroke-linecap="round" filter="url(#bl)"/>
<rect x="1193" y="514.9" width="129" height="3.5" fill="#000" filter="url(#bl)"/>
<rect x="1038" y="635.7" width="134" height="3.0" fill="#000" filter="url(#bl)"/>
<text x="1097.5" y="382.5" font-size="18.3" text-anchor="middle" font-weight="bold" >U87</text>
<text x="1262.5" y="382.5" font-size="18.3" text-anchor="middle" font-weight="bold" >MES28</text>
<text x="1017.9" y="411.7" font-size="18.3" text-anchor="end" font-weight="bold" >HPRT1 shRNA</text>
<text x="1017.9" y="429.8" font-size="18.3" text-anchor="end" font-weight="bold" >AICA</text>
<line x1="1045.2" y1="416.6" x2="1089.7" y2="416.6" stroke="#000" stroke-width="2.6"/>
<text x="1067.5" y="410.5" font-size="18.3" text-anchor="middle" font-weight="bold" >-</text>
<line x1="1119.3" y1="416.6" x2="1163.8" y2="416.6" stroke="#000" stroke-width="2.6"/>
<text x="1143.0" y="410.5" font-size="18.3" text-anchor="middle" font-weight="bold" >+</text>
<line x1="1199.7" y1="416.6" x2="1244.2" y2="416.6" stroke="#000" stroke-width="2.6"/>
<text x="1222.0" y="410.5" font-size="18.3" text-anchor="middle" font-weight="bold" >-</text>
<line x1="1275.5" y1="416.6" x2="1320.0" y2="416.6" stroke="#000" stroke-width="2.6"/>
<text x="1299.2" y="410.5" font-size="18.3" text-anchor="middle" font-weight="bold" >+</text>
<text x="1048.6" y="430.2" font-size="18.3" text-anchor="middle" font-weight="bold" >-</text>
<text x="1084.0" y="430.2" font-size="18.3" text-anchor="middle" font-weight="bold" >+</text>
<text x="1122.7" y="430.2" font-size="18.3" text-anchor="middle" font-weight="bold" >-</text>
<text x="1158.6" y="430.2" font-size="18.3" text-anchor="middle" font-weight="bold" >+</text>
<text x="1203.1" y="430.2" font-size="18.3" text-anchor="middle" font-weight="bold" >-</text>
<text x="1239.0" y="430.2" font-size="18.3" text-anchor="middle" font-weight="bold" >+</text>
<text x="1279.2" y="430.2" font-size="18.3" text-anchor="middle" font-weight="bold" >-</text>
<text x="1314.6" y="430.2" font-size="18.3" text-anchor="middle" font-weight="bold" >+</text>
<text x="1186.0" y="489.9" font-size="18.5" text-anchor="middle" font-weight="bold" >WB: ACC1 pS79</text>
<text x="1186.0" y="550.2" font-size="18.5" text-anchor="middle" font-weight="bold" >WB: ACC1</text>
<text x="1186.0" y="611.1" font-size="18.5" text-anchor="middle" font-weight="bold" >WB: AMPKα pT172</text>
<text x="1186.0" y="672.3" font-size="18.5" text-anchor="middle" font-weight="bold" >WB: AMPKα</text>
<text x="1186.0" y="733.4" font-size="18.5" text-anchor="middle" font-weight="bold" >WB: HPRT1</text>
<text x="1186.0" y="796.0" font-size="18.5" text-anchor="middle" font-weight="bold" >WB: α-Tubulin</text>
<text x="1345.5" y="448.3" font-size="14.6" font-weight="bold"><tspan font-style="italic">M</tspan><tspan font-size="8.5" dy="3">r</tspan><tspan dy="-3">(K)</tspan></text>
<line x1="1339.0" y1="468.9" x2="1346.0" y2="468.9" stroke="#000" stroke-width="3"/>
<text x="1347.6" y="473.9" font-size="14.2" font-weight="bold">180</text>
<line x1="1339.0" y1="532.0" x2="1346.0" y2="532.0" stroke="#000" stroke-width="3"/>
<text x="1347.6" y="537.0" font-size="14.2" font-weight="bold">180</text>
<line x1="1339.0" y1="561.0" x2="1346.0" y2="561.0" stroke="#000" stroke-width="3"/>
<text x="1347.6" y="566.0" font-size="14.2" font-weight="bold">70</text>
<line x1="1339.0" y1="622.6" x2="1346.0" y2="622.6" stroke="#000" stroke-width="3"/>
<text x="1347.6" y="627.6" font-size="14.2" font-weight="bold">70</text>
<line x1="1339.0" y1="699.5" x2="1346.0" y2="699.5" stroke="#000" stroke-width="3"/>
<text x="1347.6" y="704.5" font-size="14.2" font-weight="bold">25</text>
<line x1="1339.0" y1="747.4" x2="1346.0" y2="747.4" stroke="#000" stroke-width="3"/>
<text x="1347.6" y="752.4" font-size="14.2" font-weight="bold">55</text>
<rect x="1492.0" y="446.5" width="231.0" height="35.5" fill="rgb(234,234,234)"/>
<rect x="1726.6" y="446.5" width="230.9" height="35.5" fill="rgb(234,234,234)"/>
<rect x="1492.0" y="505.0" width="231.0" height="34.6" fill="rgb(234,234,234)"/>
<rect x="1726.6" y="505.0" width="230.9" height="34.6" fill="rgb(234,234,234)"/>
<rect x="1492.0" y="563.8" width="231.0" height="35.4" fill="rgb(232,232,232)"/>
<rect x="1726.6" y="563.8" width="230.9" height="35.4" fill="rgb(232,232,232)"/>
<rect x="1492.0" y="625.0" width="231.0" height="34.7" fill="rgb(235,235,235)"/>
<rect x="1726.6" y="625.0" width="230.9" height="34.7" fill="rgb(235,235,235)"/>
<rect x="1492.0" y="686.5" width="231.0" height="34.8" fill="rgb(234,234,234)"/>
<rect x="1726.6" y="686.5" width="230.9" height="34.8" fill="rgb(234,234,234)"/>
<path d="M1497.0,465.1 L1498.2,465.1 L1499.3,465.0 L1500.5,464.9 L1501.7,464.8 L1502.8,464.8 L1504.0,464.8 L1505.2,464.8 L1506.3,464.8 L1507.5,464.8 L1508.7,464.8 L1509.8,464.8 L1511.0,464.8 L1512.2,464.8 L1513.3,464.8 L1514.5,464.8 L1515.7,464.8 L1516.8,464.8 L1518.0,464.8 L1519.2,464.8 L1520.3,464.8 L1521.5,464.9 L1522.7,465.0 L1523.8,465.1 L1525.0,465.1 L1525.0,465.9 L1523.8,465.9 L1522.7,466.0 L1521.5,466.1 L1520.3,466.2 L1519.2,466.2 L1518.0,466.2 L1516.8,466.2 L1515.7,466.2 L1514.5,466.2 L1513.3,466.2 L1512.2,466.2 L1511.0,466.2 L1509.8,466.2 L1508.7,466.2 L1507.5,466.2 L1506.3,466.2 L1505.2,466.2 L1504.0,466.2 L1502.8,466.2 L1501.7,466.2 L1500.5,466.1 L1499.3,466.0 L1498.2,465.9 L1497.0,465.9Z" fill="rgb(216,216,216)" filter="url(#bl)"/>
<path d="M1531.3,465.0 L1532.8,463.8 L1534.3,463.3 L1535.7,463.1 L1537.2,462.9 L1538.7,462.8 L1540.2,462.7 L1541.7,462.7 L1543.2,462.7 L1544.6,462.7 L1546.1,462.7 L1547.6,462.7 L1549.1,462.6 L1550.6,462.7 L1552.1,462.7 L1553.5,462.7 L1555.0,462.7 L1556.5,462.7 L1558.0,462.7 L1559.5,462.8 L1561.0,462.9 L1562.5,463.1 L1563.9,463.3 L1565.4,463.8 L1566.9,465.0 L1566.9,465.8 L1565.4,467.0 L1563.9,467.5 L1562.5,467.7 L1561.0,467.9 L1559.5,468.0 L1558.0,468.1 L1556.5,468.1 L1555.0,468.1 L1553.5,468.1 L1552.1,468.1 L1550.6,468.1 L1549.1,468.1 L1547.6,468.1 L1546.1,468.1 L1544.6,468.1 L1543.2,468.1 L1541.7,468.1 L1540.2,468.1 L1538.7,468.0 L1537.2,467.9 L1535.7,467.7 L1534.3,467.5 L1532.8,467.0 L1531.3,465.8Z" fill="rgb(0,0,0)" filter="url(#bl)"/>
<path d="M1571.3,465.1 L1572.5,465.0 L1573.8,464.8 L1575.0,464.7 L1576.2,464.6 L1577.4,464.6 L1578.7,464.5 L1579.9,464.5 L1581.1,464.5 L1582.4,464.5 L1583.6,464.5 L1584.8,464.5 L1586.0,464.5 L1587.3,464.5 L1588.5,464.5 L1589.7,464.5 L1591.0,464.5 L1592.2,464.5 L1593.4,464.5 L1594.7,464.6 L1595.9,464.6 L1597.1,464.7 L1598.3,464.8 L1599.6,465.0 L1600.8,465.1 L1600.8,465.9 L1599.6,466.0 L1598.3,466.2 L1597.1,466.3 L1595.9,466.4 L1594.7,466.4 L1593.4,466.5 L1592.2,466.5 L1591.0,466.5 L1589.7,466.5 L1588.5,466.5 L1587.3,466.5 L1586.0,466.5 L1584.8,466.5 L1583.6,466.5 L1582.4,466.5 L1581.1,466.5 L1579.9,466.5 L1578.7,466.5 L1577.4,466.4 L1576.2,466.4 L1575.0,466.3 L1573.8,466.2 L1572.5,466.0 L1571.3,465.9Z" fill="rgb(202,202,202)" filter="url(#bl)"/>
<path d="M1606.4,465.2 L1607.8,464.6 L1609.3,464.3 L1610.7,464.1 L1612.1,463.9 L1613.6,463.8 L1615.0,463.7 L1616.4,463.7 L1617.9,463.6 L1619.3,463.6 L1620.7,463.6 L1622.2,463.6 L1623.6,463.6 L1625.0,463.6 L1626.5,463.6 L1627.9,463.6 L1629.3,463.6 L1630.8,463.7 L1632.2,463.7 L1633.6,463.8 L1635.1,463.9 L1636.5,464.1 L1637.9,464.3 L1639.4,464.6 L1640.8,465.2 L1640.8,466.0 L1639.4,466.6 L1637.9,466.9 L1636.5,467.1 L1635.1,467.3 L1633.6,467.4 L1632.2,467.5 L1630.8,467.5 L1629.3,467.6 L1627.9,467.6 L1626.5,467.6 L1625.0,467.6 L1623.6,467.6 L1622.2,467.6 L1620.7,467.6 L1619.3,467.6 L1617.9,467.6 L1616.4,467.5 L1615.0,467.5 L1613.6,467.4 L1612.1,467.3 L1610.7,467.1 L1609.3,466.9 L1607.8,466.6 L1606.4,466.0Z" fill="rgb(103,103,103)" filter="url(#bl)"/>
<path d="M1646.7,465.4 L1648.0,465.3 L1649.2,465.1 L1650.5,465.0 L1651.7,464.9 L1653.0,464.9 L1654.2,464.8 L1655.5,464.8 L1656.7,464.8 L1658.0,464.8 L1659.2,464.8 L1660.5,464.8 L1661.7,464.8 L1663.0,464.8 L1664.2,464.8 L1665.5,464.8 L1666.7,464.8 L1668.0,464.8 L1669.2,464.8 L1670.5,464.9 L1671.7,464.9 L1673.0,465.0 L1674.2,465.1 L1675.5,465.3 L1676.7,465.4 L1676.7,466.2 L1675.5,466.3 L1674.2,466.5 L1673.0,466.6 L1671.7,466.7 L1670.5,466.7 L1669.2,466.8 L1668.0,466.8 L1666.7,466.8 L1665.5,466.8 L1664.2,466.8 L1663.0,466.8 L1661.7,466.8 L1660.5,466.8 L1659.2,466.8 L1658.0,466.8 L1656.7,466.8 L1655.5,466.8 L1654.2,466.8 L1653.0,466.7 L1651.7,466.7 L1650.5,466.6 L1649.2,466.5 L1648.0,466.3 L1646.7,466.2Z" fill="rgb(196,196,196)" filter="url(#bl)"/>
<path d="M1683.7,465.6 L1685.1,465.2 L1686.4,464.9 L1687.8,464.7 L1689.2,464.5 L1690.6,464.4 L1691.9,464.4 L1693.3,464.3 L1694.7,464.3 L1696.0,464.3 L1697.4,464.3 L1698.8,464.3 L1700.2,464.2 L1701.5,464.3 L1702.9,464.3 L1704.3,464.3 L1705.6,464.3 L1707.0,464.3 L1708.4,464.4 L1709.7,464.4 L1711.1,464.5 L1712.5,464.7 L1713.9,464.9 L1715.2,465.2 L1716.6,465.6 L1716.6,466.4 L1715.2,466.8 L1713.9,467.1 L1712.5,467.3 L1711.1,467.5 L1709.7,467.6 L1708.4,467.6 L1707.0,467.7 L1705.6,467.7 L1704.3,467.7 L1702.9,467.7 L1701.5,467.7 L1700.2,467.8 L1698.8,467.7 L1697.4,467.7 L1696.0,467.7 L1694.7,467.7 L1693.3,467.7 L1691.9,467.6 L1690.6,467.6 L1689.2,467.5 L1687.8,467.3 L1686.4,467.1 L1685.1,466.8 L1683.7,466.4Z" fill="rgb(150,150,150)" filter="url(#bl)"/>
<path d="M1772.3,462.6 L1773.9,461.3 L1775.4,460.8 L1777.0,460.4 L1778.5,460.3 L1780.1,460.1 L1781.6,460.1 L1783.2,460.0 L1784.7,460.0 L1786.2,460.0 L1787.8,460.0 L1789.4,460.0 L1790.9,460.0 L1792.5,460.0 L1794.0,460.0 L1795.6,460.0 L1797.1,460.0 L1798.7,460.0 L1800.2,460.1 L1801.8,460.1 L1803.3,460.3 L1804.9,460.4 L1806.4,460.8 L1808.0,461.3 L1809.5,462.6 L1809.5,463.4 L1808.0,464.7 L1806.4,465.2 L1804.9,465.6 L1803.3,465.7 L1801.8,465.9 L1800.2,465.9 L1798.7,466.0 L1797.1,466.0 L1795.6,466.0 L1794.0,466.0 L1792.5,466.0 L1790.9,466.0 L1789.4,466.0 L1787.8,466.0 L1786.2,466.0 L1784.7,466.0 L1783.2,466.0 L1781.6,465.9 L1780.1,465.9 L1778.5,465.7 L1777.0,465.6 L1775.4,465.2 L1773.9,464.7 L1772.3,463.4Z" fill="rgb(0,0,0)" filter="url(#bl)"/>
<path d="M1810.0,462.8 L1810.5,462.8 L1811.0,462.7 L1811.5,462.6 L1812.0,462.5 L1812.5,462.5 L1813.0,462.5 L1813.5,462.5 L1814.0,462.5 L1814.5,462.5 L1815.0,462.5 L1815.5,462.5 L1816.0,462.4 L1816.5,462.5 L1817.0,462.5 L1817.5,462.5 L1818.0,462.5 L1818.5,462.5 L1819.0,462.5 L1819.5,462.5 L1820.0,462.5 L1820.5,462.6 L1821.0,462.7 L1821.5,462.8 L1822.0,462.8 L1822.0,463.6 L1821.5,463.6 L1821.0,463.7 L1820.5,463.8 L1820.0,463.9 L1819.5,463.9 L1819.0,463.9 L1818.5,463.9 L1818.0,463.9 L1817.5,463.9 L1817.0,463.9 L1816.5,463.9 L1816.0,463.9 L1815.5,463.9 L1815.0,463.9 L1814.5,463.9 L1814.0,463.9 L1813.5,463.9 L1813.0,463.9 L1812.5,463.9 L1812.0,463.9 L1811.5,463.8 L1811.0,463.7 L1810.5,463.6 L1810.0,463.6Z" fill="rgb(207,207,207)" filter="url(#bl)"/>
<path d="M1845.8,462.8 L1847.0,462.6 L1848.2,462.4 L1849.4,462.3 L1850.6,462.2 L1851.8,462.2 L1853.0,462.1 L1854.3,462.1 L1855.5,462.1 L1856.7,462.1 L1857.9,462.1 L1859.1,462.1 L1860.3,462.1 L1861.5,462.1 L1862.7,462.1 L1863.9,462.1 L1865.1,462.1 L1866.3,462.1 L1867.5,462.1 L1868.8,462.2 L1870.0,462.2 L1871.2,462.3 L1872.4,462.4 L1873.6,462.6 L1874.8,462.8 L1874.8,463.6 L1873.6,463.8 L1872.4,464.0 L1871.2,464.1 L1870.0,464.2 L1868.8,464.2 L1867.5,464.3 L1866.3,464.3 L1865.1,464.3 L1863.9,464.3 L1862.7,464.3 L1861.5,464.3 L1860.3,464.3 L1859.1,464.3 L1857.9,464.3 L1856.7,464.3 L1855.5,464.3 L1854.3,464.3 L1853.0,464.3 L1851.8,464.2 L1850.6,464.2 L1849.4,464.1 L1848.2,464.0 L1847.0,463.8 L1845.8,463.6Z" fill="rgb(161,161,161)" filter="url(#bl)"/>
<path d="M1882.7,462.4 L1883.8,462.4 L1885.0,462.2 L1886.1,462.1 L1887.2,462.1 L1888.3,462.0 L1889.5,462.0 L1890.6,462.0 L1891.7,462.0 L1892.8,462.0 L1894.0,462.0 L1895.1,462.0 L1896.2,462.0 L1897.3,462.0 L1898.5,462.0 L1899.6,462.0 L1900.7,462.0 L1901.8,462.0 L1903.0,462.0 L1904.1,462.0 L1905.2,462.1 L1906.3,462.1 L1907.5,462.2 L1908.6,462.4 L1909.7,462.4 L1909.7,463.2 L1908.6,463.2 L1907.5,463.4 L1906.3,463.5 L1905.2,463.5 L1904.1,463.6 L1903.0,463.6 L1901.8,463.6 L1900.7,463.6 L1899.6,463.6 L1898.5,463.6 L1897.3,463.6 L1896.2,463.6 L1895.1,463.6 L1894.0,463.6 L1892.8,463.6 L1891.7,463.6 L1890.6,463.6 L1889.5,463.6 L1888.3,463.6 L1887.2,463.5 L1886.1,463.5 L1885.0,463.4 L1883.8,463.2 L1882.7,463.2Z" fill="rgb(184,184,184)" filter="url(#bl)"/>
<path d="M1919.7,461.1 L1920.9,461.0 L1922.0,460.8 L1923.2,460.7 L1924.4,460.6 L1925.5,460.6 L1926.7,460.5 L1927.8,460.5 L1929.0,460.5 L1930.2,460.5 L1931.3,460.5 L1932.5,460.5 L1933.7,460.5 L1934.8,460.5 L1936.0,460.5 L1937.1,460.5 L1938.3,460.5 L1939.5,460.5 L1940.6,460.5 L1941.8,460.6 L1943.0,460.6 L1944.1,460.7 L1945.3,460.8 L1946.4,461.0 L1947.6,461.1 L1947.6,461.9 L1946.4,462.0 L1945.3,462.2 L1944.1,462.3 L1943.0,462.4 L1941.8,462.4 L1940.6,462.5 L1939.5,462.5 L1938.3,462.5 L1937.1,462.5 L1936.0,462.5 L1934.8,462.5 L1933.7,462.5 L1932.5,462.5 L1931.3,462.5 L1930.2,462.5 L1929.0,462.5 L1927.8,462.5 L1926.7,462.5 L1925.5,462.4 L1924.4,462.4 L1923.2,462.3 L1922.0,462.2 L1920.9,462.0 L1919.7,461.9Z" fill="rgb(161,161,161)" filter="url(#bl)"/>
<path d="M1498.0,522.6 L1499.4,520.1 L1500.7,519.4 L1502.1,519.0 L1503.5,518.9 L1504.9,518.8 L1506.2,518.8 L1507.6,518.8 L1509.0,518.8 L1510.3,518.8 L1511.7,518.8 L1513.1,518.8 L1514.5,518.8 L1515.8,518.8 L1517.2,518.8 L1518.6,518.8 L1519.9,518.8 L1521.3,518.8 L1522.7,518.8 L1524.0,518.8 L1525.4,518.9 L1526.8,519.0 L1528.2,519.4 L1529.5,520.1 L1530.9,522.6 L1530.9,523.4 L1529.5,525.9 L1528.2,526.6 L1526.8,527.0 L1525.4,527.1 L1524.0,527.2 L1522.7,527.2 L1521.3,527.2 L1519.9,527.2 L1518.6,527.2 L1517.2,527.2 L1515.8,527.2 L1514.5,527.2 L1513.1,527.2 L1511.7,527.2 L1510.3,527.2 L1509.0,527.2 L1507.6,527.2 L1506.2,527.2 L1504.9,527.2 L1503.5,527.1 L1502.1,527.0 L1500.7,526.6 L1499.4,525.9 L1498.0,523.4Z" fill="rgb(0,0,0)" filter="url(#bl)"/>
<path d="M1533.9,522.9 L1535.2,520.4 L1536.6,519.7 L1537.9,519.3 L1539.2,519.2 L1540.6,519.1 L1541.9,519.1 L1543.2,519.1 L1544.6,519.1 L1545.9,519.1 L1547.2,519.1 L1548.6,519.1 L1549.9,519.0 L1551.2,519.1 L1552.6,519.1 L1553.9,519.1 L1555.2,519.1 L1556.6,519.1 L1557.9,519.1 L1559.2,519.1 L1560.6,519.2 L1561.9,519.3 L1563.2,519.7 L1564.6,520.4 L1565.9,522.9 L1565.9,523.6 L1564.6,526.2 L1563.2,526.9 L1561.9,527.3 L1560.6,527.4 L1559.2,527.5 L1557.9,527.5 L1556.6,527.5 L1555.2,527.5 L1553.9,527.5 L1552.6,527.5 L1551.2,527.5 L1549.9,527.5 L1548.6,527.5 L1547.2,527.5 L1545.9,527.5 L1544.6,527.5 L1543.2,527.5 L1541.9,527.5 L1540.6,527.5 L1539.2,527.4 L1537.9,527.3 L1536.6,526.9 L1535.2,526.2 L1533.9,523.6Z" fill="rgb(0,0,0)" filter="url(#bl)"/>
<path d="M1569.3,523.9 L1570.8,521.3 L1572.3,520.6 L1573.9,520.2 L1575.4,520.1 L1576.9,520.0 L1578.4,520.0 L1579.9,520.0 L1581.5,520.0 L1583.0,520.0 L1584.5,520.0 L1586.0,520.0 L1587.5,520.0 L1589.1,520.0 L1590.6,520.0 L1592.1,520.0 L1593.6,520.0 L1595.2,520.0 L1596.7,520.0 L1598.2,520.0 L1599.7,520.1 L1601.2,520.2 L1602.8,520.6 L1604.3,521.3 L1605.8,523.9 L1605.8,524.6 L1604.3,527.1 L1602.8,527.8 L1601.2,528.2 L1599.7,528.3 L1598.2,528.4 L1596.7,528.4 L1595.2,528.4 L1593.6,528.4 L1592.1,528.4 L1590.6,528.4 L1589.1,528.4 L1587.5,528.5 L1586.0,528.4 L1584.5,528.4 L1583.0,528.4 L1581.5,528.4 L1579.9,528.4 L1578.4,528.4 L1576.9,528.4 L1575.4,528.3 L1573.9,528.2 L1572.3,527.8 L1570.8,527.1 L1569.3,524.6Z" fill="rgb(0,0,0)" filter="url(#bl)"/>
<path d="M1606.8,523.9 L1608.3,521.3 L1609.8,520.6 L1611.3,520.2 L1612.8,520.1 L1614.3,520.0 L1615.8,520.0 L1617.3,520.0 L1618.8,520.0 L1620.3,520.0 L1621.8,520.0 L1623.3,520.0 L1624.8,520.0 L1626.2,520.0 L1627.7,520.0 L1629.2,520.0 L1630.7,520.0 L1632.2,520.0 L1633.7,520.0 L1635.2,520.0 L1636.7,520.1 L1638.2,520.2 L1639.7,520.6 L1641.2,521.3 L1642.7,523.9 L1642.7,524.6 L1641.2,527.1 L1639.7,527.8 L1638.2,528.2 L1636.7,528.3 L1635.2,528.4 L1633.7,528.4 L1632.2,528.4 L1630.7,528.4 L1629.2,528.4 L1627.7,528.4 L1626.2,528.4 L1624.8,528.5 L1623.3,528.4 L1621.8,528.4 L1620.3,528.4 L1618.8,528.4 L1617.3,528.4 L1615.8,528.4 L1614.3,528.4 L1612.8,528.3 L1611.3,528.2 L1609.8,527.8 L1608.3,527.1 L1606.8,524.6Z" fill="rgb(0,0,0)" filter="url(#bl)"/>
<path d="M1644.7,523.4 L1646.2,520.8 L1647.7,520.1 L1649.2,519.7 L1650.6,519.6 L1652.1,519.5 L1653.6,519.5 L1655.1,519.5 L1656.6,519.5 L1658.0,519.5 L1659.5,519.5 L1661.0,519.5 L1662.5,519.5 L1664.0,519.5 L1665.5,519.5 L1667.0,519.5 L1668.4,519.5 L1669.9,519.5 L1671.4,519.5 L1672.9,519.5 L1674.4,519.6 L1675.8,519.7 L1677.3,520.1 L1678.8,520.8 L1680.3,523.4 L1680.3,524.1 L1678.8,526.6 L1677.3,527.3 L1675.8,527.7 L1674.4,527.8 L1672.9,527.9 L1671.4,527.9 L1669.9,527.9 L1668.4,527.9 L1667.0,527.9 L1665.5,527.9 L1664.0,527.9 L1662.5,528.0 L1661.0,527.9 L1659.5,527.9 L1658.0,527.9 L1656.6,527.9 L1655.1,527.9 L1653.6,527.9 L1652.1,527.9 L1650.6,527.8 L1649.2,527.7 L1647.7,527.3 L1646.2,526.6 L1644.7,524.1Z" fill="rgb(0,0,0)" filter="url(#bl)"/>
<path d="M1681.7,523.0 L1683.1,520.7 L1684.5,520.0 L1685.9,519.7 L1687.4,519.5 L1688.8,519.4 L1690.2,519.4 L1691.6,519.4 L1693.0,519.4 L1694.4,519.4 L1695.8,519.4 L1697.2,519.4 L1698.7,519.4 L1700.1,519.4 L1701.5,519.4 L1702.9,519.4 L1704.3,519.4 L1705.7,519.4 L1707.1,519.4 L1708.5,519.4 L1710.0,519.5 L1711.4,519.7 L1712.8,520.0 L1714.2,520.7 L1715.6,523.0 L1715.6,523.8 L1714.2,526.1 L1712.8,526.8 L1711.4,527.1 L1710.0,527.3 L1708.5,527.4 L1707.1,527.4 L1705.7,527.4 L1704.3,527.4 L1702.9,527.4 L1701.5,527.4 L1700.1,527.4 L1698.7,527.4 L1697.2,527.4 L1695.8,527.4 L1694.4,527.4 L1693.0,527.4 L1691.6,527.4 L1690.2,527.4 L1688.8,527.4 L1687.4,527.3 L1685.9,527.1 L1684.5,526.8 L1683.1,526.1 L1681.7,523.8Z" fill="rgb(0,0,0)" filter="url(#bl)"/>
<path d="M1733.6,522.5 L1735.0,520.5 L1736.5,519.9 L1737.9,519.6 L1739.3,519.5 L1740.7,519.4 L1742.2,519.4 L1743.6,519.4 L1745.0,519.4 L1746.5,519.4 L1747.9,519.4 L1749.3,519.4 L1750.8,519.4 L1752.2,519.4 L1753.6,519.4 L1755.0,519.4 L1756.5,519.4 L1757.9,519.4 L1759.3,519.4 L1760.8,519.4 L1762.2,519.5 L1763.6,519.6 L1765.0,519.9 L1766.5,520.5 L1767.9,522.5 L1767.9,523.2 L1766.5,525.3 L1765.0,525.9 L1763.6,526.2 L1762.2,526.3 L1760.8,526.4 L1759.3,526.4 L1757.9,526.4 L1756.5,526.4 L1755.0,526.4 L1753.6,526.4 L1752.2,526.4 L1750.8,526.4 L1749.3,526.4 L1747.9,526.4 L1746.5,526.4 L1745.0,526.4 L1743.6,526.4 L1742.2,526.4 L1740.7,526.4 L1739.3,526.3 L1737.9,526.2 L1736.5,525.9 L1735.0,525.3 L1733.6,523.2Z" fill="rgb(0,0,0)" filter="url(#bl)"/>
<path d="M1769.5,522.5 L1770.9,520.5 L1772.4,519.9 L1773.8,519.6 L1775.2,519.5 L1776.7,519.4 L1778.1,519.4 L1779.5,519.4 L1781.0,519.4 L1782.4,519.4 L1783.8,519.4 L1785.3,519.4 L1786.7,519.4 L1788.1,519.4 L1789.6,519.4 L1791.0,519.4 L1792.4,519.4 L1793.9,519.4 L1795.3,519.4 L1796.7,519.4 L1798.2,519.5 L1799.6,519.6 L1801.0,519.9 L1802.5,520.5 L1803.9,522.5 L1803.9,523.2 L1802.5,525.3 L1801.0,525.9 L1799.6,526.2 L1798.2,526.3 L1796.7,526.4 L1795.3,526.4 L1793.9,526.4 L1792.4,526.4 L1791.0,526.4 L1789.6,526.4 L1788.1,526.4 L1786.7,526.4 L1785.3,526.4 L1783.8,526.4 L1782.4,526.4 L1781.0,526.4 L1779.5,526.4 L1778.1,526.4 L1776.7,526.4 L1775.2,526.3 L1773.8,526.2 L1772.4,525.9 L1770.9,525.3 L1769.5,523.2Z" fill="rgb(0,0,0)" filter="url(#bl)"/>
<path d="M1805.9,522.5 L1807.3,520.5 L1808.7,519.9 L1810.1,519.6 L1811.5,519.5 L1813.0,519.4 L1814.4,519.4 L1815.8,519.4 L1817.2,519.4 L1818.6,519.4 L1820.0,519.4 L1821.4,519.4 L1822.8,519.4 L1824.3,519.4 L1825.7,519.4 L1827.1,519.4 L1828.5,519.4 L1829.9,519.4 L1831.3,519.4 L1832.7,519.4 L1834.1,519.5 L1835.6,519.6 L1837.0,519.9 L1838.4,520.5 L1839.8,522.5 L1839.8,523.2 L1838.4,525.3 L1837.0,525.9 L1835.6,526.2 L1834.1,526.3 L1832.7,526.4 L1831.3,526.4 L1829.9,526.4 L1828.5,526.4 L1827.1,526.4 L1825.7,526.4 L1824.3,526.4 L1822.8,526.4 L1821.4,526.4 L1820.0,526.4 L1818.6,526.4 L1817.2,526.4 L1815.8,526.4 L1814.4,526.4 L1813.0,526.4 L1811.5,526.3 L1810.1,526.2 L1808.7,525.9 L1807.3,525.3 L1805.9,523.2Z" fill="rgb(0,0,0)" filter="url(#bl)"/>
<path d="M1840.8,522.5 L1842.4,520.5 L1844.0,519.9 L1845.5,519.6 L1847.1,519.5 L1848.7,519.4 L1850.3,519.4 L1851.9,519.4 L1853.4,519.4 L1855.0,519.4 L1856.6,519.4 L1858.2,519.4 L1859.8,519.4 L1861.3,519.4 L1862.9,519.4 L1864.5,519.4 L1866.1,519.4 L1867.6,519.4 L1869.2,519.4 L1870.8,519.4 L1872.4,519.5 L1874.0,519.6 L1875.5,519.9 L1877.1,520.5 L1878.7,522.5 L1878.7,523.2 L1877.1,525.3 L1875.5,525.9 L1874.0,526.2 L1872.4,526.3 L1870.8,526.4 L1869.2,526.4 L1867.6,526.4 L1866.1,526.4 L1864.5,526.4 L1862.9,526.4 L1861.3,526.4 L1859.8,526.4 L1858.2,526.4 L1856.6,526.4 L1855.0,526.4 L1853.4,526.4 L1851.9,526.4 L1850.3,526.4 L1848.7,526.4 L1847.1,526.3 L1845.5,526.2 L1844.0,525.9 L1842.4,525.3 L1840.8,523.2Z" fill="rgb(0,0,0)" filter="url(#bl)"/>
<path d="M1880.7,522.5 L1882.1,520.4 L1883.5,519.7 L1885.0,519.4 L1886.4,519.3 L1887.8,519.2 L1889.2,519.2 L1890.6,519.2 L1892.0,519.2 L1893.5,519.2 L1894.9,519.2 L1896.3,519.2 L1897.7,519.1 L1899.1,519.2 L1900.5,519.2 L1902.0,519.2 L1903.4,519.2 L1904.8,519.2 L1906.2,519.2 L1907.6,519.2 L1909.0,519.3 L1910.5,519.4 L1911.9,519.7 L1913.3,520.4 L1914.7,522.5 L1914.7,523.2 L1913.3,525.4 L1911.9,526.1 L1910.5,526.4 L1909.0,526.5 L1907.6,526.6 L1906.2,526.6 L1904.8,526.6 L1903.4,526.6 L1902.0,526.6 L1900.5,526.6 L1899.1,526.6 L1897.7,526.6 L1896.3,526.6 L1894.9,526.6 L1893.5,526.6 L1892.0,526.6 L1890.6,526.6 L1889.2,526.6 L1887.8,526.6 L1886.4,526.5 L1885.0,526.4 L1883.5,526.1 L1882.1,525.4 L1880.7,523.2Z" fill="rgb(0,0,0)" filter="url(#bl)"/>
<path d="M1916.7,522.1 L1918.2,520.0 L1919.6,519.3 L1921.1,519.0 L1922.6,518.9 L1924.1,518.8 L1925.5,518.8 L1927.0,518.8 L1928.5,518.8 L1929.9,518.8 L1931.4,518.8 L1932.9,518.8 L1934.3,518.8 L1935.8,518.8 L1937.3,518.8 L1938.8,518.8 L1940.2,518.8 L1941.7,518.8 L1943.2,518.8 L1944.6,518.8 L1946.1,518.9 L1947.6,519.0 L1949.1,519.3 L1950.5,520.0 L1952.0,522.1 L1952.0,522.9 L1950.5,525.0 L1949.1,525.7 L1947.6,526.0 L1946.1,526.1 L1944.6,526.2 L1943.2,526.2 L1941.7,526.2 L1940.2,526.2 L1938.8,526.2 L1937.3,526.2 L1935.8,526.2 L1934.3,526.2 L1932.9,526.2 L1931.4,526.2 L1929.9,526.2 L1928.5,526.2 L1927.0,526.2 L1925.5,526.2 L1924.1,526.2 L1922.6,526.1 L1921.1,526.0 L1919.6,525.7 L1918.2,525.0 L1916.7,522.9Z" fill="rgb(0,0,0)" filter="url(#bl)"/>
<path d="M1497.4,582.2 L1498.7,582.1 L1499.9,581.9 L1501.2,581.8 L1502.5,581.7 L1503.8,581.7 L1505.0,581.6 L1506.3,581.6 L1507.6,581.6 L1508.8,581.6 L1510.1,581.6 L1511.4,581.6 L1512.7,581.6 L1513.9,581.6 L1515.2,581.6 L1516.5,581.6 L1517.7,581.6 L1519.0,581.6 L1520.3,581.6 L1521.5,581.7 L1522.8,581.7 L1524.1,581.8 L1525.4,581.9 L1526.6,582.1 L1527.9,582.2 L1527.9,583.0 L1526.6,583.1 L1525.4,583.3 L1524.1,583.4 L1522.8,583.5 L1521.5,583.5 L1520.3,583.6 L1519.0,583.6 L1517.7,583.6 L1516.5,583.6 L1515.2,583.6 L1513.9,583.6 L1512.7,583.6 L1511.4,583.6 L1510.1,583.6 L1508.8,583.6 L1507.6,583.6 L1506.3,583.6 L1505.0,583.6 L1503.8,583.5 L1502.5,583.5 L1501.2,583.4 L1499.9,583.3 L1498.7,583.1 L1497.4,583.0Z" fill="rgb(172,172,172)" filter="url(#bl)"/>
<path d="M1532.9,581.9 L1534.4,579.9 L1535.9,579.3 L1537.4,579.0 L1538.9,578.9 L1540.4,578.8 L1541.9,578.8 L1543.4,578.8 L1544.9,578.8 L1546.4,578.8 L1547.9,578.8 L1549.4,578.8 L1550.9,578.8 L1552.4,578.8 L1553.9,578.8 L1555.4,578.8 L1556.9,578.8 L1558.4,578.8 L1559.9,578.8 L1561.4,578.8 L1562.9,578.9 L1564.4,579.0 L1565.9,579.3 L1567.4,579.9 L1568.9,581.9 L1568.9,582.6 L1567.4,584.7 L1565.9,585.3 L1564.4,585.6 L1562.9,585.7 L1561.4,585.8 L1559.9,585.8 L1558.4,585.8 L1556.9,585.8 L1555.4,585.8 L1553.9,585.8 L1552.4,585.8 L1550.9,585.8 L1549.4,585.8 L1547.9,585.8 L1546.4,585.8 L1544.9,585.8 L1543.4,585.8 L1541.9,585.8 L1540.4,585.8 L1538.9,585.7 L1537.4,585.6 L1535.9,585.3 L1534.4,584.7 L1532.9,582.6Z" fill="rgb(0,0,0)" filter="url(#bl)"/>
<path d="M1572.0,582.2 L1573.4,582.1 L1574.8,581.9 L1576.1,581.8 L1577.5,581.7 L1578.9,581.7 L1580.2,581.6 L1581.6,581.6 L1583.0,581.6 L1584.4,581.6 L1585.8,581.6 L1587.1,581.6 L1588.5,581.6 L1589.9,581.6 L1591.2,581.6 L1592.6,581.6 L1594.0,581.6 L1595.4,581.6 L1596.8,581.6 L1598.1,581.7 L1599.5,581.7 L1600.9,581.8 L1602.2,581.9 L1603.6,582.1 L1605.0,582.2 L1605.0,583.0 L1603.6,583.1 L1602.2,583.3 L1600.9,583.4 L1599.5,583.5 L1598.1,583.5 L1596.8,583.6 L1595.4,583.6 L1594.0,583.6 L1592.6,583.6 L1591.2,583.6 L1589.9,583.6 L1588.5,583.6 L1587.1,583.6 L1585.8,583.6 L1584.4,583.6 L1583.0,583.6 L1581.6,583.6 L1580.2,583.6 L1578.9,583.5 L1577.5,583.5 L1576.1,583.4 L1574.8,583.3 L1573.4,583.1 L1572.0,583.0Z" fill="rgb(196,196,196)" filter="url(#bl)"/>
<path d="M1609.8,582.0 L1611.2,581.3 L1612.6,580.9 L1614.0,580.7 L1615.3,580.5 L1616.7,580.4 L1618.1,580.3 L1619.5,580.2 L1620.9,580.2 L1622.3,580.2 L1623.7,580.2 L1625.1,580.2 L1626.4,580.1 L1627.8,580.2 L1629.2,580.2 L1630.6,580.2 L1632.0,580.2 L1633.4,580.2 L1634.8,580.3 L1636.2,580.4 L1637.5,580.5 L1638.9,580.7 L1640.3,580.9 L1641.7,581.3 L1643.1,582.0 L1643.1,582.8 L1641.7,583.5 L1640.3,583.9 L1638.9,584.1 L1637.5,584.3 L1636.2,584.4 L1634.8,584.5 L1633.4,584.6 L1632.0,584.6 L1630.6,584.6 L1629.2,584.6 L1627.8,584.6 L1626.4,584.6 L1625.1,584.6 L1623.7,584.6 L1622.3,584.6 L1620.9,584.6 L1619.5,584.6 L1618.1,584.5 L1616.7,584.4 L1615.3,584.3 L1614.0,584.1 L1612.6,583.9 L1611.2,583.5 L1609.8,582.8Z" fill="rgb(64,64,64)" filter="url(#bl)"/>
<path d="M1649.0,582.4 L1650.2,582.3 L1651.4,582.1 L1652.6,582.0 L1653.8,581.9 L1655.0,581.9 L1656.2,581.8 L1657.5,581.8 L1658.7,581.8 L1659.9,581.8 L1661.1,581.8 L1662.3,581.8 L1663.5,581.8 L1664.7,581.8 L1665.9,581.8 L1667.1,581.8 L1668.3,581.8 L1669.5,581.8 L1670.8,581.8 L1672.0,581.9 L1673.2,581.9 L1674.4,582.0 L1675.6,582.1 L1676.8,582.3 L1678.0,582.4 L1678.0,583.1 L1676.8,583.3 L1675.6,583.5 L1674.4,583.6 L1673.2,583.7 L1672.0,583.7 L1670.8,583.8 L1669.5,583.8 L1668.3,583.8 L1667.1,583.8 L1665.9,583.8 L1664.7,583.8 L1663.5,583.8 L1662.3,583.8 L1661.1,583.8 L1659.9,583.8 L1658.7,583.8 L1657.5,583.8 L1656.2,583.8 L1655.0,583.7 L1653.8,583.7 L1652.6,583.6 L1651.4,583.5 L1650.2,583.3 L1649.0,583.1Z" fill="rgb(202,202,202)" filter="url(#bl)"/>
<path d="M1684.7,582.5 L1686.1,581.8 L1687.5,581.4 L1688.9,581.2 L1690.4,581.0 L1691.8,580.9 L1693.2,580.8 L1694.6,580.7 L1696.0,580.7 L1697.4,580.7 L1698.8,580.7 L1700.2,580.7 L1701.7,580.6 L1703.1,580.7 L1704.5,580.7 L1705.9,580.7 L1707.3,580.7 L1708.7,580.7 L1710.1,580.8 L1711.5,580.9 L1713.0,581.0 L1714.4,581.2 L1715.8,581.4 L1717.2,581.8 L1718.6,582.5 L1718.6,583.2 L1717.2,584.0 L1715.8,584.4 L1714.4,584.6 L1713.0,584.8 L1711.5,584.9 L1710.1,585.0 L1708.7,585.1 L1707.3,585.1 L1705.9,585.1 L1704.5,585.1 L1703.1,585.1 L1701.7,585.1 L1700.2,585.1 L1698.8,585.1 L1697.4,585.1 L1696.0,585.1 L1694.6,585.1 L1693.2,585.0 L1691.8,584.9 L1690.4,584.8 L1688.9,584.6 L1687.5,584.4 L1686.1,584.0 L1684.7,583.2Z" fill="rgb(64,64,64)" filter="url(#bl)"/>
<path d="M1728.0,582.2 L1729.3,582.2 L1730.7,582.1 L1732.0,582.0 L1733.3,581.9 L1734.7,581.9 L1736.0,581.9 L1737.3,581.9 L1738.7,581.9 L1740.0,581.9 L1741.3,581.9 L1742.7,581.9 L1744.0,581.9 L1745.3,581.9 L1746.7,581.9 L1748.0,581.9 L1749.3,581.9 L1750.7,581.9 L1752.0,581.9 L1753.3,581.9 L1754.7,581.9 L1756.0,582.0 L1757.3,582.1 L1758.7,582.2 L1760.0,582.2 L1760.0,583.0 L1758.7,583.0 L1757.3,583.1 L1756.0,583.2 L1754.7,583.3 L1753.3,583.3 L1752.0,583.3 L1750.7,583.3 L1749.3,583.3 L1748.0,583.3 L1746.7,583.3 L1745.3,583.3 L1744.0,583.4 L1742.7,583.3 L1741.3,583.3 L1740.0,583.3 L1738.7,583.3 L1737.3,583.3 L1736.0,583.3 L1734.7,583.3 L1733.3,583.3 L1732.0,583.2 L1730.7,583.1 L1729.3,583.0 L1728.0,583.0Z" fill="rgb(212,212,212)" filter="url(#bl)"/>
<path d="M1764.3,582.2 L1765.9,580.9 L1767.6,580.4 L1769.2,580.0 L1770.9,579.9 L1772.5,579.7 L1774.2,579.7 L1775.8,579.6 L1777.5,579.6 L1779.1,579.6 L1780.8,579.6 L1782.4,579.6 L1784.1,579.6 L1785.8,579.6 L1787.4,579.6 L1789.0,579.6 L1790.7,579.6 L1792.3,579.6 L1794.0,579.7 L1795.6,579.7 L1797.3,579.9 L1799.0,580.0 L1800.6,580.4 L1802.2,580.9 L1803.9,582.2 L1803.9,583.0 L1802.2,584.3 L1800.6,584.8 L1799.0,585.2 L1797.3,585.3 L1795.6,585.5 L1794.0,585.5 L1792.3,585.6 L1790.7,585.6 L1789.0,585.6 L1787.4,585.6 L1785.8,585.6 L1784.1,585.6 L1782.4,585.6 L1780.8,585.6 L1779.1,585.6 L1777.5,585.6 L1775.8,585.6 L1774.2,585.5 L1772.5,585.5 L1770.9,585.3 L1769.2,585.2 L1767.6,584.8 L1765.9,584.3 L1764.3,583.0Z" fill="rgb(0,0,0)" filter="url(#bl)"/>
<path d="M1808.0,582.4 L1809.2,582.3 L1810.5,582.1 L1811.8,582.0 L1813.0,581.9 L1814.2,581.9 L1815.5,581.8 L1816.8,581.8 L1818.0,581.8 L1819.2,581.8 L1820.5,581.8 L1821.8,581.8 L1823.0,581.8 L1824.2,581.8 L1825.5,581.8 L1826.8,581.8 L1828.0,581.8 L1829.2,581.8 L1830.5,581.8 L1831.8,581.9 L1833.0,581.9 L1834.2,582.0 L1835.5,582.1 L1836.8,582.3 L1838.0,582.4 L1838.0,583.1 L1836.8,583.3 L1835.5,583.5 L1834.2,583.6 L1833.0,583.7 L1831.8,583.7 L1830.5,583.8 L1829.2,583.8 L1828.0,583.8 L1826.8,583.8 L1825.5,583.8 L1824.2,583.8 L1823.0,583.8 L1821.8,583.8 L1820.5,583.8 L1819.2,583.8 L1818.0,583.8 L1816.8,583.8 L1815.5,583.8 L1814.2,583.7 L1813.0,583.7 L1811.8,583.6 L1810.5,583.5 L1809.2,583.3 L1808.0,583.1Z" fill="rgb(196,196,196)" filter="url(#bl)"/>
<path d="M1839.8,582.0 L1841.3,581.4 L1842.9,581.1 L1844.4,580.9 L1846.0,580.7 L1847.5,580.6 L1849.0,580.5 L1850.6,580.5 L1852.1,580.4 L1853.6,580.4 L1855.2,580.4 L1856.7,580.4 L1858.2,580.4 L1859.8,580.4 L1861.3,580.4 L1862.9,580.4 L1864.4,580.4 L1865.9,580.5 L1867.5,580.5 L1869.0,580.6 L1870.5,580.7 L1872.1,580.9 L1873.6,581.1 L1875.2,581.4 L1876.7,582.0 L1876.7,582.8 L1875.2,583.4 L1873.6,583.7 L1872.1,583.9 L1870.5,584.1 L1869.0,584.2 L1867.5,584.3 L1865.9,584.3 L1864.4,584.4 L1862.9,584.4 L1861.3,584.4 L1859.8,584.4 L1858.2,584.4 L1856.7,584.4 L1855.2,584.4 L1853.6,584.4 L1852.1,584.4 L1850.6,584.3 L1849.0,584.3 L1847.5,584.2 L1846.0,584.1 L1844.4,583.9 L1842.9,583.7 L1841.3,583.4 L1839.8,582.8Z" fill="rgb(103,103,103)" filter="url(#bl)"/>
<path d="M1881.7,582.2 L1883.0,582.1 L1884.2,581.9 L1885.5,581.8 L1886.7,581.7 L1888.0,581.7 L1889.2,581.6 L1890.5,581.6 L1891.7,581.6 L1893.0,581.6 L1894.2,581.6 L1895.5,581.6 L1896.7,581.6 L1898.0,581.6 L1899.2,581.6 L1900.5,581.6 L1901.7,581.6 L1903.0,581.6 L1904.2,581.6 L1905.5,581.7 L1906.7,581.7 L1908.0,581.8 L1909.2,581.9 L1910.5,582.1 L1911.7,582.2 L1911.7,583.0 L1910.5,583.1 L1909.2,583.3 L1908.0,583.4 L1906.7,583.5 L1905.5,583.5 L1904.2,583.6 L1903.0,583.6 L1901.7,583.6 L1900.5,583.6 L1899.2,583.6 L1898.0,583.6 L1896.7,583.6 L1895.5,583.6 L1894.2,583.6 L1893.0,583.6 L1891.7,583.6 L1890.5,583.6 L1889.2,583.6 L1888.0,583.5 L1886.7,583.5 L1885.5,583.4 L1884.2,583.3 L1883.0,583.1 L1881.7,583.0Z" fill="rgb(184,184,184)" filter="url(#bl)"/>
<path d="M1916.7,582.2 L1918.2,581.8 L1919.7,581.5 L1921.2,581.3 L1922.7,581.1 L1924.2,581.0 L1925.7,581.0 L1927.2,580.9 L1928.7,580.9 L1930.2,580.9 L1931.7,580.9 L1933.2,580.9 L1934.7,580.9 L1936.1,580.9 L1937.6,580.9 L1939.1,580.9 L1940.6,580.9 L1942.1,580.9 L1943.6,581.0 L1945.1,581.0 L1946.6,581.1 L1948.1,581.3 L1949.6,581.5 L1951.1,581.8 L1952.6,582.2 L1952.6,583.0 L1951.1,583.4 L1949.6,583.7 L1948.1,583.9 L1946.6,584.1 L1945.1,584.2 L1943.6,584.2 L1942.1,584.3 L1940.6,584.3 L1939.1,584.3 L1937.6,584.3 L1936.1,584.3 L1934.7,584.4 L1933.2,584.3 L1931.7,584.3 L1930.2,584.3 L1928.7,584.3 L1927.2,584.3 L1925.7,584.2 L1924.2,584.2 L1922.7,584.1 L1921.2,583.9 L1919.7,583.7 L1918.2,583.4 L1916.7,583.0Z" fill="rgb(127,127,127)" filter="url(#bl)"/>
<path d="M1497.4,642.9 L1498.8,640.9 L1500.2,640.3 L1501.6,640.0 L1503.0,639.9 L1504.4,639.8 L1505.8,639.8 L1507.2,639.8 L1508.6,639.8 L1510.0,639.8 L1511.4,639.8 L1512.8,639.8 L1514.2,639.8 L1515.6,639.8 L1517.0,639.8 L1518.4,639.8 L1519.8,639.8 L1521.2,639.8 L1522.6,639.8 L1524.0,639.8 L1525.4,639.9 L1526.8,640.0 L1528.2,640.3 L1529.6,640.9 L1531.0,642.9 L1531.0,643.6 L1529.6,645.7 L1528.2,646.3 L1526.8,646.6 L1525.4,646.7 L1524.0,646.8 L1522.6,646.8 L1521.2,646.8 L1519.8,646.8 L1518.4,646.8 L1517.0,646.8 L1515.6,646.8 L1514.2,646.8 L1512.8,646.8 L1511.4,646.8 L1510.0,646.8 L1508.6,646.8 L1507.2,646.8 L1505.8,646.8 L1504.4,646.8 L1503.0,646.7 L1501.6,646.6 L1500.2,646.3 L1498.8,645.7 L1497.4,643.6Z" fill="rgb(0,0,0)" filter="url(#bl)"/>
<path d="M1535.1,643.1 L1536.5,641.1 L1537.9,640.5 L1539.3,640.2 L1540.7,640.1 L1542.1,640.0 L1543.5,640.0 L1544.9,640.0 L1546.3,640.0 L1547.7,640.0 L1549.1,640.0 L1550.5,640.0 L1551.9,640.0 L1553.4,640.0 L1554.8,640.0 L1556.2,640.0 L1557.6,640.0 L1559.0,640.0 L1560.4,640.0 L1561.8,640.0 L1563.2,640.1 L1564.6,640.2 L1566.0,640.5 L1567.4,641.1 L1568.8,643.1 L1568.8,643.9 L1567.4,645.9 L1566.0,646.5 L1564.6,646.8 L1563.2,646.9 L1561.8,647.0 L1560.4,647.0 L1559.0,647.0 L1557.6,647.0 L1556.2,647.0 L1554.8,647.0 L1553.4,647.0 L1551.9,647.0 L1550.5,647.0 L1549.1,647.0 L1547.7,647.0 L1546.3,647.0 L1544.9,647.0 L1543.5,647.0 L1542.1,647.0 L1540.7,646.9 L1539.3,646.8 L1537.9,646.5 L1536.5,645.9 L1535.1,643.9Z" fill="rgb(0,0,0)" filter="url(#bl)"/>
<path d="M1572.2,642.9 L1573.5,640.9 L1574.8,640.3 L1576.2,640.0 L1577.5,639.9 L1578.8,639.8 L1580.1,639.8 L1581.4,639.8 L1582.7,639.8 L1584.0,639.8 L1585.4,639.8 L1586.7,639.8 L1588.0,639.8 L1589.3,639.8 L1590.6,639.8 L1592.0,639.8 L1593.3,639.8 L1594.6,639.8 L1595.9,639.8 L1597.2,639.8 L1598.5,639.9 L1599.8,640.0 L1601.2,640.3 L1602.5,640.9 L1603.8,642.9 L1603.8,643.6 L1602.5,645.7 L1601.2,646.3 L1599.8,646.6 L1598.5,646.7 L1597.2,646.8 L1595.9,646.8 L1594.6,646.8 L1593.3,646.8 L1592.0,646.8 L1590.6,646.8 L1589.3,646.8 L1588.0,646.8 L1586.7,646.8 L1585.4,646.8 L1584.0,646.8 L1582.7,646.8 L1581.4,646.8 L1580.1,646.8 L1578.8,646.8 L1577.5,646.7 L1576.2,646.6 L1574.8,646.3 L1573.5,645.7 L1572.2,643.6Z" fill="rgb(0,0,0)" filter="url(#bl)"/>
<path d="M1607.3,644.4 L1608.8,642.2 L1610.4,641.5 L1611.9,641.2 L1613.5,641.1 L1615.0,641.0 L1616.5,641.0 L1618.1,641.0 L1619.6,641.0 L1621.2,641.0 L1622.7,641.0 L1624.3,641.0 L1625.8,641.0 L1627.3,641.0 L1628.9,641.0 L1630.4,641.0 L1632.0,641.0 L1633.5,641.0 L1635.0,641.0 L1636.6,641.0 L1638.1,641.1 L1639.7,641.2 L1641.2,641.5 L1642.8,642.2 L1644.3,644.4 L1644.3,645.1 L1642.8,647.2 L1641.2,647.9 L1639.7,648.2 L1638.1,648.3 L1636.6,648.4 L1635.0,648.4 L1633.5,648.4 L1632.0,648.4 L1630.4,648.4 L1628.9,648.4 L1627.3,648.4 L1625.8,648.5 L1624.3,648.4 L1622.7,648.4 L1621.2,648.4 L1619.6,648.4 L1618.1,648.4 L1616.5,648.4 L1615.0,648.4 L1613.5,648.3 L1611.9,648.2 L1610.4,647.9 L1608.8,647.2 L1607.3,645.1Z" fill="rgb(0,0,0)" filter="url(#bl)"/>
<path d="M1645.7,643.9 L1647.1,641.7 L1648.5,641.0 L1649.9,640.7 L1651.3,640.6 L1652.7,640.5 L1654.1,640.5 L1655.5,640.5 L1656.9,640.5 L1658.3,640.5 L1659.7,640.5 L1661.1,640.5 L1662.6,640.5 L1664.0,640.5 L1665.4,640.5 L1666.8,640.5 L1668.2,640.5 L1669.6,640.5 L1671.0,640.5 L1672.4,640.5 L1673.8,640.6 L1675.2,640.7 L1676.6,641.0 L1678.0,641.7 L1679.4,643.9 L1679.4,644.6 L1678.0,646.7 L1676.6,647.4 L1675.2,647.7 L1673.8,647.8 L1672.4,647.9 L1671.0,647.9 L1669.6,647.9 L1668.2,647.9 L1666.8,647.9 L1665.4,647.9 L1664.0,647.9 L1662.6,648.0 L1661.1,647.9 L1659.7,647.9 L1658.3,647.9 L1656.9,647.9 L1655.5,647.9 L1654.1,647.9 L1652.7,647.9 L1651.3,647.8 L1649.9,647.7 L1648.5,647.4 L1647.1,646.7 L1645.7,644.6Z" fill="rgb(0,0,0)" filter="url(#bl)"/>
<path d="M1681.4,643.1 L1682.9,641.7 L1684.4,641.1 L1685.9,640.7 L1687.4,640.5 L1688.8,640.4 L1690.3,640.3 L1691.8,640.3 L1693.3,640.3 L1694.8,640.3 L1696.3,640.3 L1697.8,640.3 L1699.2,640.2 L1700.7,640.3 L1702.2,640.3 L1703.7,640.3 L1705.2,640.3 L1706.7,640.3 L1708.2,640.3 L1709.7,640.4 L1711.1,640.5 L1712.6,640.7 L1714.1,641.1 L1715.6,641.7 L1717.1,643.1 L1717.1,643.9 L1715.6,645.3 L1714.1,645.9 L1712.6,646.3 L1711.1,646.5 L1709.7,646.6 L1708.2,646.7 L1706.7,646.7 L1705.2,646.7 L1703.7,646.7 L1702.2,646.7 L1700.7,646.7 L1699.2,646.8 L1697.8,646.7 L1696.3,646.7 L1694.8,646.7 L1693.3,646.7 L1691.8,646.7 L1690.3,646.7 L1688.8,646.6 L1687.4,646.5 L1685.9,646.3 L1684.4,645.9 L1682.9,645.3 L1681.4,643.9Z" fill="rgb(0,0,0)" filter="url(#bl)"/>
<path d="M1731.0,642.6 L1732.4,641.2 L1733.9,640.6 L1735.3,640.2 L1736.8,640.0 L1738.2,639.9 L1739.7,639.8 L1741.1,639.8 L1742.6,639.8 L1744.0,639.8 L1745.5,639.8 L1746.9,639.8 L1748.3,639.8 L1749.8,639.8 L1751.2,639.8 L1752.7,639.8 L1754.1,639.8 L1755.6,639.8 L1757.0,639.8 L1758.5,639.9 L1759.9,640.0 L1761.4,640.2 L1762.8,640.6 L1764.3,641.2 L1765.7,642.6 L1765.7,643.4 L1764.3,644.8 L1762.8,645.4 L1761.4,645.8 L1759.9,646.0 L1758.5,646.1 L1757.0,646.2 L1755.6,646.2 L1754.1,646.2 L1752.7,646.2 L1751.2,646.2 L1749.8,646.2 L1748.3,646.2 L1746.9,646.2 L1745.5,646.2 L1744.0,646.2 L1742.6,646.2 L1741.1,646.2 L1739.7,646.2 L1738.2,646.1 L1736.8,646.0 L1735.3,645.8 L1733.9,645.4 L1732.4,644.8 L1731.0,643.4Z" fill="rgb(0,0,0)" filter="url(#bl)"/>
<path d="M1769.0,642.6 L1770.4,641.2 L1771.9,640.6 L1773.3,640.2 L1774.8,640.0 L1776.2,639.9 L1777.7,639.8 L1779.1,639.8 L1780.6,639.8 L1782.0,639.8 L1783.5,639.8 L1784.9,639.8 L1786.3,639.8 L1787.8,639.8 L1789.2,639.8 L1790.7,639.8 L1792.1,639.8 L1793.6,639.8 L1795.0,639.8 L1796.5,639.9 L1797.9,640.0 L1799.4,640.2 L1800.8,640.6 L1802.3,641.2 L1803.7,642.6 L1803.7,643.4 L1802.3,644.8 L1800.8,645.4 L1799.4,645.8 L1797.9,646.0 L1796.5,646.1 L1795.0,646.2 L1793.6,646.2 L1792.1,646.2 L1790.7,646.2 L1789.2,646.2 L1787.8,646.2 L1786.3,646.2 L1784.9,646.2 L1783.5,646.2 L1782.0,646.2 L1780.6,646.2 L1779.1,646.2 L1777.7,646.2 L1776.2,646.1 L1774.8,646.0 L1773.3,645.8 L1771.9,645.4 L1770.4,644.8 L1769.0,643.4Z" fill="rgb(0,0,0)" filter="url(#bl)"/>
<path d="M1807.0,642.6 L1808.4,641.3 L1809.9,640.8 L1811.3,640.4 L1812.8,640.3 L1814.2,640.1 L1815.7,640.1 L1817.1,640.0 L1818.5,640.0 L1820.0,640.0 L1821.4,640.0 L1822.9,640.0 L1824.3,640.0 L1825.7,640.0 L1827.2,640.0 L1828.6,640.0 L1830.1,640.0 L1831.5,640.0 L1832.9,640.1 L1834.4,640.1 L1835.8,640.3 L1837.3,640.4 L1838.7,640.8 L1840.2,641.3 L1841.6,642.6 L1841.6,643.4 L1840.2,644.7 L1838.7,645.2 L1837.3,645.6 L1835.8,645.7 L1834.4,645.9 L1832.9,645.9 L1831.5,646.0 L1830.1,646.0 L1828.6,646.0 L1827.2,646.0 L1825.7,646.0 L1824.3,646.0 L1822.9,646.0 L1821.4,646.0 L1820.0,646.0 L1818.5,646.0 L1817.1,646.0 L1815.7,645.9 L1814.2,645.9 L1812.8,645.7 L1811.3,645.6 L1809.9,645.2 L1808.4,644.7 L1807.0,643.4Z" fill="rgb(0,0,0)" filter="url(#bl)"/>
<path d="M1843.3,642.6 L1844.7,640.6 L1846.2,640.0 L1847.6,639.7 L1849.1,639.6 L1850.5,639.5 L1852.0,639.5 L1853.4,639.5 L1854.9,639.5 L1856.3,639.5 L1857.8,639.5 L1859.2,639.5 L1860.7,639.5 L1862.1,639.5 L1863.5,639.5 L1865.0,639.5 L1866.4,639.5 L1867.9,639.5 L1869.3,639.5 L1870.8,639.5 L1872.2,639.6 L1873.7,639.7 L1875.1,640.0 L1876.6,640.6 L1878.0,642.6 L1878.0,643.4 L1876.6,645.4 L1875.1,646.0 L1873.7,646.3 L1872.2,646.4 L1870.8,646.5 L1869.3,646.5 L1867.9,646.5 L1866.4,646.5 L1865.0,646.5 L1863.5,646.5 L1862.1,646.5 L1860.7,646.5 L1859.2,646.5 L1857.8,646.5 L1856.3,646.5 L1854.9,646.5 L1853.4,646.5 L1852.0,646.5 L1850.5,646.5 L1849.1,646.4 L1847.6,646.3 L1846.2,646.0 L1844.7,645.4 L1843.3,643.4Z" fill="rgb(0,0,0)" filter="url(#bl)"/>
<path d="M1881.2,643.1 L1882.6,641.1 L1884.0,640.5 L1885.4,640.2 L1886.8,640.1 L1888.2,640.0 L1889.6,640.0 L1891.0,640.0 L1892.4,640.0 L1893.8,640.0 L1895.2,640.0 L1896.6,640.0 L1898.1,640.0 L1899.5,640.0 L1900.9,640.0 L1902.3,640.0 L1903.7,640.0 L1905.1,640.0 L1906.5,640.0 L1907.9,640.0 L1909.3,640.1 L1910.7,640.2 L1912.1,640.5 L1913.5,641.1 L1914.9,643.1 L1914.9,643.9 L1913.5,645.9 L1912.1,646.5 L1910.7,646.8 L1909.3,646.9 L1907.9,647.0 L1906.5,647.0 L1905.1,647.0 L1903.7,647.0 L1902.3,647.0 L1900.9,647.0 L1899.5,647.0 L1898.1,647.0 L1896.6,647.0 L1895.2,647.0 L1893.8,647.0 L1892.4,647.0 L1891.0,647.0 L1889.6,647.0 L1888.2,647.0 L1886.8,646.9 L1885.4,646.8 L1884.0,646.5 L1882.6,645.9 L1881.2,643.9Z" fill="rgb(0,0,0)" filter="url(#bl)"/>
<path d="M1916.9,641.9 L1918.4,639.9 L1919.8,639.3 L1921.3,639.0 L1922.8,638.9 L1924.3,638.8 L1925.7,638.8 L1927.2,638.8 L1928.7,638.8 L1930.1,638.8 L1931.6,638.8 L1933.1,638.8 L1934.6,638.8 L1936.0,638.8 L1937.5,638.8 L1939.0,638.8 L1940.4,638.8 L1941.9,638.8 L1943.4,638.8 L1944.8,638.8 L1946.3,638.9 L1947.8,639.0 L1949.3,639.3 L1950.7,639.9 L1952.2,641.9 L1952.2,642.6 L1950.7,644.7 L1949.3,645.3 L1947.8,645.6 L1946.3,645.7 L1944.8,645.8 L1943.4,645.8 L1941.9,645.8 L1940.4,645.8 L1939.0,645.8 L1937.5,645.8 L1936.0,645.8 L1934.6,645.8 L1933.1,645.8 L1931.6,645.8 L1930.1,645.8 L1928.7,645.8 L1927.2,645.8 L1925.7,645.8 L1924.3,645.8 L1922.8,645.7 L1921.3,645.6 L1919.8,645.3 L1918.4,644.7 L1916.9,642.6Z" fill="rgb(0,0,0)" filter="url(#bl)"/>
<path d="M1498.7,704.6 L1500.3,702.1 L1501.8,701.4 L1503.4,701.0 L1504.9,700.9 L1506.5,700.8 L1508.0,700.8 L1509.6,700.8 L1511.1,700.8 L1512.7,700.8 L1514.2,700.8 L1515.8,700.8 L1517.3,700.8 L1518.9,700.8 L1520.5,700.8 L1522.0,700.8 L1523.6,700.8 L1525.1,700.8 L1526.7,700.8 L1528.2,700.8 L1529.8,700.9 L1531.3,701.0 L1532.9,701.4 L1534.4,702.1 L1536.0,704.6 L1536.0,705.4 L1534.4,707.9 L1532.9,708.6 L1531.3,709.0 L1529.8,709.1 L1528.2,709.2 L1526.7,709.2 L1525.1,709.2 L1523.6,709.2 L1522.0,709.2 L1520.5,709.2 L1518.9,709.2 L1517.3,709.2 L1515.8,709.2 L1514.2,709.2 L1512.7,709.2 L1511.1,709.2 L1509.6,709.2 L1508.0,709.2 L1506.5,709.2 L1504.9,709.1 L1503.4,709.0 L1501.8,708.6 L1500.3,707.9 L1498.7,705.4Z" fill="rgb(0,0,0)" filter="url(#bl)"/>
<path d="M1534.0,704.9 L1535.6,702.4 L1537.2,701.7 L1538.9,701.3 L1540.5,701.2 L1542.1,701.1 L1543.8,701.1 L1545.4,701.1 L1547.0,701.1 L1548.6,701.1 L1550.2,701.1 L1551.9,701.1 L1553.5,701.0 L1555.1,701.1 L1556.8,701.1 L1558.4,701.1 L1560.0,701.1 L1561.6,701.1 L1563.2,701.1 L1564.9,701.1 L1566.5,701.2 L1568.1,701.3 L1569.8,701.7 L1571.4,702.4 L1573.0,704.9 L1573.0,705.6 L1571.4,708.2 L1569.8,708.9 L1568.1,709.3 L1566.5,709.4 L1564.9,709.5 L1563.2,709.5 L1561.6,709.5 L1560.0,709.5 L1558.4,709.5 L1556.8,709.5 L1555.1,709.5 L1553.5,709.5 L1551.9,709.5 L1550.2,709.5 L1548.6,709.5 L1547.0,709.5 L1545.4,709.5 L1543.8,709.5 L1542.1,709.5 L1540.5,709.4 L1538.9,709.3 L1537.2,708.9 L1535.6,708.2 L1534.0,705.6Z" fill="rgb(0,0,0)" filter="url(#bl)"/>
<path d="M1571.0,704.9 L1572.6,702.3 L1574.2,701.6 L1575.8,701.2 L1577.3,701.1 L1578.9,701.0 L1580.5,701.0 L1582.1,701.0 L1583.7,701.0 L1585.2,701.0 L1586.8,701.0 L1588.4,701.0 L1590.0,701.0 L1591.6,701.0 L1593.2,701.0 L1594.8,701.0 L1596.3,701.0 L1597.9,701.0 L1599.5,701.0 L1601.1,701.0 L1602.7,701.1 L1604.2,701.2 L1605.8,701.6 L1607.4,702.3 L1609.0,704.9 L1609.0,705.6 L1607.4,708.1 L1605.8,708.8 L1604.2,709.2 L1602.7,709.3 L1601.1,709.4 L1599.5,709.4 L1597.9,709.4 L1596.3,709.4 L1594.8,709.4 L1593.2,709.4 L1591.6,709.4 L1590.0,709.5 L1588.4,709.4 L1586.8,709.4 L1585.2,709.4 L1583.7,709.4 L1582.1,709.4 L1580.5,709.4 L1578.9,709.4 L1577.3,709.3 L1575.8,709.2 L1574.2,708.8 L1572.6,708.1 L1571.0,705.6Z" fill="rgb(0,0,0)" filter="url(#bl)"/>
<path d="M1607.0,704.6 L1608.6,702.1 L1610.2,701.4 L1611.8,701.0 L1613.3,700.9 L1614.9,700.8 L1616.5,700.8 L1618.1,700.8 L1619.7,700.8 L1621.2,700.8 L1622.8,700.8 L1624.4,700.8 L1626.0,700.8 L1627.6,700.8 L1629.2,700.8 L1630.8,700.8 L1632.3,700.8 L1633.9,700.8 L1635.5,700.8 L1637.1,700.8 L1638.7,700.9 L1640.2,701.0 L1641.8,701.4 L1643.4,702.1 L1645.0,704.6 L1645.0,705.4 L1643.4,707.9 L1641.8,708.6 L1640.2,709.0 L1638.7,709.1 L1637.1,709.2 L1635.5,709.2 L1633.9,709.2 L1632.3,709.2 L1630.8,709.2 L1629.2,709.2 L1627.6,709.2 L1626.0,709.2 L1624.4,709.2 L1622.8,709.2 L1621.2,709.2 L1619.7,709.2 L1618.1,709.2 L1616.5,709.2 L1614.9,709.2 L1613.3,709.1 L1611.8,709.0 L1610.2,708.6 L1608.6,707.9 L1607.0,705.4Z" fill="rgb(0,0,0)" filter="url(#bl)"/>
<path d="M1643.0,704.4 L1644.5,701.9 L1646.1,701.2 L1647.6,700.8 L1649.2,700.7 L1650.7,700.6 L1652.2,700.6 L1653.8,700.6 L1655.3,700.6 L1656.9,700.6 L1658.4,700.6 L1660.0,700.6 L1661.5,700.5 L1663.0,700.6 L1664.6,700.6 L1666.1,700.6 L1667.7,700.6 L1669.2,700.6 L1670.8,700.6 L1672.3,700.6 L1673.8,700.7 L1675.4,700.8 L1676.9,701.2 L1678.5,701.9 L1680.0,704.4 L1680.0,705.1 L1678.5,707.7 L1676.9,708.4 L1675.4,708.8 L1673.8,708.9 L1672.3,709.0 L1670.8,709.0 L1669.2,709.0 L1667.7,709.0 L1666.1,709.0 L1664.6,709.0 L1663.0,709.0 L1661.5,709.0 L1660.0,709.0 L1658.4,709.0 L1656.9,709.0 L1655.3,709.0 L1653.8,709.0 L1652.2,709.0 L1650.7,709.0 L1649.2,708.9 L1647.6,708.8 L1646.1,708.4 L1644.5,707.7 L1643.0,705.1Z" fill="rgb(0,0,0)" filter="url(#bl)"/>
<path d="M1678.0,704.4 L1679.6,702.1 L1681.2,701.4 L1682.7,701.1 L1684.3,700.9 L1685.9,700.8 L1687.5,700.8 L1689.0,700.8 L1690.6,700.8 L1692.2,700.8 L1693.8,700.8 L1695.3,700.8 L1696.9,700.8 L1698.5,700.8 L1700.1,700.8 L1701.6,700.8 L1703.2,700.8 L1704.8,700.8 L1706.4,700.8 L1707.9,700.8 L1709.5,700.9 L1711.1,701.1 L1712.7,701.4 L1714.2,702.1 L1715.8,704.4 L1715.8,705.1 L1714.2,707.5 L1712.7,708.2 L1711.1,708.5 L1709.5,708.7 L1707.9,708.8 L1706.4,708.8 L1704.8,708.8 L1703.2,708.8 L1701.6,708.8 L1700.1,708.8 L1698.5,708.8 L1696.9,708.8 L1695.3,708.8 L1693.8,708.8 L1692.2,708.8 L1690.6,708.8 L1689.0,708.8 L1687.5,708.8 L1685.9,708.8 L1684.3,708.7 L1682.7,708.5 L1681.2,708.2 L1679.6,707.5 L1678.0,705.1Z" fill="rgb(0,0,0)" filter="url(#bl)"/>
<path d="M1732.0,703.4 L1733.6,701.4 L1735.2,700.8 L1736.8,700.5 L1738.4,700.4 L1740.1,700.3 L1741.7,700.3 L1743.3,700.3 L1744.9,700.3 L1746.5,700.3 L1748.1,700.3 L1749.7,700.3 L1751.3,700.3 L1753.0,700.3 L1754.6,700.3 L1756.2,700.3 L1757.8,700.3 L1759.4,700.3 L1761.0,700.3 L1762.6,700.3 L1764.2,700.4 L1765.9,700.5 L1767.5,700.8 L1769.1,701.4 L1770.7,703.4 L1770.7,704.1 L1769.1,706.2 L1767.5,706.8 L1765.9,707.1 L1764.2,707.2 L1762.6,707.3 L1761.0,707.3 L1759.4,707.3 L1757.8,707.3 L1756.2,707.3 L1754.6,707.3 L1753.0,707.3 L1751.3,707.3 L1749.7,707.3 L1748.1,707.3 L1746.5,707.3 L1744.9,707.3 L1743.3,707.3 L1741.7,707.3 L1740.1,707.3 L1738.4,707.2 L1736.8,707.1 L1735.2,706.8 L1733.6,706.2 L1732.0,704.1Z" fill="rgb(0,0,0)" filter="url(#bl)"/>
<path d="M1773.0,703.1 L1774.3,701.0 L1775.7,700.3 L1777.0,700.0 L1778.4,699.9 L1779.7,699.8 L1781.1,699.8 L1782.4,699.8 L1783.8,699.8 L1785.1,699.8 L1786.5,699.8 L1787.8,699.8 L1789.2,699.8 L1790.5,699.8 L1791.8,699.8 L1793.2,699.8 L1794.5,699.8 L1795.9,699.8 L1797.2,699.8 L1798.6,699.8 L1799.9,699.9 L1801.3,700.0 L1802.6,700.3 L1804.0,701.0 L1805.3,703.1 L1805.3,703.9 L1804.0,706.0 L1802.6,706.7 L1801.3,707.0 L1799.9,707.1 L1798.6,707.2 L1797.2,707.2 L1795.9,707.2 L1794.5,707.2 L1793.2,707.2 L1791.8,707.2 L1790.5,707.2 L1789.2,707.2 L1787.8,707.2 L1786.5,707.2 L1785.1,707.2 L1783.8,707.2 L1782.4,707.2 L1781.1,707.2 L1779.7,707.2 L1778.4,707.1 L1777.0,707.0 L1775.7,706.7 L1774.3,706.0 L1773.0,703.9Z" fill="rgb(0,0,0)" filter="url(#bl)"/>
<path d="M1809.3,702.9 L1810.6,700.9 L1811.9,700.3 L1813.3,700.0 L1814.6,699.9 L1815.9,699.8 L1817.2,699.8 L1818.5,699.8 L1819.9,699.8 L1821.2,699.8 L1822.5,699.8 L1823.8,699.8 L1825.2,699.8 L1826.5,699.8 L1827.8,699.8 L1829.1,699.8 L1830.4,699.8 L1831.8,699.8 L1833.1,699.8 L1834.4,699.8 L1835.7,699.9 L1837.0,700.0 L1838.4,700.3 L1839.7,700.9 L1841.0,702.9 L1841.0,703.6 L1839.7,705.7 L1838.4,706.3 L1837.0,706.6 L1835.7,706.7 L1834.4,706.8 L1833.1,706.8 L1831.8,706.8 L1830.4,706.8 L1829.1,706.8 L1827.8,706.8 L1826.5,706.8 L1825.2,706.8 L1823.8,706.8 L1822.5,706.8 L1821.2,706.8 L1819.9,706.8 L1818.5,706.8 L1817.2,706.8 L1815.9,706.8 L1814.6,706.7 L1813.3,706.6 L1811.9,706.3 L1810.6,705.7 L1809.3,703.6Z" fill="rgb(0,0,0)" filter="url(#bl)"/>
<path d="M1843.3,703.1 L1844.7,701.7 L1846.2,701.1 L1847.6,700.7 L1849.1,700.5 L1850.5,700.4 L1852.0,700.3 L1853.4,700.3 L1854.9,700.3 L1856.3,700.3 L1857.8,700.3 L1859.2,700.3 L1860.7,700.2 L1862.1,700.3 L1863.5,700.3 L1865.0,700.3 L1866.4,700.3 L1867.9,700.3 L1869.3,700.3 L1870.8,700.4 L1872.2,700.5 L1873.7,700.7 L1875.1,701.1 L1876.6,701.7 L1878.0,703.1 L1878.0,703.9 L1876.6,705.3 L1875.1,705.9 L1873.7,706.3 L1872.2,706.5 L1870.8,706.6 L1869.3,706.7 L1867.9,706.7 L1866.4,706.7 L1865.0,706.7 L1863.5,706.7 L1862.1,706.7 L1860.7,706.8 L1859.2,706.7 L1857.8,706.7 L1856.3,706.7 L1854.9,706.7 L1853.4,706.7 L1852.0,706.7 L1850.5,706.6 L1849.1,706.5 L1847.6,706.3 L1846.2,705.9 L1844.7,705.3 L1843.3,703.9Z" fill="rgb(0,0,0)" filter="url(#bl)"/>
<path d="M1880.6,703.0 L1882.0,701.0 L1883.4,700.4 L1884.8,700.1 L1886.2,700.0 L1887.6,699.9 L1889.0,699.9 L1890.4,699.9 L1891.8,699.9 L1893.2,699.9 L1894.6,699.9 L1896.0,699.9 L1897.4,699.9 L1898.9,699.9 L1900.3,699.9 L1901.7,699.9 L1903.1,699.9 L1904.5,699.9 L1905.9,699.9 L1907.3,699.9 L1908.7,700.0 L1910.1,700.1 L1911.5,700.4 L1912.9,701.0 L1914.3,703.0 L1914.3,703.8 L1912.9,705.8 L1911.5,706.4 L1910.1,706.7 L1908.7,706.8 L1907.3,706.9 L1905.9,706.9 L1904.5,706.9 L1903.1,706.9 L1901.7,706.9 L1900.3,706.9 L1898.9,706.9 L1897.4,706.9 L1896.0,706.9 L1894.6,706.9 L1893.2,706.9 L1891.8,706.9 L1890.4,706.9 L1889.0,706.9 L1887.6,706.9 L1886.2,706.8 L1884.8,706.7 L1883.4,706.4 L1882.0,705.8 L1880.6,703.8Z" fill="rgb(0,0,0)" filter="url(#bl)"/>
<path d="M1916.9,702.4 L1918.3,700.4 L1919.8,699.8 L1921.2,699.5 L1922.6,699.4 L1924.0,699.3 L1925.5,699.3 L1926.9,699.3 L1928.3,699.3 L1929.8,699.3 L1931.2,699.3 L1932.6,699.3 L1934.1,699.3 L1935.5,699.3 L1936.9,699.3 L1938.3,699.3 L1939.8,699.3 L1941.2,699.3 L1942.6,699.3 L1944.1,699.3 L1945.5,699.4 L1946.9,699.5 L1948.3,699.8 L1949.8,700.4 L1951.2,702.4 L1951.2,703.1 L1949.8,705.2 L1948.3,705.8 L1946.9,706.1 L1945.5,706.2 L1944.1,706.3 L1942.6,706.3 L1941.2,706.3 L1939.8,706.3 L1938.3,706.3 L1936.9,706.3 L1935.5,706.3 L1934.1,706.3 L1932.6,706.3 L1931.2,706.3 L1929.8,706.3 L1928.3,706.3 L1926.9,706.3 L1925.5,706.3 L1924.0,706.3 L1922.6,706.2 L1921.2,706.1 L1919.8,705.8 L1918.3,705.2 L1916.9,703.1Z" fill="rgb(0,0,0)" filter="url(#bl)"/>
<rect x="1502" y="522.0" width="210" height="3.2" fill="#000" filter="url(#bl)"/>
<rect x="1738" y="521.4" width="210" height="3.0" fill="#000" filter="url(#bl)"/>
<rect x="1502" y="642.3" width="211" height="3.0" fill="#000" filter="url(#bl)"/>
<rect x="1735" y="641.6" width="213" height="2.8" fill="#000" filter="url(#bl)"/>
<rect x="1503" y="703.3" width="209" height="3.4" fill="#000" filter="url(#bl)"/>
<rect x="1736" y="701.9" width="211" height="3.0" fill="#000" filter="url(#bl)"/>
<text x="1613.5" y="381.4" font-size="18.3" text-anchor="middle" font-weight="bold" >U87</text>
<text x="1846.2" y="381.4" font-size="18.3" text-anchor="middle" font-weight="bold" >MES28</text>
<text x="1489.2" y="411.0" font-size="18.3" text-anchor="end" font-weight="bold" >Flag-HPRT1</text>
<text x="1489.2" y="435.1" font-size="18.3" text-anchor="end" font-weight="bold" >TMZ</text>
<text x="1541.8" y="411.0" font-size="18.3" text-anchor="middle" font-weight="bold" >WT</text>
<text x="1613.1" y="411.0" font-size="18.3" text-anchor="middle" font-weight="bold" >K166A</text>
<text x="1686.5" y="411.0" font-size="18.3" text-anchor="middle" font-weight="bold" >D138N</text>
<text x="1776.2" y="411.0" font-size="18.3" text-anchor="middle" font-weight="bold" >WT</text>
<text x="1847.8" y="411.0" font-size="18.3" text-anchor="middle" font-weight="bold" >K166A</text>
<text x="1920.5" y="411.0" font-size="18.3" text-anchor="middle" font-weight="bold" >D138N</text>
<line x1="1516.6" y1="420" x2="1561.8" y2="420" stroke="#000" stroke-width="2.6"/>
<line x1="1591.8" y1="420" x2="1637.0" y2="420" stroke="#000" stroke-width="2.6"/>
<line x1="1662.8" y1="420" x2="1708.0" y2="420" stroke="#000" stroke-width="2.6"/>
<line x1="1750.2" y1="420" x2="1795.4" y2="420" stroke="#000" stroke-width="2.6"/>
<line x1="1821.8" y1="420" x2="1867.0" y2="420" stroke="#000" stroke-width="2.6"/>
<line x1="1897.0" y1="420" x2="1942.3" y2="420" stroke="#000" stroke-width="2.6"/>
<text x="1520.9" y="432.8" font-size="18.3" text-anchor="middle" font-weight="bold" >-</text>
<text x="1557.0" y="434.0" font-size="18.3" text-anchor="middle" font-weight="bold" >+</text>
<text x="1595.1" y="432.8" font-size="18.3" text-anchor="middle" font-weight="bold" >-</text>
<text x="1631.9" y="434.0" font-size="18.3" text-anchor="middle" font-weight="bold" >+</text>
<text x="1666.0" y="432.8" font-size="18.3" text-anchor="middle" font-weight="bold" >-</text>
<text x="1703.2" y="434.0" font-size="18.3" text-anchor="middle" font-weight="bold" >+</text>
<text x="1754.2" y="432.8" font-size="18.3" text-anchor="middle" font-weight="bold" >-</text>
<text x="1789.6" y="434.0" font-size="18.3" text-anchor="middle" font-weight="bold" >+</text>
<text x="1825.1" y="432.8" font-size="18.3" text-anchor="middle" font-weight="bold" >-</text>
<text x="1862.2" y="434.0" font-size="18.3" text-anchor="middle" font-weight="bold" >+</text>
<text x="1900.4" y="432.8" font-size="18.3" text-anchor="middle" font-weight="bold" >-</text>
<text x="1936.5" y="434.0" font-size="18.3" text-anchor="middle" font-weight="bold" >+</text>
<text x="1727.5" y="498.5" font-size="18.5" text-anchor="middle" font-weight="bold" >WB: ACC1 pS79</text>
<text x="1727.5" y="558.6" font-size="18.5" text-anchor="middle" font-weight="bold" >WB: ACC1</text>
<text x="1727.5" y="618.3" font-size="18.5" text-anchor="middle" font-weight="bold" >WB: AMPKα pT172</text>
<text x="1727.5" y="679.7" font-size="18.5" text-anchor="middle" font-weight="bold" >WB: AMPKα</text>
<text x="1727.5" y="741.4" font-size="18.5" text-anchor="middle" font-weight="bold" >WB: α-Tubulin</text>
<text x="1965.4" y="459.9" font-size="14.6" font-weight="bold"><tspan font-style="italic">M</tspan><tspan font-size="8.5" dy="3">r</tspan><tspan dy="-3">(K)</tspan></text>
<line x1="1958.8" y1="481.3" x2="1965.8" y2="481.3" stroke="#000" stroke-width="3"/>
<text x="1967.4" y="486.3" font-size="14.2" font-weight="bold">180</text>
<line x1="1958.8" y1="539.8" x2="1965.8" y2="539.8" stroke="#000" stroke-width="3"/>
<text x="1967.4" y="544.8" font-size="14.2" font-weight="bold">180</text>
<line x1="1958.8" y1="566.6" x2="1965.8" y2="566.6" stroke="#000" stroke-width="3"/>
<text x="1967.4" y="571.6" font-size="14.2" font-weight="bold">70</text>
<line x1="1958.8" y1="627.6" x2="1965.8" y2="627.6" stroke="#000" stroke-width="3"/>
<text x="1967.4" y="632.6" font-size="14.2" font-weight="bold">70</text>
<line x1="1958.8" y1="690.3" x2="1965.8" y2="690.3" stroke="#000" stroke-width="3"/>
<text x="1967.4" y="695.3" font-size="14.2" font-weight="bold">55</text>
</svg></body></html>
